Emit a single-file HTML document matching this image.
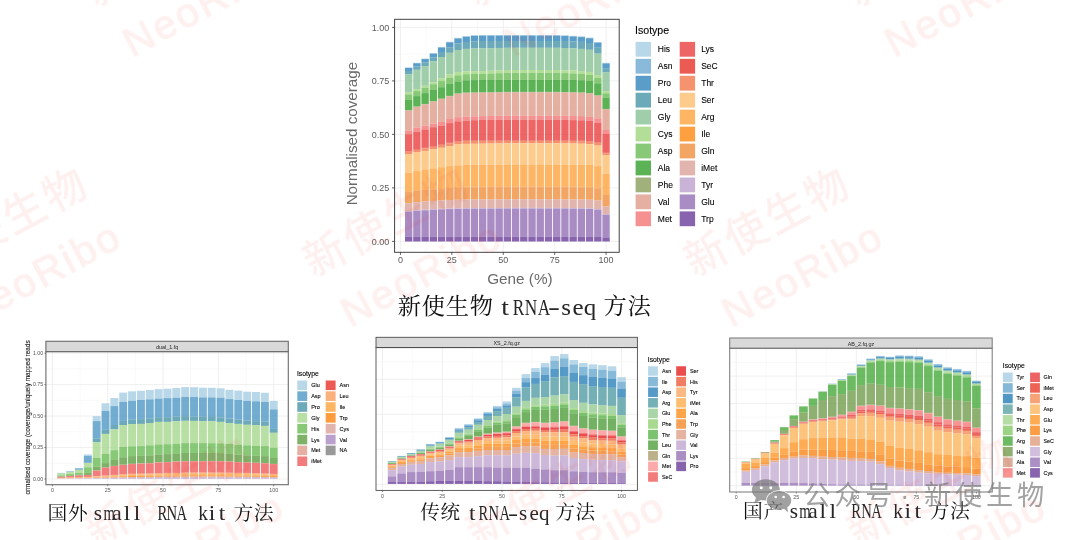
<!DOCTYPE html>
<html lang="zh-CN">
<head>
<meta charset="utf-8">
<title>tRNA-seq 方法比较</title>
<style>
html,body{margin:0;padding:0;background:#fff;}
#page{position:relative;width:1080px;height:540px;overflow:hidden;background:#fff;}
#charts{position:absolute;left:0;top:0;filter:blur(0.45px);}
#charts text{font-family:'Liberation Sans',sans-serif;}
.wm{position:absolute;width:300px;height:140px;transform:rotate(-28deg);color:rgb(235,45,40);opacity:0.066;text-align:center;white-space:nowrap;pointer-events:none;filter:blur(0.4px);}
.wm .w1{position:absolute;left:0;width:300px;top:13.6px;font-family:'Liberation Sans','Noto Sans CJK SC',sans-serif;font-size:42px;line-height:46px;letter-spacing:3.5px;text-indent:3.5px;font-weight:500;}
.wm .w2{position:absolute;left:8px;width:300px;top:76px;font-family:'Liberation Sans','Noto Sans CJK SC',sans-serif;font-size:40.5px;line-height:46px;letter-spacing:2.7px;font-weight:400;-webkit-text-stroke:1.1px rgb(235,45,40);}
.cj,.la{position:absolute;white-space:nowrap;color:#111;line-height:1.25;filter:blur(0.35px);}
.cj{font-family:'Liberation Serif','Noto Serif CJK SC',serif;font-weight:400;}
.la{font-family:'Liberation Serif',serif;color:#262626;}
.la i{display:inline-block;font-style:normal;text-align:center;}
#gz{position:absolute;left:748px;top:474px;width:320px;height:48px;opacity:0.7;filter:blur(0.45px);}
#gz .t{position:absolute;top:4.2px;font-family:'Liberation Sans','Noto Sans CJK SC',sans-serif;font-weight:400;font-size:27.2px;line-height:36px;letter-spacing:3.8px;color:#7c7c7c;white-space:nowrap;}
#gz svg{position:absolute;left:0;top:0;}
</style>
</head>
<body>
<div id="page">
<svg id="charts" width="1080" height="540" viewBox="0 0 1080 540">
<rect x="394.6" y="19.3" width="224.6" height="233" fill="#ffffff"/>
<line x1="426.15" y1="19.3" x2="426.15" y2="252.3" stroke="#f1f1f1" stroke-width="0.4"/>
<line x1="477.55" y1="19.3" x2="477.55" y2="252.3" stroke="#f1f1f1" stroke-width="0.4"/>
<line x1="528.95" y1="19.3" x2="528.95" y2="252.3" stroke="#f1f1f1" stroke-width="0.4"/>
<line x1="580.35" y1="19.3" x2="580.35" y2="252.3" stroke="#f1f1f1" stroke-width="0.4"/>
<line x1="394.6" y1="214.65" x2="619.2" y2="214.65" stroke="#f1f1f1" stroke-width="0.4"/>
<line x1="394.6" y1="161.15" x2="619.2" y2="161.15" stroke="#f1f1f1" stroke-width="0.4"/>
<line x1="394.6" y1="107.65" x2="619.2" y2="107.65" stroke="#f1f1f1" stroke-width="0.4"/>
<line x1="394.6" y1="54.15" x2="619.2" y2="54.15" stroke="#f1f1f1" stroke-width="0.4"/>
<line x1="400.45" y1="19.3" x2="400.45" y2="252.3" stroke="#e9e9e9" stroke-width="0.7"/>
<line x1="451.85" y1="19.3" x2="451.85" y2="252.3" stroke="#e9e9e9" stroke-width="0.7"/>
<line x1="503.25" y1="19.3" x2="503.25" y2="252.3" stroke="#e9e9e9" stroke-width="0.7"/>
<line x1="554.65" y1="19.3" x2="554.65" y2="252.3" stroke="#e9e9e9" stroke-width="0.7"/>
<line x1="606.05" y1="19.3" x2="606.05" y2="252.3" stroke="#e9e9e9" stroke-width="0.7"/>
<line x1="394.6" y1="241.4" x2="619.2" y2="241.4" stroke="#e9e9e9" stroke-width="0.7"/>
<line x1="394.6" y1="187.9" x2="619.2" y2="187.9" stroke="#e9e9e9" stroke-width="0.7"/>
<line x1="394.6" y1="134.4" x2="619.2" y2="134.4" stroke="#e9e9e9" stroke-width="0.7"/>
<line x1="394.6" y1="80.9" x2="619.2" y2="80.9" stroke="#e9e9e9" stroke-width="0.7"/>
<line x1="394.6" y1="27.4" x2="619.2" y2="27.4" stroke="#e9e9e9" stroke-width="0.7"/>
<rect x="405" y="67.5" width="7.35" height="0.18" fill="#a6cee3" fill-opacity="0.8"/>
<rect x="405" y="67.67" width="7.35" height="0.28" fill="#6ca9cf" fill-opacity="0.8"/>
<rect x="405" y="67.95" width="7.35" height="3.04" fill="#3284bb" fill-opacity="0.8"/>
<rect x="405" y="71" width="7.35" height="3.4" fill="#4995a8" fill-opacity="0.8"/>
<rect x="405" y="74.4" width="7.35" height="17.8" fill="#88c296" fill-opacity="0.8"/>
<rect x="405" y="92.2" width="7.35" height="2.2" fill="#a0d67d" fill-opacity="0.8"/>
<rect x="405" y="94.4" width="7.35" height="5.6" fill="#69bb54" fill-opacity="0.8"/>
<rect x="405" y="100" width="7.35" height="10.18" fill="#33a02c" fill-opacity="0.8"/>
<rect x="405" y="110.18" width="7.35" height="0.42" fill="#899d5b" fill-opacity="0.8"/>
<rect x="405" y="110.6" width="7.35" height="20" fill="#de9b89" fill-opacity="0.8"/>
<rect x="405" y="130.6" width="7.35" height="3.6" fill="#f47575" fill-opacity="0.8"/>
<rect x="405" y="134.2" width="7.35" height="16.97" fill="#ea3f40" fill-opacity="0.8"/>
<rect x="405" y="151.17" width="7.35" height="0.53" fill="#e73228" fill-opacity="0.8"/>
<rect x="405" y="151.7" width="7.35" height="2.7" fill="#f2784b" fill-opacity="0.8"/>
<rect x="405" y="154.4" width="7.35" height="18.4" fill="#fdbf6f" fill-opacity="0.8"/>
<rect x="405" y="172.8" width="7.35" height="18.33" fill="#fea43f" fill-opacity="0.8"/>
<rect x="405" y="191.13" width="7.35" height="0.57" fill="#ff8810" fill-opacity="0.8"/>
<rect x="405" y="191.7" width="7.35" height="11.6" fill="#f08e3d" fill-opacity="0.8"/>
<rect x="405" y="203.3" width="7.35" height="7.81" fill="#d9a399" fill-opacity="0.8"/>
<rect x="405" y="211.11" width="7.35" height="0.59" fill="#bca1cd" fill-opacity="0.8"/>
<rect x="405" y="211.7" width="7.35" height="25.1" fill="#936fb4" fill-opacity="0.8"/>
<rect x="405" y="236.8" width="7.35" height="4.7" fill="#6a3d9a" fill-opacity="0.8"/>
<rect x="413.22" y="62.8" width="7.35" height="0.19" fill="#a6cee3" fill-opacity="0.8"/>
<rect x="413.22" y="62.98" width="7.35" height="0.3" fill="#6ca9cf" fill-opacity="0.8"/>
<rect x="413.22" y="63.28" width="7.35" height="3.22" fill="#3284bb" fill-opacity="0.8"/>
<rect x="413.22" y="66.5" width="7.35" height="3.3" fill="#4995a8" fill-opacity="0.8"/>
<rect x="413.22" y="69.8" width="7.35" height="19.3" fill="#88c296" fill-opacity="0.8"/>
<rect x="413.22" y="89.1" width="7.35" height="2" fill="#a0d67d" fill-opacity="0.8"/>
<rect x="413.22" y="91.1" width="7.35" height="5" fill="#69bb54" fill-opacity="0.8"/>
<rect x="413.22" y="96.1" width="7.35" height="10.37" fill="#33a02c" fill-opacity="0.8"/>
<rect x="413.22" y="106.47" width="7.35" height="0.43" fill="#899d5b" fill-opacity="0.8"/>
<rect x="413.22" y="106.9" width="7.35" height="20.9" fill="#de9b89" fill-opacity="0.8"/>
<rect x="413.22" y="127.8" width="7.35" height="3.9" fill="#f47575" fill-opacity="0.8"/>
<rect x="413.22" y="131.7" width="7.35" height="17.75" fill="#ea3f40" fill-opacity="0.8"/>
<rect x="413.22" y="149.45" width="7.35" height="0.55" fill="#e73228" fill-opacity="0.8"/>
<rect x="413.22" y="150" width="7.35" height="2.4" fill="#f2784b" fill-opacity="0.8"/>
<rect x="413.22" y="152.4" width="7.35" height="18.7" fill="#fdbf6f" fill-opacity="0.8"/>
<rect x="413.22" y="171.1" width="7.35" height="18.91" fill="#fea43f" fill-opacity="0.8"/>
<rect x="413.22" y="190.01" width="7.35" height="0.58" fill="#ff8810" fill-opacity="0.8"/>
<rect x="413.22" y="190.6" width="7.35" height="11.6" fill="#f08e3d" fill-opacity="0.8"/>
<rect x="413.22" y="202.2" width="7.35" height="8" fill="#d9a399" fill-opacity="0.8"/>
<rect x="413.22" y="210.2" width="7.35" height="0.6" fill="#bca1cd" fill-opacity="0.8"/>
<rect x="413.22" y="210.8" width="7.35" height="26" fill="#936fb4" fill-opacity="0.8"/>
<rect x="413.22" y="236.8" width="7.35" height="4.7" fill="#6a3d9a" fill-opacity="0.8"/>
<rect x="421.45" y="58.6" width="7.35" height="0.19" fill="#a6cee3" fill-opacity="0.8"/>
<rect x="421.45" y="58.8" width="7.35" height="0.31" fill="#6ca9cf" fill-opacity="0.8"/>
<rect x="421.45" y="59.11" width="7.35" height="3.39" fill="#3284bb" fill-opacity="0.8"/>
<rect x="421.45" y="62.5" width="7.35" height="3.6" fill="#4995a8" fill-opacity="0.8"/>
<rect x="421.45" y="66.1" width="7.35" height="19.7" fill="#88c296" fill-opacity="0.8"/>
<rect x="421.45" y="85.8" width="7.35" height="2" fill="#a0d67d" fill-opacity="0.8"/>
<rect x="421.45" y="87.8" width="7.35" height="5.3" fill="#69bb54" fill-opacity="0.8"/>
<rect x="421.45" y="93.1" width="7.35" height="10.85" fill="#33a02c" fill-opacity="0.8"/>
<rect x="421.45" y="103.95" width="7.35" height="0.45" fill="#899d5b" fill-opacity="0.8"/>
<rect x="421.45" y="104.4" width="7.35" height="21.4" fill="#de9b89" fill-opacity="0.8"/>
<rect x="421.45" y="125.8" width="7.35" height="3.6" fill="#f47575" fill-opacity="0.8"/>
<rect x="421.45" y="129.4" width="7.35" height="18.33" fill="#ea3f40" fill-opacity="0.8"/>
<rect x="421.45" y="147.73" width="7.35" height="0.57" fill="#e73228" fill-opacity="0.8"/>
<rect x="421.45" y="148.3" width="7.35" height="2.6" fill="#f2784b" fill-opacity="0.8"/>
<rect x="421.45" y="150.9" width="7.35" height="18.5" fill="#fdbf6f" fill-opacity="0.8"/>
<rect x="421.45" y="169.4" width="7.35" height="19.98" fill="#fea43f" fill-opacity="0.8"/>
<rect x="421.45" y="189.38" width="7.35" height="0.62" fill="#ff8810" fill-opacity="0.8"/>
<rect x="421.45" y="190" width="7.35" height="11.4" fill="#f08e3d" fill-opacity="0.8"/>
<rect x="421.45" y="201.4" width="7.35" height="8.28" fill="#d9a399" fill-opacity="0.8"/>
<rect x="421.45" y="209.68" width="7.35" height="0.62" fill="#bca1cd" fill-opacity="0.8"/>
<rect x="421.45" y="210.3" width="7.35" height="26.5" fill="#936fb4" fill-opacity="0.8"/>
<rect x="421.45" y="236.8" width="7.35" height="4.7" fill="#6a3d9a" fill-opacity="0.8"/>
<rect x="429.67" y="53.1" width="7.35" height="0.22" fill="#a6cee3" fill-opacity="0.8"/>
<rect x="429.67" y="53.32" width="7.35" height="0.35" fill="#6ca9cf" fill-opacity="0.8"/>
<rect x="429.67" y="53.67" width="7.35" height="3.83" fill="#3284bb" fill-opacity="0.8"/>
<rect x="429.67" y="57.5" width="7.35" height="3.8" fill="#4995a8" fill-opacity="0.8"/>
<rect x="429.67" y="61.3" width="7.35" height="20.9" fill="#88c296" fill-opacity="0.8"/>
<rect x="429.67" y="82.2" width="7.35" height="2" fill="#a0d67d" fill-opacity="0.8"/>
<rect x="429.67" y="84.2" width="7.35" height="5.8" fill="#69bb54" fill-opacity="0.8"/>
<rect x="429.67" y="90" width="7.35" height="11.23" fill="#33a02c" fill-opacity="0.8"/>
<rect x="429.67" y="101.23" width="7.35" height="0.47" fill="#899d5b" fill-opacity="0.8"/>
<rect x="429.67" y="101.7" width="7.35" height="21.9" fill="#de9b89" fill-opacity="0.8"/>
<rect x="429.67" y="123.6" width="7.35" height="3.6" fill="#f47575" fill-opacity="0.8"/>
<rect x="429.67" y="127.2" width="7.35" height="19.11" fill="#ea3f40" fill-opacity="0.8"/>
<rect x="429.67" y="146.31" width="7.35" height="0.59" fill="#e73228" fill-opacity="0.8"/>
<rect x="429.67" y="146.9" width="7.35" height="2.5" fill="#f2784b" fill-opacity="0.8"/>
<rect x="429.67" y="149.4" width="7.35" height="18.9" fill="#fdbf6f" fill-opacity="0.8"/>
<rect x="429.67" y="168.3" width="7.35" height="20.47" fill="#fea43f" fill-opacity="0.8"/>
<rect x="429.67" y="188.77" width="7.35" height="0.63" fill="#ff8810" fill-opacity="0.8"/>
<rect x="429.67" y="189.4" width="7.35" height="11.5" fill="#f08e3d" fill-opacity="0.8"/>
<rect x="429.67" y="200.9" width="7.35" height="8.28" fill="#d9a399" fill-opacity="0.8"/>
<rect x="429.67" y="209.18" width="7.35" height="0.62" fill="#bca1cd" fill-opacity="0.8"/>
<rect x="429.67" y="209.8" width="7.35" height="27" fill="#936fb4" fill-opacity="0.8"/>
<rect x="429.67" y="236.8" width="7.35" height="4.7" fill="#6a3d9a" fill-opacity="0.8"/>
<rect x="437.89" y="46.9" width="7.35" height="0.26" fill="#a6cee3" fill-opacity="0.8"/>
<rect x="437.89" y="47.16" width="7.35" height="0.41" fill="#6ca9cf" fill-opacity="0.8"/>
<rect x="437.89" y="47.56" width="7.35" height="4.44" fill="#3284bb" fill-opacity="0.8"/>
<rect x="437.89" y="52" width="7.35" height="5" fill="#4995a8" fill-opacity="0.8"/>
<rect x="437.89" y="57" width="7.35" height="21.3" fill="#88c296" fill-opacity="0.8"/>
<rect x="437.89" y="78.3" width="7.35" height="2.8" fill="#a0d67d" fill-opacity="0.8"/>
<rect x="437.89" y="81.1" width="7.35" height="6.1" fill="#69bb54" fill-opacity="0.8"/>
<rect x="437.89" y="87.2" width="7.35" height="11.42" fill="#33a02c" fill-opacity="0.8"/>
<rect x="437.89" y="98.62" width="7.35" height="0.48" fill="#899d5b" fill-opacity="0.8"/>
<rect x="437.89" y="99.1" width="7.35" height="22.6" fill="#de9b89" fill-opacity="0.8"/>
<rect x="437.89" y="121.7" width="7.35" height="3.9" fill="#f47575" fill-opacity="0.8"/>
<rect x="437.89" y="125.6" width="7.35" height="18.82" fill="#ea3f40" fill-opacity="0.8"/>
<rect x="437.89" y="144.42" width="7.35" height="0.58" fill="#e73228" fill-opacity="0.8"/>
<rect x="437.89" y="145" width="7.35" height="2.8" fill="#f2784b" fill-opacity="0.8"/>
<rect x="437.89" y="147.8" width="7.35" height="19.4" fill="#fdbf6f" fill-opacity="0.8"/>
<rect x="437.89" y="167.2" width="7.35" height="21.05" fill="#fea43f" fill-opacity="0.8"/>
<rect x="437.89" y="188.25" width="7.35" height="0.65" fill="#ff8810" fill-opacity="0.8"/>
<rect x="437.89" y="188.9" width="7.35" height="11.4" fill="#f08e3d" fill-opacity="0.8"/>
<rect x="437.89" y="200.3" width="7.35" height="8.46" fill="#d9a399" fill-opacity="0.8"/>
<rect x="437.89" y="208.76" width="7.35" height="0.64" fill="#bca1cd" fill-opacity="0.8"/>
<rect x="437.89" y="209.4" width="7.35" height="27.4" fill="#936fb4" fill-opacity="0.8"/>
<rect x="437.89" y="236.8" width="7.35" height="4.7" fill="#6a3d9a" fill-opacity="0.8"/>
<rect x="446.12" y="41.7" width="7.35" height="0.28" fill="#a6cee3" fill-opacity="0.8"/>
<rect x="446.12" y="41.98" width="7.35" height="0.45" fill="#6ca9cf" fill-opacity="0.8"/>
<rect x="446.12" y="42.43" width="7.35" height="4.87" fill="#3284bb" fill-opacity="0.8"/>
<rect x="446.12" y="47.3" width="7.35" height="5.5" fill="#4995a8" fill-opacity="0.8"/>
<rect x="446.12" y="52.8" width="7.35" height="21.6" fill="#88c296" fill-opacity="0.8"/>
<rect x="446.12" y="74.4" width="7.35" height="3.4" fill="#a0d67d" fill-opacity="0.8"/>
<rect x="446.12" y="77.8" width="7.35" height="6.1" fill="#69bb54" fill-opacity="0.8"/>
<rect x="446.12" y="83.9" width="7.35" height="12" fill="#33a02c" fill-opacity="0.8"/>
<rect x="446.12" y="95.9" width="7.35" height="0.5" fill="#899d5b" fill-opacity="0.8"/>
<rect x="446.12" y="96.4" width="7.35" height="22.5" fill="#de9b89" fill-opacity="0.8"/>
<rect x="446.12" y="118.9" width="7.35" height="4.2" fill="#f47575" fill-opacity="0.8"/>
<rect x="446.12" y="123.1" width="7.35" height="19.59" fill="#ea3f40" fill-opacity="0.8"/>
<rect x="446.12" y="142.69" width="7.35" height="0.61" fill="#e73228" fill-opacity="0.8"/>
<rect x="446.12" y="143.3" width="7.35" height="2.8" fill="#f2784b" fill-opacity="0.8"/>
<rect x="446.12" y="146.1" width="7.35" height="20" fill="#fdbf6f" fill-opacity="0.8"/>
<rect x="446.12" y="166.1" width="7.35" height="21.24" fill="#fea43f" fill-opacity="0.8"/>
<rect x="446.12" y="187.34" width="7.35" height="0.66" fill="#ff8810" fill-opacity="0.8"/>
<rect x="446.12" y="188" width="7.35" height="12" fill="#f08e3d" fill-opacity="0.8"/>
<rect x="446.12" y="200" width="7.35" height="8.46" fill="#d9a399" fill-opacity="0.8"/>
<rect x="446.12" y="208.46" width="7.35" height="0.64" fill="#bca1cd" fill-opacity="0.8"/>
<rect x="446.12" y="209.1" width="7.35" height="27.7" fill="#936fb4" fill-opacity="0.8"/>
<rect x="446.12" y="236.8" width="7.35" height="4.7" fill="#6a3d9a" fill-opacity="0.8"/>
<rect x="454.34" y="37.8" width="7.35" height="0.29" fill="#a6cee3" fill-opacity="0.8"/>
<rect x="454.34" y="38.08" width="7.35" height="0.46" fill="#6ca9cf" fill-opacity="0.8"/>
<rect x="454.34" y="38.54" width="7.35" height="4.96" fill="#3284bb" fill-opacity="0.8"/>
<rect x="454.34" y="43.5" width="7.35" height="6.5" fill="#4995a8" fill-opacity="0.8"/>
<rect x="454.34" y="50" width="7.35" height="22" fill="#88c296" fill-opacity="0.8"/>
<rect x="454.34" y="72" width="7.35" height="3.3" fill="#a0d67d" fill-opacity="0.8"/>
<rect x="454.34" y="75.3" width="7.35" height="6.7" fill="#69bb54" fill-opacity="0.8"/>
<rect x="454.34" y="82" width="7.35" height="11.42" fill="#33a02c" fill-opacity="0.8"/>
<rect x="454.34" y="93.42" width="7.35" height="0.48" fill="#899d5b" fill-opacity="0.8"/>
<rect x="454.34" y="93.9" width="7.35" height="23.3" fill="#de9b89" fill-opacity="0.8"/>
<rect x="454.34" y="117.2" width="7.35" height="4.1" fill="#f47575" fill-opacity="0.8"/>
<rect x="454.34" y="121.3" width="7.35" height="19.79" fill="#ea3f40" fill-opacity="0.8"/>
<rect x="454.34" y="141.09" width="7.35" height="0.61" fill="#e73228" fill-opacity="0.8"/>
<rect x="454.34" y="141.7" width="7.35" height="2.7" fill="#f2784b" fill-opacity="0.8"/>
<rect x="454.34" y="144.4" width="7.35" height="20.9" fill="#fdbf6f" fill-opacity="0.8"/>
<rect x="454.34" y="165.3" width="7.35" height="21.63" fill="#fea43f" fill-opacity="0.8"/>
<rect x="454.34" y="186.93" width="7.35" height="0.67" fill="#ff8810" fill-opacity="0.8"/>
<rect x="454.34" y="187.6" width="7.35" height="12.1" fill="#f08e3d" fill-opacity="0.8"/>
<rect x="454.34" y="199.7" width="7.35" height="8.56" fill="#d9a399" fill-opacity="0.8"/>
<rect x="454.34" y="208.26" width="7.35" height="0.64" fill="#bca1cd" fill-opacity="0.8"/>
<rect x="454.34" y="208.9" width="7.35" height="27.9" fill="#936fb4" fill-opacity="0.8"/>
<rect x="454.34" y="236.8" width="7.35" height="4.7" fill="#6a3d9a" fill-opacity="0.8"/>
<rect x="462.57" y="36.1" width="7.35" height="0.29" fill="#a6cee3" fill-opacity="0.8"/>
<rect x="462.57" y="36.4" width="7.35" height="0.47" fill="#6ca9cf" fill-opacity="0.8"/>
<rect x="462.57" y="36.87" width="7.35" height="5.13" fill="#3284bb" fill-opacity="0.8"/>
<rect x="462.57" y="42" width="7.35" height="6.9" fill="#4995a8" fill-opacity="0.8"/>
<rect x="462.57" y="48.9" width="7.35" height="22.5" fill="#88c296" fill-opacity="0.8"/>
<rect x="462.57" y="71.4" width="7.35" height="2.8" fill="#a0d67d" fill-opacity="0.8"/>
<rect x="462.57" y="74.2" width="7.35" height="6.1" fill="#69bb54" fill-opacity="0.8"/>
<rect x="462.57" y="80.3" width="7.35" height="12.29" fill="#33a02c" fill-opacity="0.8"/>
<rect x="462.57" y="92.59" width="7.35" height="0.51" fill="#899d5b" fill-opacity="0.8"/>
<rect x="462.57" y="93.1" width="7.35" height="23.6" fill="#de9b89" fill-opacity="0.8"/>
<rect x="462.57" y="116.7" width="7.35" height="3.9" fill="#f47575" fill-opacity="0.8"/>
<rect x="462.57" y="120.6" width="7.35" height="19.69" fill="#ea3f40" fill-opacity="0.8"/>
<rect x="462.57" y="140.29" width="7.35" height="0.61" fill="#e73228" fill-opacity="0.8"/>
<rect x="462.57" y="140.9" width="7.35" height="3" fill="#f2784b" fill-opacity="0.8"/>
<rect x="462.57" y="143.9" width="7.35" height="21.1" fill="#fdbf6f" fill-opacity="0.8"/>
<rect x="462.57" y="165" width="7.35" height="21.73" fill="#fea43f" fill-opacity="0.8"/>
<rect x="462.57" y="186.73" width="7.35" height="0.67" fill="#ff8810" fill-opacity="0.8"/>
<rect x="462.57" y="187.4" width="7.35" height="12.1" fill="#f08e3d" fill-opacity="0.8"/>
<rect x="462.57" y="199.5" width="7.35" height="8.65" fill="#d9a399" fill-opacity="0.8"/>
<rect x="462.57" y="208.15" width="7.35" height="0.65" fill="#bca1cd" fill-opacity="0.8"/>
<rect x="462.57" y="208.8" width="7.35" height="28" fill="#936fb4" fill-opacity="0.8"/>
<rect x="462.57" y="236.8" width="7.35" height="4.7" fill="#6a3d9a" fill-opacity="0.8"/>
<rect x="470.79" y="35.2" width="7.35" height="0.3" fill="#a6cee3" fill-opacity="0.8"/>
<rect x="470.79" y="35.51" width="7.35" height="0.49" fill="#6ca9cf" fill-opacity="0.8"/>
<rect x="470.79" y="35.99" width="7.35" height="5.31" fill="#3284bb" fill-opacity="0.8"/>
<rect x="470.79" y="41.3" width="7.35" height="7.2" fill="#4995a8" fill-opacity="0.8"/>
<rect x="470.79" y="48.5" width="7.35" height="22.7" fill="#88c296" fill-opacity="0.8"/>
<rect x="470.79" y="71.2" width="7.35" height="2.8" fill="#a0d67d" fill-opacity="0.8"/>
<rect x="470.79" y="74" width="7.35" height="6.1" fill="#69bb54" fill-opacity="0.8"/>
<rect x="470.79" y="80.1" width="7.35" height="12.29" fill="#33a02c" fill-opacity="0.8"/>
<rect x="470.79" y="92.39" width="7.35" height="0.51" fill="#899d5b" fill-opacity="0.8"/>
<rect x="470.79" y="92.9" width="7.35" height="23.4" fill="#de9b89" fill-opacity="0.8"/>
<rect x="470.79" y="116.3" width="7.35" height="3.9" fill="#f47575" fill-opacity="0.8"/>
<rect x="470.79" y="120.2" width="7.35" height="20.08" fill="#ea3f40" fill-opacity="0.8"/>
<rect x="470.79" y="140.28" width="7.35" height="0.62" fill="#e73228" fill-opacity="0.8"/>
<rect x="470.79" y="140.9" width="7.35" height="2.9" fill="#f2784b" fill-opacity="0.8"/>
<rect x="470.79" y="143.8" width="7.35" height="21" fill="#fdbf6f" fill-opacity="0.8"/>
<rect x="470.79" y="164.8" width="7.35" height="21.82" fill="#fea43f" fill-opacity="0.8"/>
<rect x="470.79" y="186.62" width="7.35" height="0.67" fill="#ff8810" fill-opacity="0.8"/>
<rect x="470.79" y="187.3" width="7.35" height="12.1" fill="#f08e3d" fill-opacity="0.8"/>
<rect x="470.79" y="199.4" width="7.35" height="8.65" fill="#d9a399" fill-opacity="0.8"/>
<rect x="470.79" y="208.05" width="7.35" height="0.65" fill="#bca1cd" fill-opacity="0.8"/>
<rect x="470.79" y="208.7" width="7.35" height="28.1" fill="#936fb4" fill-opacity="0.8"/>
<rect x="470.79" y="236.8" width="7.35" height="4.7" fill="#6a3d9a" fill-opacity="0.8"/>
<rect x="479.01" y="35" width="7.35" height="0.3" fill="#a6cee3" fill-opacity="0.8"/>
<rect x="479.01" y="35.3" width="7.35" height="0.48" fill="#6ca9cf" fill-opacity="0.8"/>
<rect x="479.01" y="35.78" width="7.35" height="5.22" fill="#3284bb" fill-opacity="0.8"/>
<rect x="479.01" y="41" width="7.35" height="7.3" fill="#4995a8" fill-opacity="0.8"/>
<rect x="479.01" y="48.3" width="7.35" height="22.8" fill="#88c296" fill-opacity="0.8"/>
<rect x="479.01" y="71.1" width="7.35" height="2.8" fill="#a0d67d" fill-opacity="0.8"/>
<rect x="479.01" y="73.9" width="7.35" height="6.1" fill="#69bb54" fill-opacity="0.8"/>
<rect x="479.01" y="80" width="7.35" height="12.29" fill="#33a02c" fill-opacity="0.8"/>
<rect x="479.01" y="92.29" width="7.35" height="0.51" fill="#899d5b" fill-opacity="0.8"/>
<rect x="479.01" y="92.8" width="7.35" height="23.3" fill="#de9b89" fill-opacity="0.8"/>
<rect x="479.01" y="116.1" width="7.35" height="3.9" fill="#f47575" fill-opacity="0.8"/>
<rect x="479.01" y="120" width="7.35" height="20.27" fill="#ea3f40" fill-opacity="0.8"/>
<rect x="479.01" y="140.27" width="7.35" height="0.63" fill="#e73228" fill-opacity="0.8"/>
<rect x="479.01" y="140.9" width="7.35" height="2.8" fill="#f2784b" fill-opacity="0.8"/>
<rect x="479.01" y="143.7" width="7.35" height="21" fill="#fdbf6f" fill-opacity="0.8"/>
<rect x="479.01" y="164.7" width="7.35" height="21.82" fill="#fea43f" fill-opacity="0.8"/>
<rect x="479.01" y="186.52" width="7.35" height="0.67" fill="#ff8810" fill-opacity="0.8"/>
<rect x="479.01" y="187.2" width="7.35" height="12.2" fill="#f08e3d" fill-opacity="0.8"/>
<rect x="479.01" y="199.4" width="7.35" height="8.65" fill="#d9a399" fill-opacity="0.8"/>
<rect x="479.01" y="208.05" width="7.35" height="0.65" fill="#bca1cd" fill-opacity="0.8"/>
<rect x="479.01" y="208.7" width="7.35" height="28.1" fill="#936fb4" fill-opacity="0.8"/>
<rect x="479.01" y="236.8" width="7.35" height="4.7" fill="#6a3d9a" fill-opacity="0.8"/>
<rect x="487.24" y="35" width="7.35" height="0.3" fill="#a6cee3" fill-opacity="0.8"/>
<rect x="487.24" y="35.3" width="7.35" height="0.48" fill="#6ca9cf" fill-opacity="0.8"/>
<rect x="487.24" y="35.78" width="7.35" height="5.22" fill="#3284bb" fill-opacity="0.8"/>
<rect x="487.24" y="41" width="7.35" height="7.13" fill="#4995a8" fill-opacity="0.8"/>
<rect x="487.24" y="48.13" width="7.35" height="22.6" fill="#88c296" fill-opacity="0.8"/>
<rect x="487.24" y="70.73" width="7.35" height="2.8" fill="#a0d67d" fill-opacity="0.8"/>
<rect x="487.24" y="73.53" width="7.35" height="6.4" fill="#69bb54" fill-opacity="0.8"/>
<rect x="487.24" y="79.93" width="7.35" height="12.22" fill="#33a02c" fill-opacity="0.8"/>
<rect x="487.24" y="92.16" width="7.35" height="0.51" fill="#899d5b" fill-opacity="0.8"/>
<rect x="487.24" y="92.67" width="7.35" height="23.27" fill="#de9b89" fill-opacity="0.8"/>
<rect x="487.24" y="115.93" width="7.35" height="4" fill="#f47575" fill-opacity="0.8"/>
<rect x="487.24" y="119.93" width="7.35" height="20.34" fill="#ea3f40" fill-opacity="0.8"/>
<rect x="487.24" y="140.27" width="7.35" height="0.63" fill="#e73228" fill-opacity="0.8"/>
<rect x="487.24" y="140.9" width="7.35" height="2.67" fill="#f2784b" fill-opacity="0.8"/>
<rect x="487.24" y="143.57" width="7.35" height="21.03" fill="#fdbf6f" fill-opacity="0.8"/>
<rect x="487.24" y="164.6" width="7.35" height="21.92" fill="#fea43f" fill-opacity="0.8"/>
<rect x="487.24" y="186.52" width="7.35" height="0.68" fill="#ff8810" fill-opacity="0.8"/>
<rect x="487.24" y="187.2" width="7.35" height="12.13" fill="#f08e3d" fill-opacity="0.8"/>
<rect x="487.24" y="199.33" width="7.35" height="8.68" fill="#d9a399" fill-opacity="0.8"/>
<rect x="487.24" y="208.01" width="7.35" height="0.65" fill="#bca1cd" fill-opacity="0.8"/>
<rect x="487.24" y="208.67" width="7.35" height="28.13" fill="#936fb4" fill-opacity="0.8"/>
<rect x="487.24" y="236.8" width="7.35" height="4.7" fill="#6a3d9a" fill-opacity="0.8"/>
<rect x="495.46" y="35" width="7.35" height="0.3" fill="#a6cee3" fill-opacity="0.8"/>
<rect x="495.46" y="35.3" width="7.35" height="0.48" fill="#6ca9cf" fill-opacity="0.8"/>
<rect x="495.46" y="35.78" width="7.35" height="5.22" fill="#3284bb" fill-opacity="0.8"/>
<rect x="495.46" y="41" width="7.35" height="6.97" fill="#4995a8" fill-opacity="0.8"/>
<rect x="495.46" y="47.97" width="7.35" height="22.4" fill="#88c296" fill-opacity="0.8"/>
<rect x="495.46" y="70.37" width="7.35" height="2.8" fill="#a0d67d" fill-opacity="0.8"/>
<rect x="495.46" y="73.17" width="7.35" height="6.7" fill="#69bb54" fill-opacity="0.8"/>
<rect x="495.46" y="79.87" width="7.35" height="12.16" fill="#33a02c" fill-opacity="0.8"/>
<rect x="495.46" y="92.03" width="7.35" height="0.51" fill="#899d5b" fill-opacity="0.8"/>
<rect x="495.46" y="92.53" width="7.35" height="23.23" fill="#de9b89" fill-opacity="0.8"/>
<rect x="495.46" y="115.77" width="7.35" height="4.1" fill="#f47575" fill-opacity="0.8"/>
<rect x="495.46" y="119.87" width="7.35" height="20.4" fill="#ea3f40" fill-opacity="0.8"/>
<rect x="495.46" y="140.27" width="7.35" height="0.63" fill="#e73228" fill-opacity="0.8"/>
<rect x="495.46" y="140.9" width="7.35" height="2.53" fill="#f2784b" fill-opacity="0.8"/>
<rect x="495.46" y="143.43" width="7.35" height="21.07" fill="#fdbf6f" fill-opacity="0.8"/>
<rect x="495.46" y="164.5" width="7.35" height="22.02" fill="#fea43f" fill-opacity="0.8"/>
<rect x="495.46" y="186.52" width="7.35" height="0.68" fill="#ff8810" fill-opacity="0.8"/>
<rect x="495.46" y="187.2" width="7.35" height="12.07" fill="#f08e3d" fill-opacity="0.8"/>
<rect x="495.46" y="199.27" width="7.35" height="8.71" fill="#d9a399" fill-opacity="0.8"/>
<rect x="495.46" y="207.98" width="7.35" height="0.66" fill="#bca1cd" fill-opacity="0.8"/>
<rect x="495.46" y="208.63" width="7.35" height="28.17" fill="#936fb4" fill-opacity="0.8"/>
<rect x="495.46" y="236.8" width="7.35" height="4.7" fill="#6a3d9a" fill-opacity="0.8"/>
<rect x="503.69" y="35" width="7.35" height="0.3" fill="#a6cee3" fill-opacity="0.8"/>
<rect x="503.69" y="35.3" width="7.35" height="0.48" fill="#6ca9cf" fill-opacity="0.8"/>
<rect x="503.69" y="35.78" width="7.35" height="5.22" fill="#3284bb" fill-opacity="0.8"/>
<rect x="503.69" y="41" width="7.35" height="6.8" fill="#4995a8" fill-opacity="0.8"/>
<rect x="503.69" y="47.8" width="7.35" height="22.2" fill="#88c296" fill-opacity="0.8"/>
<rect x="503.69" y="70" width="7.35" height="2.8" fill="#a0d67d" fill-opacity="0.8"/>
<rect x="503.69" y="72.8" width="7.35" height="7" fill="#69bb54" fill-opacity="0.8"/>
<rect x="503.69" y="79.8" width="7.35" height="12.1" fill="#33a02c" fill-opacity="0.8"/>
<rect x="503.69" y="91.9" width="7.35" height="0.5" fill="#899d5b" fill-opacity="0.8"/>
<rect x="503.69" y="92.4" width="7.35" height="23.2" fill="#de9b89" fill-opacity="0.8"/>
<rect x="503.69" y="115.6" width="7.35" height="4.2" fill="#f47575" fill-opacity="0.8"/>
<rect x="503.69" y="119.8" width="7.35" height="20.47" fill="#ea3f40" fill-opacity="0.8"/>
<rect x="503.69" y="140.27" width="7.35" height="0.63" fill="#e73228" fill-opacity="0.8"/>
<rect x="503.69" y="140.9" width="7.35" height="2.4" fill="#f2784b" fill-opacity="0.8"/>
<rect x="503.69" y="143.3" width="7.35" height="21.1" fill="#fdbf6f" fill-opacity="0.8"/>
<rect x="503.69" y="164.4" width="7.35" height="22.12" fill="#fea43f" fill-opacity="0.8"/>
<rect x="503.69" y="186.52" width="7.35" height="0.68" fill="#ff8810" fill-opacity="0.8"/>
<rect x="503.69" y="187.2" width="7.35" height="12" fill="#f08e3d" fill-opacity="0.8"/>
<rect x="503.69" y="199.2" width="7.35" height="8.74" fill="#d9a399" fill-opacity="0.8"/>
<rect x="503.69" y="207.94" width="7.35" height="0.66" fill="#bca1cd" fill-opacity="0.8"/>
<rect x="503.69" y="208.6" width="7.35" height="28.2" fill="#936fb4" fill-opacity="0.8"/>
<rect x="503.69" y="236.8" width="7.35" height="4.7" fill="#6a3d9a" fill-opacity="0.8"/>
<rect x="511.91" y="35" width="7.35" height="0.3" fill="#a6cee3" fill-opacity="0.8"/>
<rect x="511.91" y="35.3" width="7.35" height="0.48" fill="#6ca9cf" fill-opacity="0.8"/>
<rect x="511.91" y="35.78" width="7.35" height="5.22" fill="#3284bb" fill-opacity="0.8"/>
<rect x="511.91" y="41" width="7.35" height="6.8" fill="#4995a8" fill-opacity="0.8"/>
<rect x="511.91" y="47.8" width="7.35" height="22.2" fill="#88c296" fill-opacity="0.8"/>
<rect x="511.91" y="70" width="7.35" height="2.8" fill="#a0d67d" fill-opacity="0.8"/>
<rect x="511.91" y="72.8" width="7.35" height="7" fill="#69bb54" fill-opacity="0.8"/>
<rect x="511.91" y="79.8" width="7.35" height="12.1" fill="#33a02c" fill-opacity="0.8"/>
<rect x="511.91" y="91.9" width="7.35" height="0.5" fill="#899d5b" fill-opacity="0.8"/>
<rect x="511.91" y="92.4" width="7.35" height="23.2" fill="#de9b89" fill-opacity="0.8"/>
<rect x="511.91" y="115.6" width="7.35" height="4.2" fill="#f47575" fill-opacity="0.8"/>
<rect x="511.91" y="119.8" width="7.35" height="20.47" fill="#ea3f40" fill-opacity="0.8"/>
<rect x="511.91" y="140.27" width="7.35" height="0.63" fill="#e73228" fill-opacity="0.8"/>
<rect x="511.91" y="140.9" width="7.35" height="2.4" fill="#f2784b" fill-opacity="0.8"/>
<rect x="511.91" y="143.3" width="7.35" height="21.1" fill="#fdbf6f" fill-opacity="0.8"/>
<rect x="511.91" y="164.4" width="7.35" height="22.12" fill="#fea43f" fill-opacity="0.8"/>
<rect x="511.91" y="186.52" width="7.35" height="0.68" fill="#ff8810" fill-opacity="0.8"/>
<rect x="511.91" y="187.2" width="7.35" height="12" fill="#f08e3d" fill-opacity="0.8"/>
<rect x="511.91" y="199.2" width="7.35" height="8.74" fill="#d9a399" fill-opacity="0.8"/>
<rect x="511.91" y="207.94" width="7.35" height="0.66" fill="#bca1cd" fill-opacity="0.8"/>
<rect x="511.91" y="208.6" width="7.35" height="28.2" fill="#936fb4" fill-opacity="0.8"/>
<rect x="511.91" y="236.8" width="7.35" height="4.7" fill="#6a3d9a" fill-opacity="0.8"/>
<rect x="520.13" y="35" width="7.35" height="0.3" fill="#a6cee3" fill-opacity="0.8"/>
<rect x="520.13" y="35.3" width="7.35" height="0.48" fill="#6ca9cf" fill-opacity="0.8"/>
<rect x="520.13" y="35.78" width="7.35" height="5.22" fill="#3284bb" fill-opacity="0.8"/>
<rect x="520.13" y="41" width="7.35" height="6.8" fill="#4995a8" fill-opacity="0.8"/>
<rect x="520.13" y="47.8" width="7.35" height="22.2" fill="#88c296" fill-opacity="0.8"/>
<rect x="520.13" y="70" width="7.35" height="2.8" fill="#a0d67d" fill-opacity="0.8"/>
<rect x="520.13" y="72.8" width="7.35" height="7" fill="#69bb54" fill-opacity="0.8"/>
<rect x="520.13" y="79.8" width="7.35" height="12.1" fill="#33a02c" fill-opacity="0.8"/>
<rect x="520.13" y="91.9" width="7.35" height="0.5" fill="#899d5b" fill-opacity="0.8"/>
<rect x="520.13" y="92.4" width="7.35" height="23.2" fill="#de9b89" fill-opacity="0.8"/>
<rect x="520.13" y="115.6" width="7.35" height="4.2" fill="#f47575" fill-opacity="0.8"/>
<rect x="520.13" y="119.8" width="7.35" height="20.47" fill="#ea3f40" fill-opacity="0.8"/>
<rect x="520.13" y="140.27" width="7.35" height="0.63" fill="#e73228" fill-opacity="0.8"/>
<rect x="520.13" y="140.9" width="7.35" height="2.4" fill="#f2784b" fill-opacity="0.8"/>
<rect x="520.13" y="143.3" width="7.35" height="21.1" fill="#fdbf6f" fill-opacity="0.8"/>
<rect x="520.13" y="164.4" width="7.35" height="22.12" fill="#fea43f" fill-opacity="0.8"/>
<rect x="520.13" y="186.52" width="7.35" height="0.68" fill="#ff8810" fill-opacity="0.8"/>
<rect x="520.13" y="187.2" width="7.35" height="12" fill="#f08e3d" fill-opacity="0.8"/>
<rect x="520.13" y="199.2" width="7.35" height="8.74" fill="#d9a399" fill-opacity="0.8"/>
<rect x="520.13" y="207.94" width="7.35" height="0.66" fill="#bca1cd" fill-opacity="0.8"/>
<rect x="520.13" y="208.6" width="7.35" height="28.2" fill="#936fb4" fill-opacity="0.8"/>
<rect x="520.13" y="236.8" width="7.35" height="4.7" fill="#6a3d9a" fill-opacity="0.8"/>
<rect x="528.36" y="35" width="7.35" height="0.3" fill="#a6cee3" fill-opacity="0.8"/>
<rect x="528.36" y="35.3" width="7.35" height="0.48" fill="#6ca9cf" fill-opacity="0.8"/>
<rect x="528.36" y="35.78" width="7.35" height="5.22" fill="#3284bb" fill-opacity="0.8"/>
<rect x="528.36" y="41" width="7.35" height="6.8" fill="#4995a8" fill-opacity="0.8"/>
<rect x="528.36" y="47.8" width="7.35" height="22.2" fill="#88c296" fill-opacity="0.8"/>
<rect x="528.36" y="70" width="7.35" height="2.8" fill="#a0d67d" fill-opacity="0.8"/>
<rect x="528.36" y="72.8" width="7.35" height="7" fill="#69bb54" fill-opacity="0.8"/>
<rect x="528.36" y="79.8" width="7.35" height="12.1" fill="#33a02c" fill-opacity="0.8"/>
<rect x="528.36" y="91.9" width="7.35" height="0.5" fill="#899d5b" fill-opacity="0.8"/>
<rect x="528.36" y="92.4" width="7.35" height="23.2" fill="#de9b89" fill-opacity="0.8"/>
<rect x="528.36" y="115.6" width="7.35" height="4.2" fill="#f47575" fill-opacity="0.8"/>
<rect x="528.36" y="119.8" width="7.35" height="20.47" fill="#ea3f40" fill-opacity="0.8"/>
<rect x="528.36" y="140.27" width="7.35" height="0.63" fill="#e73228" fill-opacity="0.8"/>
<rect x="528.36" y="140.9" width="7.35" height="2.4" fill="#f2784b" fill-opacity="0.8"/>
<rect x="528.36" y="143.3" width="7.35" height="21.1" fill="#fdbf6f" fill-opacity="0.8"/>
<rect x="528.36" y="164.4" width="7.35" height="22.12" fill="#fea43f" fill-opacity="0.8"/>
<rect x="528.36" y="186.52" width="7.35" height="0.68" fill="#ff8810" fill-opacity="0.8"/>
<rect x="528.36" y="187.2" width="7.35" height="12" fill="#f08e3d" fill-opacity="0.8"/>
<rect x="528.36" y="199.2" width="7.35" height="8.74" fill="#d9a399" fill-opacity="0.8"/>
<rect x="528.36" y="207.94" width="7.35" height="0.66" fill="#bca1cd" fill-opacity="0.8"/>
<rect x="528.36" y="208.6" width="7.35" height="28.2" fill="#936fb4" fill-opacity="0.8"/>
<rect x="528.36" y="236.8" width="7.35" height="4.7" fill="#6a3d9a" fill-opacity="0.8"/>
<rect x="536.58" y="35" width="7.35" height="0.3" fill="#a6cee3" fill-opacity="0.8"/>
<rect x="536.58" y="35.3" width="7.35" height="0.48" fill="#6ca9cf" fill-opacity="0.8"/>
<rect x="536.58" y="35.78" width="7.35" height="5.22" fill="#3284bb" fill-opacity="0.8"/>
<rect x="536.58" y="41" width="7.35" height="6.8" fill="#4995a8" fill-opacity="0.8"/>
<rect x="536.58" y="47.8" width="7.35" height="22.2" fill="#88c296" fill-opacity="0.8"/>
<rect x="536.58" y="70" width="7.35" height="2.8" fill="#a0d67d" fill-opacity="0.8"/>
<rect x="536.58" y="72.8" width="7.35" height="7" fill="#69bb54" fill-opacity="0.8"/>
<rect x="536.58" y="79.8" width="7.35" height="12.1" fill="#33a02c" fill-opacity="0.8"/>
<rect x="536.58" y="91.9" width="7.35" height="0.5" fill="#899d5b" fill-opacity="0.8"/>
<rect x="536.58" y="92.4" width="7.35" height="23.2" fill="#de9b89" fill-opacity="0.8"/>
<rect x="536.58" y="115.6" width="7.35" height="4.2" fill="#f47575" fill-opacity="0.8"/>
<rect x="536.58" y="119.8" width="7.35" height="20.47" fill="#ea3f40" fill-opacity="0.8"/>
<rect x="536.58" y="140.27" width="7.35" height="0.63" fill="#e73228" fill-opacity="0.8"/>
<rect x="536.58" y="140.9" width="7.35" height="2.4" fill="#f2784b" fill-opacity="0.8"/>
<rect x="536.58" y="143.3" width="7.35" height="21.1" fill="#fdbf6f" fill-opacity="0.8"/>
<rect x="536.58" y="164.4" width="7.35" height="22.12" fill="#fea43f" fill-opacity="0.8"/>
<rect x="536.58" y="186.52" width="7.35" height="0.68" fill="#ff8810" fill-opacity="0.8"/>
<rect x="536.58" y="187.2" width="7.35" height="12" fill="#f08e3d" fill-opacity="0.8"/>
<rect x="536.58" y="199.2" width="7.35" height="8.74" fill="#d9a399" fill-opacity="0.8"/>
<rect x="536.58" y="207.94" width="7.35" height="0.66" fill="#bca1cd" fill-opacity="0.8"/>
<rect x="536.58" y="208.6" width="7.35" height="28.2" fill="#936fb4" fill-opacity="0.8"/>
<rect x="536.58" y="236.8" width="7.35" height="4.7" fill="#6a3d9a" fill-opacity="0.8"/>
<rect x="544.81" y="35" width="7.35" height="0.3" fill="#a6cee3" fill-opacity="0.8"/>
<rect x="544.81" y="35.3" width="7.35" height="0.48" fill="#6ca9cf" fill-opacity="0.8"/>
<rect x="544.81" y="35.78" width="7.35" height="5.22" fill="#3284bb" fill-opacity="0.8"/>
<rect x="544.81" y="41" width="7.35" height="6.8" fill="#4995a8" fill-opacity="0.8"/>
<rect x="544.81" y="47.8" width="7.35" height="22.2" fill="#88c296" fill-opacity="0.8"/>
<rect x="544.81" y="70" width="7.35" height="2.8" fill="#a0d67d" fill-opacity="0.8"/>
<rect x="544.81" y="72.8" width="7.35" height="7" fill="#69bb54" fill-opacity="0.8"/>
<rect x="544.81" y="79.8" width="7.35" height="12.1" fill="#33a02c" fill-opacity="0.8"/>
<rect x="544.81" y="91.9" width="7.35" height="0.5" fill="#899d5b" fill-opacity="0.8"/>
<rect x="544.81" y="92.4" width="7.35" height="23.2" fill="#de9b89" fill-opacity="0.8"/>
<rect x="544.81" y="115.6" width="7.35" height="4.2" fill="#f47575" fill-opacity="0.8"/>
<rect x="544.81" y="119.8" width="7.35" height="20.47" fill="#ea3f40" fill-opacity="0.8"/>
<rect x="544.81" y="140.27" width="7.35" height="0.63" fill="#e73228" fill-opacity="0.8"/>
<rect x="544.81" y="140.9" width="7.35" height="2.4" fill="#f2784b" fill-opacity="0.8"/>
<rect x="544.81" y="143.3" width="7.35" height="21.1" fill="#fdbf6f" fill-opacity="0.8"/>
<rect x="544.81" y="164.4" width="7.35" height="22.12" fill="#fea43f" fill-opacity="0.8"/>
<rect x="544.81" y="186.52" width="7.35" height="0.68" fill="#ff8810" fill-opacity="0.8"/>
<rect x="544.81" y="187.2" width="7.35" height="12" fill="#f08e3d" fill-opacity="0.8"/>
<rect x="544.81" y="199.2" width="7.35" height="8.74" fill="#d9a399" fill-opacity="0.8"/>
<rect x="544.81" y="207.94" width="7.35" height="0.66" fill="#bca1cd" fill-opacity="0.8"/>
<rect x="544.81" y="208.6" width="7.35" height="28.2" fill="#936fb4" fill-opacity="0.8"/>
<rect x="544.81" y="236.8" width="7.35" height="4.7" fill="#6a3d9a" fill-opacity="0.8"/>
<rect x="553.03" y="35" width="7.35" height="0.3" fill="#a6cee3" fill-opacity="0.8"/>
<rect x="553.03" y="35.3" width="7.35" height="0.48" fill="#6ca9cf" fill-opacity="0.8"/>
<rect x="553.03" y="35.78" width="7.35" height="5.22" fill="#3284bb" fill-opacity="0.8"/>
<rect x="553.03" y="41" width="7.35" height="6.8" fill="#4995a8" fill-opacity="0.8"/>
<rect x="553.03" y="47.8" width="7.35" height="22.2" fill="#88c296" fill-opacity="0.8"/>
<rect x="553.03" y="70" width="7.35" height="2.8" fill="#a0d67d" fill-opacity="0.8"/>
<rect x="553.03" y="72.8" width="7.35" height="7" fill="#69bb54" fill-opacity="0.8"/>
<rect x="553.03" y="79.8" width="7.35" height="12.1" fill="#33a02c" fill-opacity="0.8"/>
<rect x="553.03" y="91.9" width="7.35" height="0.5" fill="#899d5b" fill-opacity="0.8"/>
<rect x="553.03" y="92.4" width="7.35" height="23.2" fill="#de9b89" fill-opacity="0.8"/>
<rect x="553.03" y="115.6" width="7.35" height="4.2" fill="#f47575" fill-opacity="0.8"/>
<rect x="553.03" y="119.8" width="7.35" height="20.47" fill="#ea3f40" fill-opacity="0.8"/>
<rect x="553.03" y="140.27" width="7.35" height="0.63" fill="#e73228" fill-opacity="0.8"/>
<rect x="553.03" y="140.9" width="7.35" height="2.4" fill="#f2784b" fill-opacity="0.8"/>
<rect x="553.03" y="143.3" width="7.35" height="21.1" fill="#fdbf6f" fill-opacity="0.8"/>
<rect x="553.03" y="164.4" width="7.35" height="22.12" fill="#fea43f" fill-opacity="0.8"/>
<rect x="553.03" y="186.52" width="7.35" height="0.68" fill="#ff8810" fill-opacity="0.8"/>
<rect x="553.03" y="187.2" width="7.35" height="12" fill="#f08e3d" fill-opacity="0.8"/>
<rect x="553.03" y="199.2" width="7.35" height="8.74" fill="#d9a399" fill-opacity="0.8"/>
<rect x="553.03" y="207.94" width="7.35" height="0.66" fill="#bca1cd" fill-opacity="0.8"/>
<rect x="553.03" y="208.6" width="7.35" height="28.2" fill="#936fb4" fill-opacity="0.8"/>
<rect x="553.03" y="236.8" width="7.35" height="4.7" fill="#6a3d9a" fill-opacity="0.8"/>
<rect x="561.26" y="35.3" width="7.35" height="0.29" fill="#a6cee3" fill-opacity="0.8"/>
<rect x="561.26" y="35.58" width="7.35" height="0.46" fill="#6ca9cf" fill-opacity="0.8"/>
<rect x="561.26" y="36.04" width="7.35" height="4.96" fill="#3284bb" fill-opacity="0.8"/>
<rect x="561.26" y="41" width="7.35" height="7" fill="#4995a8" fill-opacity="0.8"/>
<rect x="561.26" y="48" width="7.35" height="22.2" fill="#88c296" fill-opacity="0.8"/>
<rect x="561.26" y="70.2" width="7.35" height="2.9" fill="#a0d67d" fill-opacity="0.8"/>
<rect x="561.26" y="73.1" width="7.35" height="6.7" fill="#69bb54" fill-opacity="0.8"/>
<rect x="561.26" y="79.8" width="7.35" height="12.19" fill="#33a02c" fill-opacity="0.8"/>
<rect x="561.26" y="91.99" width="7.35" height="0.51" fill="#899d5b" fill-opacity="0.8"/>
<rect x="561.26" y="92.5" width="7.35" height="23.2" fill="#de9b89" fill-opacity="0.8"/>
<rect x="561.26" y="115.7" width="7.35" height="4.2" fill="#f47575" fill-opacity="0.8"/>
<rect x="561.26" y="119.9" width="7.35" height="20.37" fill="#ea3f40" fill-opacity="0.8"/>
<rect x="561.26" y="140.27" width="7.35" height="0.63" fill="#e73228" fill-opacity="0.8"/>
<rect x="561.26" y="140.9" width="7.35" height="2.5" fill="#f2784b" fill-opacity="0.8"/>
<rect x="561.26" y="143.4" width="7.35" height="21.1" fill="#fdbf6f" fill-opacity="0.8"/>
<rect x="561.26" y="164.5" width="7.35" height="22.02" fill="#fea43f" fill-opacity="0.8"/>
<rect x="561.26" y="186.52" width="7.35" height="0.68" fill="#ff8810" fill-opacity="0.8"/>
<rect x="561.26" y="187.2" width="7.35" height="12.1" fill="#f08e3d" fill-opacity="0.8"/>
<rect x="561.26" y="199.3" width="7.35" height="8.65" fill="#d9a399" fill-opacity="0.8"/>
<rect x="561.26" y="207.95" width="7.35" height="0.65" fill="#bca1cd" fill-opacity="0.8"/>
<rect x="561.26" y="208.6" width="7.35" height="28.2" fill="#936fb4" fill-opacity="0.8"/>
<rect x="561.26" y="236.8" width="7.35" height="4.7" fill="#6a3d9a" fill-opacity="0.8"/>
<rect x="569.48" y="35.8" width="7.35" height="0.28" fill="#a6cee3" fill-opacity="0.8"/>
<rect x="569.48" y="36.08" width="7.35" height="0.45" fill="#6ca9cf" fill-opacity="0.8"/>
<rect x="569.48" y="36.53" width="7.35" height="4.87" fill="#3284bb" fill-opacity="0.8"/>
<rect x="569.48" y="41.4" width="7.35" height="6.9" fill="#4995a8" fill-opacity="0.8"/>
<rect x="569.48" y="48.3" width="7.35" height="22.2" fill="#88c296" fill-opacity="0.8"/>
<rect x="569.48" y="70.5" width="7.35" height="2.9" fill="#a0d67d" fill-opacity="0.8"/>
<rect x="569.48" y="73.4" width="7.35" height="6.5" fill="#69bb54" fill-opacity="0.8"/>
<rect x="569.48" y="79.9" width="7.35" height="12.29" fill="#33a02c" fill-opacity="0.8"/>
<rect x="569.48" y="92.19" width="7.35" height="0.51" fill="#899d5b" fill-opacity="0.8"/>
<rect x="569.48" y="92.7" width="7.35" height="23.2" fill="#de9b89" fill-opacity="0.8"/>
<rect x="569.48" y="115.9" width="7.35" height="4.2" fill="#f47575" fill-opacity="0.8"/>
<rect x="569.48" y="120.1" width="7.35" height="20.27" fill="#ea3f40" fill-opacity="0.8"/>
<rect x="569.48" y="140.37" width="7.35" height="0.63" fill="#e73228" fill-opacity="0.8"/>
<rect x="569.48" y="141" width="7.35" height="2.5" fill="#f2784b" fill-opacity="0.8"/>
<rect x="569.48" y="143.5" width="7.35" height="21.1" fill="#fdbf6f" fill-opacity="0.8"/>
<rect x="569.48" y="164.6" width="7.35" height="22.02" fill="#fea43f" fill-opacity="0.8"/>
<rect x="569.48" y="186.62" width="7.35" height="0.68" fill="#ff8810" fill-opacity="0.8"/>
<rect x="569.48" y="187.3" width="7.35" height="12.1" fill="#f08e3d" fill-opacity="0.8"/>
<rect x="569.48" y="199.4" width="7.35" height="8.65" fill="#d9a399" fill-opacity="0.8"/>
<rect x="569.48" y="208.05" width="7.35" height="0.65" fill="#bca1cd" fill-opacity="0.8"/>
<rect x="569.48" y="208.7" width="7.35" height="28.1" fill="#936fb4" fill-opacity="0.8"/>
<rect x="569.48" y="236.8" width="7.35" height="4.7" fill="#6a3d9a" fill-opacity="0.8"/>
<rect x="577.7" y="36.4" width="7.35" height="0.28" fill="#a6cee3" fill-opacity="0.8"/>
<rect x="577.7" y="36.67" width="7.35" height="0.44" fill="#6ca9cf" fill-opacity="0.8"/>
<rect x="577.7" y="37.11" width="7.35" height="4.79" fill="#3284bb" fill-opacity="0.8"/>
<rect x="577.7" y="41.9" width="7.35" height="7" fill="#4995a8" fill-opacity="0.8"/>
<rect x="577.7" y="48.9" width="7.35" height="22.2" fill="#88c296" fill-opacity="0.8"/>
<rect x="577.7" y="71.1" width="7.35" height="2.8" fill="#a0d67d" fill-opacity="0.8"/>
<rect x="577.7" y="73.9" width="7.35" height="6.3" fill="#69bb54" fill-opacity="0.8"/>
<rect x="577.7" y="80.2" width="7.35" height="12.19" fill="#33a02c" fill-opacity="0.8"/>
<rect x="577.7" y="92.39" width="7.35" height="0.51" fill="#899d5b" fill-opacity="0.8"/>
<rect x="577.7" y="92.9" width="7.35" height="23.2" fill="#de9b89" fill-opacity="0.8"/>
<rect x="577.7" y="116.1" width="7.35" height="4.2" fill="#f47575" fill-opacity="0.8"/>
<rect x="577.7" y="120.3" width="7.35" height="20.18" fill="#ea3f40" fill-opacity="0.8"/>
<rect x="577.7" y="140.48" width="7.35" height="0.62" fill="#e73228" fill-opacity="0.8"/>
<rect x="577.7" y="141.1" width="7.35" height="2.6" fill="#f2784b" fill-opacity="0.8"/>
<rect x="577.7" y="143.7" width="7.35" height="21" fill="#fdbf6f" fill-opacity="0.8"/>
<rect x="577.7" y="164.7" width="7.35" height="22.02" fill="#fea43f" fill-opacity="0.8"/>
<rect x="577.7" y="186.72" width="7.35" height="0.68" fill="#ff8810" fill-opacity="0.8"/>
<rect x="577.7" y="187.4" width="7.35" height="12.1" fill="#f08e3d" fill-opacity="0.8"/>
<rect x="577.7" y="199.5" width="7.35" height="8.65" fill="#d9a399" fill-opacity="0.8"/>
<rect x="577.7" y="208.15" width="7.35" height="0.65" fill="#bca1cd" fill-opacity="0.8"/>
<rect x="577.7" y="208.8" width="7.35" height="28" fill="#936fb4" fill-opacity="0.8"/>
<rect x="577.7" y="236.8" width="7.35" height="4.7" fill="#6a3d9a" fill-opacity="0.8"/>
<rect x="585.93" y="37.6" width="7.35" height="0.27" fill="#a6cee3" fill-opacity="0.8"/>
<rect x="585.93" y="37.87" width="7.35" height="0.43" fill="#6ca9cf" fill-opacity="0.8"/>
<rect x="585.93" y="38.3" width="7.35" height="4.7" fill="#3284bb" fill-opacity="0.8"/>
<rect x="585.93" y="43" width="7.35" height="6.8" fill="#4995a8" fill-opacity="0.8"/>
<rect x="585.93" y="49.8" width="7.35" height="22.2" fill="#88c296" fill-opacity="0.8"/>
<rect x="585.93" y="72" width="7.35" height="3" fill="#a0d67d" fill-opacity="0.8"/>
<rect x="585.93" y="75" width="7.35" height="5.9" fill="#69bb54" fill-opacity="0.8"/>
<rect x="585.93" y="80.9" width="7.35" height="12.19" fill="#33a02c" fill-opacity="0.8"/>
<rect x="585.93" y="93.09" width="7.35" height="0.51" fill="#899d5b" fill-opacity="0.8"/>
<rect x="585.93" y="93.6" width="7.35" height="23.3" fill="#de9b89" fill-opacity="0.8"/>
<rect x="585.93" y="116.9" width="7.35" height="4" fill="#f47575" fill-opacity="0.8"/>
<rect x="585.93" y="120.9" width="7.35" height="20.18" fill="#ea3f40" fill-opacity="0.8"/>
<rect x="585.93" y="141.08" width="7.35" height="0.62" fill="#e73228" fill-opacity="0.8"/>
<rect x="585.93" y="141.7" width="7.35" height="2.5" fill="#f2784b" fill-opacity="0.8"/>
<rect x="585.93" y="144.2" width="7.35" height="20.8" fill="#fdbf6f" fill-opacity="0.8"/>
<rect x="585.93" y="165" width="7.35" height="21.92" fill="#fea43f" fill-opacity="0.8"/>
<rect x="585.93" y="186.92" width="7.35" height="0.68" fill="#ff8810" fill-opacity="0.8"/>
<rect x="585.93" y="187.6" width="7.35" height="12.1" fill="#f08e3d" fill-opacity="0.8"/>
<rect x="585.93" y="199.7" width="7.35" height="8.56" fill="#d9a399" fill-opacity="0.8"/>
<rect x="585.93" y="208.26" width="7.35" height="0.64" fill="#bca1cd" fill-opacity="0.8"/>
<rect x="585.93" y="208.9" width="7.35" height="27.9" fill="#936fb4" fill-opacity="0.8"/>
<rect x="585.93" y="236.8" width="7.35" height="4.7" fill="#6a3d9a" fill-opacity="0.8"/>
<rect x="594.15" y="42" width="7.35" height="0.29" fill="#a6cee3" fill-opacity="0.8"/>
<rect x="594.15" y="42.28" width="7.35" height="0.46" fill="#6ca9cf" fill-opacity="0.8"/>
<rect x="594.15" y="42.74" width="7.35" height="4.96" fill="#3284bb" fill-opacity="0.8"/>
<rect x="594.15" y="47.7" width="7.35" height="5.9" fill="#4995a8" fill-opacity="0.8"/>
<rect x="594.15" y="53.6" width="7.35" height="21.4" fill="#88c296" fill-opacity="0.8"/>
<rect x="594.15" y="75" width="7.35" height="2.8" fill="#a0d67d" fill-opacity="0.8"/>
<rect x="594.15" y="77.8" width="7.35" height="5.5" fill="#69bb54" fill-opacity="0.8"/>
<rect x="594.15" y="83.3" width="7.35" height="12" fill="#33a02c" fill-opacity="0.8"/>
<rect x="594.15" y="95.3" width="7.35" height="0.5" fill="#899d5b" fill-opacity="0.8"/>
<rect x="594.15" y="95.8" width="7.35" height="22.5" fill="#de9b89" fill-opacity="0.8"/>
<rect x="594.15" y="118.3" width="7.35" height="4.5" fill="#f47575" fill-opacity="0.8"/>
<rect x="594.15" y="122.8" width="7.35" height="19.4" fill="#ea3f40" fill-opacity="0.8"/>
<rect x="594.15" y="142.2" width="7.35" height="0.6" fill="#e73228" fill-opacity="0.8"/>
<rect x="594.15" y="142.8" width="7.35" height="2.8" fill="#f2784b" fill-opacity="0.8"/>
<rect x="594.15" y="145.6" width="7.35" height="20.5" fill="#fdbf6f" fill-opacity="0.8"/>
<rect x="594.15" y="166.1" width="7.35" height="21.53" fill="#fea43f" fill-opacity="0.8"/>
<rect x="594.15" y="187.63" width="7.35" height="0.67" fill="#ff8810" fill-opacity="0.8"/>
<rect x="594.15" y="188.3" width="7.35" height="12.3" fill="#f08e3d" fill-opacity="0.8"/>
<rect x="594.15" y="200.6" width="7.35" height="8.46" fill="#d9a399" fill-opacity="0.8"/>
<rect x="594.15" y="209.06" width="7.35" height="0.64" fill="#bca1cd" fill-opacity="0.8"/>
<rect x="594.15" y="209.7" width="7.35" height="27.2" fill="#936fb4" fill-opacity="0.8"/>
<rect x="594.15" y="236.9" width="7.35" height="4.6" fill="#6a3d9a" fill-opacity="0.8"/>
<rect x="602.38" y="62.8" width="7.35" height="0.27" fill="#a6cee3" fill-opacity="0.8"/>
<rect x="602.38" y="63.07" width="7.35" height="0.43" fill="#6ca9cf" fill-opacity="0.8"/>
<rect x="602.38" y="63.5" width="7.35" height="4.7" fill="#3284bb" fill-opacity="0.8"/>
<rect x="602.38" y="68.2" width="7.35" height="4" fill="#4995a8" fill-opacity="0.8"/>
<rect x="602.38" y="72.2" width="7.35" height="18.9" fill="#88c296" fill-opacity="0.8"/>
<rect x="602.38" y="91.1" width="7.35" height="2.2" fill="#a0d67d" fill-opacity="0.8"/>
<rect x="602.38" y="93.3" width="7.35" height="4.5" fill="#69bb54" fill-opacity="0.8"/>
<rect x="602.38" y="97.8" width="7.35" height="11.14" fill="#33a02c" fill-opacity="0.8"/>
<rect x="602.38" y="108.94" width="7.35" height="0.46" fill="#899d5b" fill-opacity="0.8"/>
<rect x="602.38" y="109.4" width="7.35" height="20.6" fill="#de9b89" fill-opacity="0.8"/>
<rect x="602.38" y="130" width="7.35" height="3.9" fill="#f47575" fill-opacity="0.8"/>
<rect x="602.38" y="133.9" width="7.35" height="18.82" fill="#ea3f40" fill-opacity="0.8"/>
<rect x="602.38" y="152.72" width="7.35" height="0.58" fill="#e73228" fill-opacity="0.8"/>
<rect x="602.38" y="153.3" width="7.35" height="1.7" fill="#f2784b" fill-opacity="0.8"/>
<rect x="602.38" y="155" width="7.35" height="18.9" fill="#fdbf6f" fill-opacity="0.8"/>
<rect x="602.38" y="173.9" width="7.35" height="20.47" fill="#fea43f" fill-opacity="0.8"/>
<rect x="602.38" y="194.37" width="7.35" height="0.63" fill="#ff8810" fill-opacity="0.8"/>
<rect x="602.38" y="195" width="7.35" height="11.3" fill="#f08e3d" fill-opacity="0.8"/>
<rect x="602.38" y="206.3" width="7.35" height="7.91" fill="#d9a399" fill-opacity="0.8"/>
<rect x="602.38" y="214.21" width="7.35" height="0.6" fill="#bca1cd" fill-opacity="0.8"/>
<rect x="602.38" y="214.8" width="7.35" height="22.6" fill="#936fb4" fill-opacity="0.8"/>
<rect x="602.38" y="237.4" width="7.35" height="4.1" fill="#6a3d9a" fill-opacity="0.8"/>
<rect x="394.6" y="19.3" width="224.6" height="233" fill="none" stroke="#3a3a3a" stroke-width="0.95"/>
<line x1="392" y1="241.4" x2="394.6" y2="241.4" stroke="#3a3a3a" stroke-width="0.8"/>
<text x="389.3" y="244.55" font-size="9" fill="#5a5a5a" text-anchor="end">0.00</text>
<line x1="392" y1="187.9" x2="394.6" y2="187.9" stroke="#3a3a3a" stroke-width="0.8"/>
<text x="389.3" y="191.05" font-size="9" fill="#5a5a5a" text-anchor="end">0.25</text>
<line x1="392" y1="134.4" x2="394.6" y2="134.4" stroke="#3a3a3a" stroke-width="0.8"/>
<text x="389.3" y="137.55" font-size="9" fill="#5a5a5a" text-anchor="end">0.50</text>
<line x1="392" y1="80.9" x2="394.6" y2="80.9" stroke="#3a3a3a" stroke-width="0.8"/>
<text x="389.3" y="84.05" font-size="9" fill="#5a5a5a" text-anchor="end">0.75</text>
<line x1="392" y1="27.4" x2="394.6" y2="27.4" stroke="#3a3a3a" stroke-width="0.8"/>
<text x="389.3" y="30.55" font-size="9" fill="#5a5a5a" text-anchor="end">1.00</text>
<line x1="400.45" y1="252.3" x2="400.45" y2="254.9" stroke="#3a3a3a" stroke-width="0.8"/>
<text x="400.45" y="262.95" font-size="9" fill="#5a5a5a" text-anchor="middle">0</text>
<line x1="451.85" y1="252.3" x2="451.85" y2="254.9" stroke="#3a3a3a" stroke-width="0.8"/>
<text x="451.85" y="262.95" font-size="9" fill="#5a5a5a" text-anchor="middle">25</text>
<line x1="503.25" y1="252.3" x2="503.25" y2="254.9" stroke="#3a3a3a" stroke-width="0.8"/>
<text x="503.25" y="262.95" font-size="9" fill="#5a5a5a" text-anchor="middle">50</text>
<line x1="554.65" y1="252.3" x2="554.65" y2="254.9" stroke="#3a3a3a" stroke-width="0.8"/>
<text x="554.65" y="262.95" font-size="9" fill="#5a5a5a" text-anchor="middle">75</text>
<line x1="606.05" y1="252.3" x2="606.05" y2="254.9" stroke="#3a3a3a" stroke-width="0.8"/>
<text x="606.05" y="262.95" font-size="9" fill="#5a5a5a" text-anchor="middle">100</text>
<text x="519.9" y="284.3" font-size="15.3" fill="#6a6a6a" text-anchor="middle">Gene (%)</text>
<text transform="translate(356.9 133.6) rotate(-90)" font-size="15.2" fill="#6a6a6a" text-anchor="middle">Normalised coverage</text>
<text x="635" y="34.2" font-size="10.6" fill="#000" text-anchor="start" stroke="#000" stroke-width="0.12">Isotype</text>
<rect x="635.6" y="41.9" width="15.4" height="14.8" fill="#a6cee3" fill-opacity="0.8"/>
<text x="657.8" y="52.36" font-size="8.5" fill="#000" text-anchor="start" stroke="#000" stroke-width="0.1">His</text>
<rect x="635.6" y="58.85" width="15.4" height="14.8" fill="#6ca9cf" fill-opacity="0.8"/>
<text x="657.8" y="69.31" font-size="8.5" fill="#000" text-anchor="start" stroke="#000" stroke-width="0.1">Asn</text>
<rect x="635.6" y="75.8" width="15.4" height="14.8" fill="#3284bb" fill-opacity="0.8"/>
<text x="657.8" y="86.26" font-size="8.5" fill="#000" text-anchor="start" stroke="#000" stroke-width="0.1">Pro</text>
<rect x="635.6" y="92.75" width="15.4" height="14.8" fill="#4995a8" fill-opacity="0.8"/>
<text x="657.8" y="103.21" font-size="8.5" fill="#000" text-anchor="start" stroke="#000" stroke-width="0.1">Leu</text>
<rect x="635.6" y="109.7" width="15.4" height="14.8" fill="#88c296" fill-opacity="0.8"/>
<text x="657.8" y="120.16" font-size="8.5" fill="#000" text-anchor="start" stroke="#000" stroke-width="0.1">Gly</text>
<rect x="635.6" y="126.65" width="15.4" height="14.8" fill="#a0d67d" fill-opacity="0.8"/>
<text x="657.8" y="137.11" font-size="8.5" fill="#000" text-anchor="start" stroke="#000" stroke-width="0.1">Cys</text>
<rect x="635.6" y="143.6" width="15.4" height="14.8" fill="#69bb54" fill-opacity="0.8"/>
<text x="657.8" y="154.06" font-size="8.5" fill="#000" text-anchor="start" stroke="#000" stroke-width="0.1">Asp</text>
<rect x="635.6" y="160.55" width="15.4" height="14.8" fill="#33a02c" fill-opacity="0.8"/>
<text x="657.8" y="171.01" font-size="8.5" fill="#000" text-anchor="start" stroke="#000" stroke-width="0.1">Ala</text>
<rect x="635.6" y="177.5" width="15.4" height="14.8" fill="#899d5b" fill-opacity="0.8"/>
<text x="657.8" y="187.96" font-size="8.5" fill="#000" text-anchor="start" stroke="#000" stroke-width="0.1">Phe</text>
<rect x="635.6" y="194.45" width="15.4" height="14.8" fill="#de9b89" fill-opacity="0.8"/>
<text x="657.8" y="204.91" font-size="8.5" fill="#000" text-anchor="start" stroke="#000" stroke-width="0.1">Val</text>
<rect x="635.6" y="211.4" width="15.4" height="14.8" fill="#f47575" fill-opacity="0.8"/>
<text x="657.8" y="221.86" font-size="8.5" fill="#000" text-anchor="start" stroke="#000" stroke-width="0.1">Met</text>
<rect x="679.7" y="41.9" width="15.4" height="14.8" fill="#ea3f40" fill-opacity="0.8"/>
<text x="701.2" y="52.36" font-size="8.5" fill="#000" text-anchor="start" stroke="#000" stroke-width="0.1">Lys</text>
<rect x="679.7" y="58.85" width="15.4" height="14.8" fill="#e73228" fill-opacity="0.8"/>
<text x="701.2" y="69.31" font-size="8.5" fill="#000" text-anchor="start" stroke="#000" stroke-width="0.1">SeC</text>
<rect x="679.7" y="75.8" width="15.4" height="14.8" fill="#f2784b" fill-opacity="0.8"/>
<text x="701.2" y="86.26" font-size="8.5" fill="#000" text-anchor="start" stroke="#000" stroke-width="0.1">Thr</text>
<rect x="679.7" y="92.75" width="15.4" height="14.8" fill="#fdbf6f" fill-opacity="0.8"/>
<text x="701.2" y="103.21" font-size="8.5" fill="#000" text-anchor="start" stroke="#000" stroke-width="0.1">Ser</text>
<rect x="679.7" y="109.7" width="15.4" height="14.8" fill="#fea43f" fill-opacity="0.8"/>
<text x="701.2" y="120.16" font-size="8.5" fill="#000" text-anchor="start" stroke="#000" stroke-width="0.1">Arg</text>
<rect x="679.7" y="126.65" width="15.4" height="14.8" fill="#ff8810" fill-opacity="0.8"/>
<text x="701.2" y="137.11" font-size="8.5" fill="#000" text-anchor="start" stroke="#000" stroke-width="0.1">Ile</text>
<rect x="679.7" y="143.6" width="15.4" height="14.8" fill="#f08e3d" fill-opacity="0.8"/>
<text x="701.2" y="154.06" font-size="8.5" fill="#000" text-anchor="start" stroke="#000" stroke-width="0.1">Gln</text>
<rect x="679.7" y="160.55" width="15.4" height="14.8" fill="#d9a399" fill-opacity="0.8"/>
<text x="701.2" y="171.01" font-size="8.5" fill="#000" text-anchor="start" stroke="#000" stroke-width="0.1">iMet</text>
<rect x="679.7" y="177.5" width="15.4" height="14.8" fill="#bca1cd" fill-opacity="0.8"/>
<text x="701.2" y="187.96" font-size="8.5" fill="#000" text-anchor="start" stroke="#000" stroke-width="0.1">Tyr</text>
<rect x="679.7" y="194.45" width="15.4" height="14.8" fill="#936fb4" fill-opacity="0.8"/>
<text x="701.2" y="204.91" font-size="8.5" fill="#000" text-anchor="start" stroke="#000" stroke-width="0.1">Glu</text>
<rect x="679.7" y="211.4" width="15.4" height="14.8" fill="#6a3d9a" fill-opacity="0.8"/>
<text x="701.2" y="221.86" font-size="8.5" fill="#000" text-anchor="start" stroke="#000" stroke-width="0.1">Trp</text>
<rect x="45.9" y="351.6" width="242.4" height="133.1" fill="#ffffff"/>
<line x1="80.06" y1="351.6" x2="80.06" y2="484.7" stroke="#f1f1f1" stroke-width="0.4"/>
<line x1="135.39" y1="351.6" x2="135.39" y2="484.7" stroke="#f1f1f1" stroke-width="0.4"/>
<line x1="190.71" y1="351.6" x2="190.71" y2="484.7" stroke="#f1f1f1" stroke-width="0.4"/>
<line x1="246.04" y1="351.6" x2="246.04" y2="484.7" stroke="#f1f1f1" stroke-width="0.4"/>
<line x1="45.9" y1="463.26" x2="288.3" y2="463.26" stroke="#f1f1f1" stroke-width="0.4"/>
<line x1="45.9" y1="431.79" x2="288.3" y2="431.79" stroke="#f1f1f1" stroke-width="0.4"/>
<line x1="45.9" y1="400.31" x2="288.3" y2="400.31" stroke="#f1f1f1" stroke-width="0.4"/>
<line x1="45.9" y1="368.84" x2="288.3" y2="368.84" stroke="#f1f1f1" stroke-width="0.4"/>
<line x1="52.4" y1="351.6" x2="52.4" y2="484.7" stroke="#e9e9e9" stroke-width="0.7"/>
<line x1="107.72" y1="351.6" x2="107.72" y2="484.7" stroke="#e9e9e9" stroke-width="0.7"/>
<line x1="163.05" y1="351.6" x2="163.05" y2="484.7" stroke="#e9e9e9" stroke-width="0.7"/>
<line x1="218.38" y1="351.6" x2="218.38" y2="484.7" stroke="#e9e9e9" stroke-width="0.7"/>
<line x1="273.7" y1="351.6" x2="273.7" y2="484.7" stroke="#e9e9e9" stroke-width="0.7"/>
<line x1="45.9" y1="479" x2="288.3" y2="479" stroke="#e9e9e9" stroke-width="0.7"/>
<line x1="45.9" y1="447.52" x2="288.3" y2="447.52" stroke="#e9e9e9" stroke-width="0.7"/>
<line x1="45.9" y1="416.05" x2="288.3" y2="416.05" stroke="#e9e9e9" stroke-width="0.7"/>
<line x1="45.9" y1="384.58" x2="288.3" y2="384.58" stroke="#e9e9e9" stroke-width="0.7"/>
<line x1="45.9" y1="353.1" x2="288.3" y2="353.1" stroke="#e9e9e9" stroke-width="0.7"/>
<rect x="57.28" y="472.8" width="7.95" height="0.3" fill="#a6cee3" fill-opacity="0.8"/>
<rect x="57.28" y="473.1" width="7.95" height="0.3" fill="#4f97c5" fill-opacity="0.8"/>
<rect x="57.28" y="473.4" width="7.95" height="0.1" fill="#4995a8" fill-opacity="0.8"/>
<rect x="57.28" y="473.5" width="7.95" height="1.9" fill="#a8d88d" fill-opacity="0.8"/>
<rect x="57.28" y="475.4" width="7.95" height="0.8" fill="#69bb54" fill-opacity="0.8"/>
<rect x="57.28" y="476.2" width="7.95" height="0.58" fill="#5e9f43" fill-opacity="0.8"/>
<rect x="57.28" y="476.78" width="7.95" height="0.02" fill="#de9b89" fill-opacity="0.8"/>
<rect x="57.28" y="476.8" width="7.95" height="0.97" fill="#ef5a5a" fill-opacity="0.8"/>
<rect x="57.28" y="477.77" width="7.95" height="0.03" fill="#e73228" fill-opacity="0.8"/>
<rect x="57.28" y="477.8" width="7.95" height="0.16" fill="#f79c5d" fill-opacity="0.8"/>
<rect x="57.28" y="477.96" width="7.95" height="0.19" fill="#fea43f" fill-opacity="0.8"/>
<rect x="57.28" y="478.15" width="7.95" height="0.18" fill="#fb830f" fill-opacity="0.8"/>
<rect x="57.28" y="478.33" width="7.95" height="0.14" fill="#d9a399" fill-opacity="0.8"/>
<rect x="57.28" y="478.46" width="7.95" height="0.14" fill="#a888c1" fill-opacity="0.8"/>
<rect x="66.13" y="471.2" width="7.95" height="0.3" fill="#a6cee3" fill-opacity="0.8"/>
<rect x="66.13" y="471.5" width="7.95" height="0.5" fill="#4f97c5" fill-opacity="0.8"/>
<rect x="66.13" y="472" width="7.95" height="0.1" fill="#4995a8" fill-opacity="0.8"/>
<rect x="66.13" y="472.1" width="7.95" height="2" fill="#a8d88d" fill-opacity="0.8"/>
<rect x="66.13" y="474.1" width="7.95" height="1.2" fill="#69bb54" fill-opacity="0.8"/>
<rect x="66.13" y="475.3" width="7.95" height="0.68" fill="#5e9f43" fill-opacity="0.8"/>
<rect x="66.13" y="475.98" width="7.95" height="0.02" fill="#de9b89" fill-opacity="0.8"/>
<rect x="66.13" y="476" width="7.95" height="1.46" fill="#ef5a5a" fill-opacity="0.8"/>
<rect x="66.13" y="477.45" width="7.95" height="0.04" fill="#e73228" fill-opacity="0.8"/>
<rect x="66.13" y="477.5" width="7.95" height="0.22" fill="#f79c5d" fill-opacity="0.8"/>
<rect x="66.13" y="477.72" width="7.95" height="0.26" fill="#fea43f" fill-opacity="0.8"/>
<rect x="66.13" y="477.98" width="7.95" height="0.24" fill="#fb830f" fill-opacity="0.8"/>
<rect x="66.13" y="478.23" width="7.95" height="0.19" fill="#d9a399" fill-opacity="0.8"/>
<rect x="66.13" y="478.41" width="7.95" height="0.19" fill="#a888c1" fill-opacity="0.8"/>
<rect x="74.98" y="468" width="7.95" height="0.4" fill="#a6cee3" fill-opacity="0.8"/>
<rect x="74.98" y="468.4" width="7.95" height="1.3" fill="#4f97c5" fill-opacity="0.8"/>
<rect x="74.98" y="469.7" width="7.95" height="0.2" fill="#4995a8" fill-opacity="0.8"/>
<rect x="74.98" y="469.9" width="7.95" height="2.9" fill="#a8d88d" fill-opacity="0.8"/>
<rect x="74.98" y="472.8" width="7.95" height="1.8" fill="#69bb54" fill-opacity="0.8"/>
<rect x="74.98" y="474.6" width="7.95" height="0.78" fill="#5e9f43" fill-opacity="0.8"/>
<rect x="74.98" y="475.38" width="7.95" height="0.02" fill="#de9b89" fill-opacity="0.8"/>
<rect x="74.98" y="475.4" width="7.95" height="1.75" fill="#ef5a5a" fill-opacity="0.8"/>
<rect x="74.98" y="477.15" width="7.95" height="0.05" fill="#e73228" fill-opacity="0.8"/>
<rect x="74.98" y="477.2" width="7.95" height="0.28" fill="#f79c5d" fill-opacity="0.8"/>
<rect x="74.98" y="477.48" width="7.95" height="0.34" fill="#fea43f" fill-opacity="0.8"/>
<rect x="74.98" y="477.82" width="7.95" height="0.31" fill="#fb830f" fill-opacity="0.8"/>
<rect x="74.98" y="478.12" width="7.95" height="0.24" fill="#d9a399" fill-opacity="0.8"/>
<rect x="74.98" y="478.36" width="7.95" height="0.24" fill="#a888c1" fill-opacity="0.8"/>
<rect x="83.83" y="454.4" width="7.95" height="1.5" fill="#a6cee3" fill-opacity="0.8"/>
<rect x="83.83" y="455.9" width="7.95" height="6.5" fill="#4f97c5" fill-opacity="0.8"/>
<rect x="83.83" y="462.4" width="7.95" height="0.7" fill="#4995a8" fill-opacity="0.8"/>
<rect x="83.83" y="463.1" width="7.95" height="4.2" fill="#a8d88d" fill-opacity="0.8"/>
<rect x="83.83" y="467.3" width="7.95" height="5.5" fill="#69bb54" fill-opacity="0.8"/>
<rect x="83.83" y="472.8" width="7.95" height="2.13" fill="#5e9f43" fill-opacity="0.8"/>
<rect x="83.83" y="474.93" width="7.95" height="0.07" fill="#de9b89" fill-opacity="0.8"/>
<rect x="83.83" y="475" width="7.95" height="1.84" fill="#ef5a5a" fill-opacity="0.8"/>
<rect x="83.83" y="476.84" width="7.95" height="0.06" fill="#e73228" fill-opacity="0.8"/>
<rect x="83.83" y="476.9" width="7.95" height="0.34" fill="#f79c5d" fill-opacity="0.8"/>
<rect x="83.83" y="477.24" width="7.95" height="0.41" fill="#fea43f" fill-opacity="0.8"/>
<rect x="83.83" y="477.65" width="7.95" height="0.37" fill="#fb830f" fill-opacity="0.8"/>
<rect x="83.83" y="478.02" width="7.95" height="0.29" fill="#d9a399" fill-opacity="0.8"/>
<rect x="83.83" y="478.31" width="7.95" height="0.29" fill="#a888c1" fill-opacity="0.8"/>
<rect x="92.69" y="416.1" width="7.95" height="5" fill="#a6cee3" fill-opacity="0.8"/>
<rect x="92.69" y="421.1" width="7.95" height="17.2" fill="#4f97c5" fill-opacity="0.8"/>
<rect x="92.69" y="438.3" width="7.95" height="3.9" fill="#4995a8" fill-opacity="0.8"/>
<rect x="92.69" y="442.2" width="7.95" height="15.8" fill="#a8d88d" fill-opacity="0.8"/>
<rect x="92.69" y="458" width="7.95" height="8.7" fill="#69bb54" fill-opacity="0.8"/>
<rect x="92.69" y="466.7" width="7.95" height="3.78" fill="#5e9f43" fill-opacity="0.8"/>
<rect x="92.69" y="470.48" width="7.95" height="0.12" fill="#de9b89" fill-opacity="0.8"/>
<rect x="92.69" y="470.6" width="7.95" height="5.33" fill="#ef5a5a" fill-opacity="0.8"/>
<rect x="92.69" y="475.94" width="7.95" height="0.16" fill="#e73228" fill-opacity="0.8"/>
<rect x="92.69" y="476.1" width="7.95" height="0.5" fill="#f79c5d" fill-opacity="0.8"/>
<rect x="92.69" y="476.6" width="7.95" height="0.6" fill="#fea43f" fill-opacity="0.8"/>
<rect x="92.69" y="477.2" width="7.95" height="0.55" fill="#fb830f" fill-opacity="0.8"/>
<rect x="92.69" y="477.75" width="7.95" height="0.43" fill="#d9a399" fill-opacity="0.8"/>
<rect x="92.69" y="478.18" width="7.95" height="0.43" fill="#a888c1" fill-opacity="0.8"/>
<rect x="101.54" y="403.3" width="7.95" height="7.6" fill="#a6cee3" fill-opacity="0.8"/>
<rect x="101.54" y="410.9" width="7.95" height="18.9" fill="#4f97c5" fill-opacity="0.8"/>
<rect x="101.54" y="429.8" width="7.95" height="4.1" fill="#4995a8" fill-opacity="0.8"/>
<rect x="101.54" y="433.9" width="7.95" height="20" fill="#a8d88d" fill-opacity="0.8"/>
<rect x="101.54" y="453.9" width="7.95" height="9.2" fill="#69bb54" fill-opacity="0.8"/>
<rect x="101.54" y="463.1" width="7.95" height="4.37" fill="#5e9f43" fill-opacity="0.8"/>
<rect x="101.54" y="467.47" width="7.95" height="0.14" fill="#de9b89" fill-opacity="0.8"/>
<rect x="101.54" y="467.6" width="7.95" height="7.76" fill="#ef5a5a" fill-opacity="0.8"/>
<rect x="101.54" y="475.36" width="7.95" height="0.24" fill="#e73228" fill-opacity="0.8"/>
<rect x="101.54" y="475.6" width="7.95" height="0.6" fill="#f79c5d" fill-opacity="0.8"/>
<rect x="101.54" y="476.2" width="7.95" height="0.72" fill="#fea43f" fill-opacity="0.8"/>
<rect x="101.54" y="476.92" width="7.95" height="0.66" fill="#fb830f" fill-opacity="0.8"/>
<rect x="101.54" y="477.58" width="7.95" height="0.51" fill="#d9a399" fill-opacity="0.8"/>
<rect x="101.54" y="478.09" width="7.95" height="0.51" fill="#a888c1" fill-opacity="0.8"/>
<rect x="110.39" y="398" width="7.95" height="8.1" fill="#a6cee3" fill-opacity="0.8"/>
<rect x="110.39" y="406.1" width="7.95" height="18.9" fill="#4f97c5" fill-opacity="0.8"/>
<rect x="110.39" y="425" width="7.95" height="4.4" fill="#4995a8" fill-opacity="0.8"/>
<rect x="110.39" y="429.4" width="7.95" height="20.8" fill="#a8d88d" fill-opacity="0.8"/>
<rect x="110.39" y="450.2" width="7.95" height="9.8" fill="#69bb54" fill-opacity="0.8"/>
<rect x="110.39" y="460" width="7.95" height="5.92" fill="#5e9f43" fill-opacity="0.8"/>
<rect x="110.39" y="465.92" width="7.95" height="0.18" fill="#de9b89" fill-opacity="0.8"/>
<rect x="110.39" y="466.1" width="7.95" height="8.63" fill="#ef5a5a" fill-opacity="0.8"/>
<rect x="110.39" y="474.73" width="7.95" height="0.27" fill="#e73228" fill-opacity="0.8"/>
<rect x="110.39" y="475" width="7.95" height="0.72" fill="#f79c5d" fill-opacity="0.8"/>
<rect x="110.39" y="475.72" width="7.95" height="0.86" fill="#fea43f" fill-opacity="0.8"/>
<rect x="110.39" y="476.58" width="7.95" height="0.79" fill="#fb830f" fill-opacity="0.8"/>
<rect x="110.39" y="477.38" width="7.95" height="0.61" fill="#d9a399" fill-opacity="0.8"/>
<rect x="110.39" y="477.99" width="7.95" height="0.61" fill="#a888c1" fill-opacity="0.8"/>
<rect x="119.24" y="392.6" width="7.95" height="9.3" fill="#a6cee3" fill-opacity="0.8"/>
<rect x="119.24" y="401.9" width="7.95" height="19" fill="#4f97c5" fill-opacity="0.8"/>
<rect x="119.24" y="420.9" width="7.95" height="4.1" fill="#4995a8" fill-opacity="0.8"/>
<rect x="119.24" y="425" width="7.95" height="22" fill="#a8d88d" fill-opacity="0.8"/>
<rect x="119.24" y="447" width="7.95" height="10.2" fill="#69bb54" fill-opacity="0.8"/>
<rect x="119.24" y="457.2" width="7.95" height="7.57" fill="#5e9f43" fill-opacity="0.8"/>
<rect x="119.24" y="464.77" width="7.95" height="0.23" fill="#de9b89" fill-opacity="0.8"/>
<rect x="119.24" y="465" width="7.95" height="9.12" fill="#ef5a5a" fill-opacity="0.8"/>
<rect x="119.24" y="474.12" width="7.95" height="0.28" fill="#e73228" fill-opacity="0.8"/>
<rect x="119.24" y="474.4" width="7.95" height="0.84" fill="#f79c5d" fill-opacity="0.8"/>
<rect x="119.24" y="475.24" width="7.95" height="1.01" fill="#fea43f" fill-opacity="0.8"/>
<rect x="119.24" y="476.25" width="7.95" height="0.92" fill="#fb830f" fill-opacity="0.8"/>
<rect x="119.24" y="477.17" width="7.95" height="0.71" fill="#d9a399" fill-opacity="0.8"/>
<rect x="119.24" y="477.89" width="7.95" height="0.71" fill="#a888c1" fill-opacity="0.8"/>
<rect x="128.09" y="391.3" width="7.95" height="9.6" fill="#a6cee3" fill-opacity="0.8"/>
<rect x="128.09" y="400.9" width="7.95" height="18.8" fill="#4f97c5" fill-opacity="0.8"/>
<rect x="128.09" y="419.7" width="7.95" height="4.4" fill="#4995a8" fill-opacity="0.8"/>
<rect x="128.09" y="424.1" width="7.95" height="22.2" fill="#a8d88d" fill-opacity="0.8"/>
<rect x="128.09" y="446.3" width="7.95" height="9.8" fill="#69bb54" fill-opacity="0.8"/>
<rect x="128.09" y="456.1" width="7.95" height="7.76" fill="#5e9f43" fill-opacity="0.8"/>
<rect x="128.09" y="463.86" width="7.95" height="0.24" fill="#de9b89" fill-opacity="0.8"/>
<rect x="128.09" y="464.1" width="7.95" height="9.51" fill="#ef5a5a" fill-opacity="0.8"/>
<rect x="128.09" y="473.61" width="7.95" height="0.29" fill="#e73228" fill-opacity="0.8"/>
<rect x="128.09" y="473.9" width="7.95" height="0.94" fill="#f79c5d" fill-opacity="0.8"/>
<rect x="128.09" y="474.84" width="7.95" height="1.13" fill="#fea43f" fill-opacity="0.8"/>
<rect x="128.09" y="475.97" width="7.95" height="1.03" fill="#fb830f" fill-opacity="0.8"/>
<rect x="128.09" y="477" width="7.95" height="0.8" fill="#d9a399" fill-opacity="0.8"/>
<rect x="128.09" y="477.8" width="7.95" height="0.8" fill="#a888c1" fill-opacity="0.8"/>
<rect x="136.95" y="390.8" width="7.95" height="9.2" fill="#a6cee3" fill-opacity="0.8"/>
<rect x="136.95" y="400" width="7.95" height="19.1" fill="#4f97c5" fill-opacity="0.8"/>
<rect x="136.95" y="419.1" width="7.95" height="4.8" fill="#4995a8" fill-opacity="0.8"/>
<rect x="136.95" y="423.9" width="7.95" height="22.2" fill="#a8d88d" fill-opacity="0.8"/>
<rect x="136.95" y="446.1" width="7.95" height="9.7" fill="#69bb54" fill-opacity="0.8"/>
<rect x="136.95" y="455.8" width="7.95" height="7.66" fill="#5e9f43" fill-opacity="0.8"/>
<rect x="136.95" y="463.46" width="7.95" height="0.24" fill="#de9b89" fill-opacity="0.8"/>
<rect x="136.95" y="463.7" width="7.95" height="9.7" fill="#ef5a5a" fill-opacity="0.8"/>
<rect x="136.95" y="473.4" width="7.95" height="0.3" fill="#e73228" fill-opacity="0.8"/>
<rect x="136.95" y="473.7" width="7.95" height="0.98" fill="#f79c5d" fill-opacity="0.8"/>
<rect x="136.95" y="474.68" width="7.95" height="1.18" fill="#fea43f" fill-opacity="0.8"/>
<rect x="136.95" y="475.86" width="7.95" height="1.08" fill="#fb830f" fill-opacity="0.8"/>
<rect x="136.95" y="476.93" width="7.95" height="0.83" fill="#d9a399" fill-opacity="0.8"/>
<rect x="136.95" y="477.77" width="7.95" height="0.83" fill="#a888c1" fill-opacity="0.8"/>
<rect x="145.8" y="390" width="7.95" height="9.4" fill="#a6cee3" fill-opacity="0.8"/>
<rect x="145.8" y="399.4" width="7.95" height="18.9" fill="#4f97c5" fill-opacity="0.8"/>
<rect x="145.8" y="418.3" width="7.95" height="4.7" fill="#4995a8" fill-opacity="0.8"/>
<rect x="145.8" y="423" width="7.95" height="22.3" fill="#a8d88d" fill-opacity="0.8"/>
<rect x="145.8" y="445.3" width="7.95" height="10" fill="#69bb54" fill-opacity="0.8"/>
<rect x="145.8" y="455.3" width="7.95" height="7.76" fill="#5e9f43" fill-opacity="0.8"/>
<rect x="145.8" y="463.06" width="7.95" height="0.24" fill="#de9b89" fill-opacity="0.8"/>
<rect x="145.8" y="463.3" width="7.95" height="9.99" fill="#ef5a5a" fill-opacity="0.8"/>
<rect x="145.8" y="473.29" width="7.95" height="0.31" fill="#e73228" fill-opacity="0.8"/>
<rect x="145.8" y="473.6" width="7.95" height="1" fill="#f79c5d" fill-opacity="0.8"/>
<rect x="145.8" y="474.6" width="7.95" height="1.2" fill="#fea43f" fill-opacity="0.8"/>
<rect x="145.8" y="475.8" width="7.95" height="1.1" fill="#fb830f" fill-opacity="0.8"/>
<rect x="145.8" y="476.9" width="7.95" height="0.85" fill="#d9a399" fill-opacity="0.8"/>
<rect x="145.8" y="477.75" width="7.95" height="0.85" fill="#a888c1" fill-opacity="0.8"/>
<rect x="154.65" y="389.1" width="7.95" height="9.5" fill="#a6cee3" fill-opacity="0.8"/>
<rect x="154.65" y="398.6" width="7.95" height="18.6" fill="#4f97c5" fill-opacity="0.8"/>
<rect x="154.65" y="417.2" width="7.95" height="4.7" fill="#4995a8" fill-opacity="0.8"/>
<rect x="154.65" y="421.9" width="7.95" height="22.5" fill="#a8d88d" fill-opacity="0.8"/>
<rect x="154.65" y="444.4" width="7.95" height="10" fill="#69bb54" fill-opacity="0.8"/>
<rect x="154.65" y="454.4" width="7.95" height="7.95" fill="#5e9f43" fill-opacity="0.8"/>
<rect x="154.65" y="462.35" width="7.95" height="0.25" fill="#de9b89" fill-opacity="0.8"/>
<rect x="154.65" y="462.6" width="7.95" height="10.38" fill="#ef5a5a" fill-opacity="0.8"/>
<rect x="154.65" y="472.98" width="7.95" height="0.32" fill="#e73228" fill-opacity="0.8"/>
<rect x="154.65" y="473.3" width="7.95" height="1.06" fill="#f79c5d" fill-opacity="0.8"/>
<rect x="154.65" y="474.36" width="7.95" height="1.27" fill="#fea43f" fill-opacity="0.8"/>
<rect x="154.65" y="475.63" width="7.95" height="1.17" fill="#fb830f" fill-opacity="0.8"/>
<rect x="154.65" y="476.8" width="7.95" height="0.9" fill="#d9a399" fill-opacity="0.8"/>
<rect x="154.65" y="477.7" width="7.95" height="0.9" fill="#a888c1" fill-opacity="0.8"/>
<rect x="163.5" y="388.7" width="7.95" height="9.4" fill="#a6cee3" fill-opacity="0.8"/>
<rect x="163.5" y="398.1" width="7.95" height="19.1" fill="#4f97c5" fill-opacity="0.8"/>
<rect x="163.5" y="417.2" width="7.95" height="4.7" fill="#4995a8" fill-opacity="0.8"/>
<rect x="163.5" y="421.9" width="7.95" height="22.3" fill="#a8d88d" fill-opacity="0.8"/>
<rect x="163.5" y="444.2" width="7.95" height="9.9" fill="#69bb54" fill-opacity="0.8"/>
<rect x="163.5" y="454.1" width="7.95" height="7.86" fill="#5e9f43" fill-opacity="0.8"/>
<rect x="163.5" y="461.96" width="7.95" height="0.24" fill="#de9b89" fill-opacity="0.8"/>
<rect x="163.5" y="462.2" width="7.95" height="10.57" fill="#ef5a5a" fill-opacity="0.8"/>
<rect x="163.5" y="472.77" width="7.95" height="0.33" fill="#e73228" fill-opacity="0.8"/>
<rect x="163.5" y="473.1" width="7.95" height="1.1" fill="#f79c5d" fill-opacity="0.8"/>
<rect x="163.5" y="474.2" width="7.95" height="1.32" fill="#fea43f" fill-opacity="0.8"/>
<rect x="163.5" y="475.52" width="7.95" height="1.21" fill="#fb830f" fill-opacity="0.8"/>
<rect x="163.5" y="476.73" width="7.95" height="0.94" fill="#d9a399" fill-opacity="0.8"/>
<rect x="163.5" y="477.67" width="7.95" height="0.94" fill="#a888c1" fill-opacity="0.8"/>
<rect x="172.35" y="388" width="7.95" height="9.8" fill="#a6cee3" fill-opacity="0.8"/>
<rect x="172.35" y="397.8" width="7.95" height="18.9" fill="#4f97c5" fill-opacity="0.8"/>
<rect x="172.35" y="416.7" width="7.95" height="4.6" fill="#4995a8" fill-opacity="0.8"/>
<rect x="172.35" y="421.3" width="7.95" height="22.4" fill="#a8d88d" fill-opacity="0.8"/>
<rect x="172.35" y="443.7" width="7.95" height="9.6" fill="#69bb54" fill-opacity="0.8"/>
<rect x="172.35" y="453.3" width="7.95" height="8.15" fill="#5e9f43" fill-opacity="0.8"/>
<rect x="172.35" y="461.45" width="7.95" height="0.25" fill="#de9b89" fill-opacity="0.8"/>
<rect x="172.35" y="461.7" width="7.95" height="10.96" fill="#ef5a5a" fill-opacity="0.8"/>
<rect x="172.35" y="472.66" width="7.95" height="0.34" fill="#e73228" fill-opacity="0.8"/>
<rect x="172.35" y="473" width="7.95" height="1.12" fill="#f79c5d" fill-opacity="0.8"/>
<rect x="172.35" y="474.12" width="7.95" height="1.34" fill="#fea43f" fill-opacity="0.8"/>
<rect x="172.35" y="475.46" width="7.95" height="1.23" fill="#fb830f" fill-opacity="0.8"/>
<rect x="172.35" y="476.7" width="7.95" height="0.95" fill="#d9a399" fill-opacity="0.8"/>
<rect x="172.35" y="477.65" width="7.95" height="0.95" fill="#a888c1" fill-opacity="0.8"/>
<rect x="181.21" y="387.1" width="7.95" height="9.9" fill="#a6cee3" fill-opacity="0.8"/>
<rect x="181.21" y="397" width="7.95" height="19.1" fill="#4f97c5" fill-opacity="0.8"/>
<rect x="181.21" y="416.1" width="7.95" height="4.7" fill="#4995a8" fill-opacity="0.8"/>
<rect x="181.21" y="420.8" width="7.95" height="22.3" fill="#a8d88d" fill-opacity="0.8"/>
<rect x="181.21" y="443.1" width="7.95" height="9.9" fill="#69bb54" fill-opacity="0.8"/>
<rect x="181.21" y="453" width="7.95" height="8.05" fill="#5e9f43" fill-opacity="0.8"/>
<rect x="181.21" y="461.05" width="7.95" height="0.25" fill="#de9b89" fill-opacity="0.8"/>
<rect x="181.21" y="461.3" width="7.95" height="11.06" fill="#ef5a5a" fill-opacity="0.8"/>
<rect x="181.21" y="472.36" width="7.95" height="0.34" fill="#e73228" fill-opacity="0.8"/>
<rect x="181.21" y="472.7" width="7.95" height="1.18" fill="#f79c5d" fill-opacity="0.8"/>
<rect x="181.21" y="473.88" width="7.95" height="1.42" fill="#fea43f" fill-opacity="0.8"/>
<rect x="181.21" y="475.3" width="7.95" height="1.3" fill="#fb830f" fill-opacity="0.8"/>
<rect x="181.21" y="476.59" width="7.95" height="1" fill="#d9a399" fill-opacity="0.8"/>
<rect x="181.21" y="477.6" width="7.95" height="1" fill="#a888c1" fill-opacity="0.8"/>
<rect x="190.06" y="387.2" width="7.95" height="9.8" fill="#a6cee3" fill-opacity="0.8"/>
<rect x="190.06" y="397" width="7.95" height="19.4" fill="#4f97c5" fill-opacity="0.8"/>
<rect x="190.06" y="416.4" width="7.95" height="4.5" fill="#4995a8" fill-opacity="0.8"/>
<rect x="190.06" y="420.9" width="7.95" height="22.2" fill="#a8d88d" fill-opacity="0.8"/>
<rect x="190.06" y="443.1" width="7.95" height="9.9" fill="#69bb54" fill-opacity="0.8"/>
<rect x="190.06" y="453" width="7.95" height="8.05" fill="#5e9f43" fill-opacity="0.8"/>
<rect x="190.06" y="461.05" width="7.95" height="0.25" fill="#de9b89" fill-opacity="0.8"/>
<rect x="190.06" y="461.3" width="7.95" height="10.96" fill="#ef5a5a" fill-opacity="0.8"/>
<rect x="190.06" y="472.26" width="7.95" height="0.34" fill="#e73228" fill-opacity="0.8"/>
<rect x="190.06" y="472.6" width="7.95" height="1.2" fill="#f79c5d" fill-opacity="0.8"/>
<rect x="190.06" y="473.8" width="7.95" height="1.44" fill="#fea43f" fill-opacity="0.8"/>
<rect x="190.06" y="475.24" width="7.95" height="1.32" fill="#fb830f" fill-opacity="0.8"/>
<rect x="190.06" y="476.56" width="7.95" height="1.02" fill="#d9a399" fill-opacity="0.8"/>
<rect x="190.06" y="477.58" width="7.95" height="1.02" fill="#a888c1" fill-opacity="0.8"/>
<rect x="198.91" y="387.7" width="7.95" height="9.7" fill="#a6cee3" fill-opacity="0.8"/>
<rect x="198.91" y="397.4" width="7.95" height="19.4" fill="#4f97c5" fill-opacity="0.8"/>
<rect x="198.91" y="416.8" width="7.95" height="4.4" fill="#4995a8" fill-opacity="0.8"/>
<rect x="198.91" y="421.2" width="7.95" height="21.9" fill="#a8d88d" fill-opacity="0.8"/>
<rect x="198.91" y="443.1" width="7.95" height="9.9" fill="#69bb54" fill-opacity="0.8"/>
<rect x="198.91" y="453" width="7.95" height="8.05" fill="#5e9f43" fill-opacity="0.8"/>
<rect x="198.91" y="461.05" width="7.95" height="0.25" fill="#de9b89" fill-opacity="0.8"/>
<rect x="198.91" y="461.3" width="7.95" height="10.96" fill="#ef5a5a" fill-opacity="0.8"/>
<rect x="198.91" y="472.26" width="7.95" height="0.34" fill="#e73228" fill-opacity="0.8"/>
<rect x="198.91" y="472.6" width="7.95" height="1.2" fill="#f79c5d" fill-opacity="0.8"/>
<rect x="198.91" y="473.8" width="7.95" height="1.44" fill="#fea43f" fill-opacity="0.8"/>
<rect x="198.91" y="475.24" width="7.95" height="1.32" fill="#fb830f" fill-opacity="0.8"/>
<rect x="198.91" y="476.56" width="7.95" height="1.02" fill="#d9a399" fill-opacity="0.8"/>
<rect x="198.91" y="477.58" width="7.95" height="1.02" fill="#a888c1" fill-opacity="0.8"/>
<rect x="207.76" y="387.8" width="7.95" height="9.6" fill="#a6cee3" fill-opacity="0.8"/>
<rect x="207.76" y="397.4" width="7.95" height="19.6" fill="#4f97c5" fill-opacity="0.8"/>
<rect x="207.76" y="417" width="7.95" height="4.3" fill="#4995a8" fill-opacity="0.8"/>
<rect x="207.76" y="421.3" width="7.95" height="21.9" fill="#a8d88d" fill-opacity="0.8"/>
<rect x="207.76" y="443.2" width="7.95" height="9.8" fill="#69bb54" fill-opacity="0.8"/>
<rect x="207.76" y="453" width="7.95" height="8.05" fill="#5e9f43" fill-opacity="0.8"/>
<rect x="207.76" y="461.05" width="7.95" height="0.25" fill="#de9b89" fill-opacity="0.8"/>
<rect x="207.76" y="461.3" width="7.95" height="10.96" fill="#ef5a5a" fill-opacity="0.8"/>
<rect x="207.76" y="472.26" width="7.95" height="0.34" fill="#e73228" fill-opacity="0.8"/>
<rect x="207.76" y="472.6" width="7.95" height="1.2" fill="#f79c5d" fill-opacity="0.8"/>
<rect x="207.76" y="473.8" width="7.95" height="1.44" fill="#fea43f" fill-opacity="0.8"/>
<rect x="207.76" y="475.24" width="7.95" height="1.32" fill="#fb830f" fill-opacity="0.8"/>
<rect x="207.76" y="476.56" width="7.95" height="1.02" fill="#d9a399" fill-opacity="0.8"/>
<rect x="207.76" y="477.58" width="7.95" height="1.02" fill="#a888c1" fill-opacity="0.8"/>
<rect x="216.61" y="388.3" width="7.95" height="9.5" fill="#a6cee3" fill-opacity="0.8"/>
<rect x="216.61" y="397.8" width="7.95" height="19.6" fill="#4f97c5" fill-opacity="0.8"/>
<rect x="216.61" y="417.4" width="7.95" height="4.5" fill="#4995a8" fill-opacity="0.8"/>
<rect x="216.61" y="421.9" width="7.95" height="21.4" fill="#a8d88d" fill-opacity="0.8"/>
<rect x="216.61" y="443.3" width="7.95" height="9.8" fill="#69bb54" fill-opacity="0.8"/>
<rect x="216.61" y="453.1" width="7.95" height="7.95" fill="#5e9f43" fill-opacity="0.8"/>
<rect x="216.61" y="461.05" width="7.95" height="0.25" fill="#de9b89" fill-opacity="0.8"/>
<rect x="216.61" y="461.3" width="7.95" height="10.96" fill="#ef5a5a" fill-opacity="0.8"/>
<rect x="216.61" y="472.26" width="7.95" height="0.34" fill="#e73228" fill-opacity="0.8"/>
<rect x="216.61" y="472.6" width="7.95" height="1.2" fill="#f79c5d" fill-opacity="0.8"/>
<rect x="216.61" y="473.8" width="7.95" height="1.44" fill="#fea43f" fill-opacity="0.8"/>
<rect x="216.61" y="475.24" width="7.95" height="1.32" fill="#fb830f" fill-opacity="0.8"/>
<rect x="216.61" y="476.56" width="7.95" height="1.02" fill="#d9a399" fill-opacity="0.8"/>
<rect x="216.61" y="477.58" width="7.95" height="1.02" fill="#a888c1" fill-opacity="0.8"/>
<rect x="225.47" y="389.8" width="7.95" height="9.3" fill="#a6cee3" fill-opacity="0.8"/>
<rect x="225.47" y="399.1" width="7.95" height="19.5" fill="#4f97c5" fill-opacity="0.8"/>
<rect x="225.47" y="418.6" width="7.95" height="4.5" fill="#4995a8" fill-opacity="0.8"/>
<rect x="225.47" y="423.1" width="7.95" height="20.8" fill="#a8d88d" fill-opacity="0.8"/>
<rect x="225.47" y="443.9" width="7.95" height="10" fill="#69bb54" fill-opacity="0.8"/>
<rect x="225.47" y="453.9" width="7.95" height="7.57" fill="#5e9f43" fill-opacity="0.8"/>
<rect x="225.47" y="461.47" width="7.95" height="0.23" fill="#de9b89" fill-opacity="0.8"/>
<rect x="225.47" y="461.7" width="7.95" height="10.77" fill="#ef5a5a" fill-opacity="0.8"/>
<rect x="225.47" y="472.47" width="7.95" height="0.33" fill="#e73228" fill-opacity="0.8"/>
<rect x="225.47" y="472.8" width="7.95" height="1.16" fill="#f79c5d" fill-opacity="0.8"/>
<rect x="225.47" y="473.96" width="7.95" height="1.39" fill="#fea43f" fill-opacity="0.8"/>
<rect x="225.47" y="475.35" width="7.95" height="1.28" fill="#fb830f" fill-opacity="0.8"/>
<rect x="225.47" y="476.63" width="7.95" height="0.99" fill="#d9a399" fill-opacity="0.8"/>
<rect x="225.47" y="477.61" width="7.95" height="0.99" fill="#a888c1" fill-opacity="0.8"/>
<rect x="234.32" y="390.6" width="7.95" height="9.4" fill="#a6cee3" fill-opacity="0.8"/>
<rect x="234.32" y="400" width="7.95" height="19.4" fill="#4f97c5" fill-opacity="0.8"/>
<rect x="234.32" y="419.4" width="7.95" height="4.5" fill="#4995a8" fill-opacity="0.8"/>
<rect x="234.32" y="423.9" width="7.95" height="20.8" fill="#a8d88d" fill-opacity="0.8"/>
<rect x="234.32" y="444.7" width="7.95" height="10" fill="#69bb54" fill-opacity="0.8"/>
<rect x="234.32" y="454.7" width="7.95" height="7.27" fill="#5e9f43" fill-opacity="0.8"/>
<rect x="234.32" y="461.97" width="7.95" height="0.22" fill="#de9b89" fill-opacity="0.8"/>
<rect x="234.32" y="462.2" width="7.95" height="10.48" fill="#ef5a5a" fill-opacity="0.8"/>
<rect x="234.32" y="472.68" width="7.95" height="0.32" fill="#e73228" fill-opacity="0.8"/>
<rect x="234.32" y="473" width="7.95" height="1.12" fill="#f79c5d" fill-opacity="0.8"/>
<rect x="234.32" y="474.12" width="7.95" height="1.34" fill="#fea43f" fill-opacity="0.8"/>
<rect x="234.32" y="475.46" width="7.95" height="1.23" fill="#fb830f" fill-opacity="0.8"/>
<rect x="234.32" y="476.7" width="7.95" height="0.95" fill="#d9a399" fill-opacity="0.8"/>
<rect x="234.32" y="477.65" width="7.95" height="0.95" fill="#a888c1" fill-opacity="0.8"/>
<rect x="243.17" y="391.7" width="7.95" height="9.2" fill="#a6cee3" fill-opacity="0.8"/>
<rect x="243.17" y="400.9" width="7.95" height="19.7" fill="#4f97c5" fill-opacity="0.8"/>
<rect x="243.17" y="420.6" width="7.95" height="4.2" fill="#4995a8" fill-opacity="0.8"/>
<rect x="243.17" y="424.8" width="7.95" height="20.5" fill="#a8d88d" fill-opacity="0.8"/>
<rect x="243.17" y="445.3" width="7.95" height="10" fill="#69bb54" fill-opacity="0.8"/>
<rect x="243.17" y="455.3" width="7.95" height="7.08" fill="#5e9f43" fill-opacity="0.8"/>
<rect x="243.17" y="462.38" width="7.95" height="0.22" fill="#de9b89" fill-opacity="0.8"/>
<rect x="243.17" y="462.6" width="7.95" height="10.19" fill="#ef5a5a" fill-opacity="0.8"/>
<rect x="243.17" y="472.79" width="7.95" height="0.32" fill="#e73228" fill-opacity="0.8"/>
<rect x="243.17" y="473.1" width="7.95" height="1.1" fill="#f79c5d" fill-opacity="0.8"/>
<rect x="243.17" y="474.2" width="7.95" height="1.32" fill="#fea43f" fill-opacity="0.8"/>
<rect x="243.17" y="475.52" width="7.95" height="1.21" fill="#fb830f" fill-opacity="0.8"/>
<rect x="243.17" y="476.73" width="7.95" height="0.94" fill="#d9a399" fill-opacity="0.8"/>
<rect x="243.17" y="477.67" width="7.95" height="0.94" fill="#a888c1" fill-opacity="0.8"/>
<rect x="252.02" y="392" width="7.95" height="9.3" fill="#a6cee3" fill-opacity="0.8"/>
<rect x="252.02" y="401.3" width="7.95" height="19.8" fill="#4f97c5" fill-opacity="0.8"/>
<rect x="252.02" y="421.1" width="7.95" height="4.1" fill="#4995a8" fill-opacity="0.8"/>
<rect x="252.02" y="425.2" width="7.95" height="20.6" fill="#a8d88d" fill-opacity="0.8"/>
<rect x="252.02" y="445.8" width="7.95" height="10" fill="#69bb54" fill-opacity="0.8"/>
<rect x="252.02" y="455.8" width="7.95" height="6.98" fill="#5e9f43" fill-opacity="0.8"/>
<rect x="252.02" y="462.78" width="7.95" height="0.22" fill="#de9b89" fill-opacity="0.8"/>
<rect x="252.02" y="463" width="7.95" height="9.99" fill="#ef5a5a" fill-opacity="0.8"/>
<rect x="252.02" y="472.99" width="7.95" height="0.31" fill="#e73228" fill-opacity="0.8"/>
<rect x="252.02" y="473.3" width="7.95" height="1.06" fill="#f79c5d" fill-opacity="0.8"/>
<rect x="252.02" y="474.36" width="7.95" height="1.27" fill="#fea43f" fill-opacity="0.8"/>
<rect x="252.02" y="475.63" width="7.95" height="1.17" fill="#fb830f" fill-opacity="0.8"/>
<rect x="252.02" y="476.8" width="7.95" height="0.9" fill="#d9a399" fill-opacity="0.8"/>
<rect x="252.02" y="477.7" width="7.95" height="0.9" fill="#a888c1" fill-opacity="0.8"/>
<rect x="260.87" y="392.8" width="7.95" height="9.2" fill="#a6cee3" fill-opacity="0.8"/>
<rect x="260.87" y="402" width="7.95" height="19.7" fill="#4f97c5" fill-opacity="0.8"/>
<rect x="260.87" y="421.7" width="7.95" height="4.2" fill="#4995a8" fill-opacity="0.8"/>
<rect x="260.87" y="425.9" width="7.95" height="20.2" fill="#a8d88d" fill-opacity="0.8"/>
<rect x="260.87" y="446.1" width="7.95" height="10" fill="#69bb54" fill-opacity="0.8"/>
<rect x="260.87" y="456.1" width="7.95" height="6.98" fill="#5e9f43" fill-opacity="0.8"/>
<rect x="260.87" y="463.08" width="7.95" height="0.22" fill="#de9b89" fill-opacity="0.8"/>
<rect x="260.87" y="463.3" width="7.95" height="9.99" fill="#ef5a5a" fill-opacity="0.8"/>
<rect x="260.87" y="473.29" width="7.95" height="0.31" fill="#e73228" fill-opacity="0.8"/>
<rect x="260.87" y="473.6" width="7.95" height="1" fill="#f79c5d" fill-opacity="0.8"/>
<rect x="260.87" y="474.6" width="7.95" height="1.2" fill="#fea43f" fill-opacity="0.8"/>
<rect x="260.87" y="475.8" width="7.95" height="1.1" fill="#fb830f" fill-opacity="0.8"/>
<rect x="260.87" y="476.9" width="7.95" height="0.85" fill="#d9a399" fill-opacity="0.8"/>
<rect x="260.87" y="477.75" width="7.95" height="0.85" fill="#a888c1" fill-opacity="0.8"/>
<rect x="269.72" y="400.9" width="7.95" height="8.5" fill="#a6cee3" fill-opacity="0.8"/>
<rect x="269.72" y="409.4" width="7.95" height="19.5" fill="#4f97c5" fill-opacity="0.8"/>
<rect x="269.72" y="428.9" width="7.95" height="3.9" fill="#4995a8" fill-opacity="0.8"/>
<rect x="269.72" y="432.8" width="7.95" height="15" fill="#a8d88d" fill-opacity="0.8"/>
<rect x="269.72" y="447.8" width="7.95" height="10.2" fill="#69bb54" fill-opacity="0.8"/>
<rect x="269.72" y="458" width="7.95" height="5.92" fill="#5e9f43" fill-opacity="0.8"/>
<rect x="269.72" y="463.92" width="7.95" height="0.18" fill="#de9b89" fill-opacity="0.8"/>
<rect x="269.72" y="464.1" width="7.95" height="9.7" fill="#ef5a5a" fill-opacity="0.8"/>
<rect x="269.72" y="473.8" width="7.95" height="0.3" fill="#e73228" fill-opacity="0.8"/>
<rect x="269.72" y="474.1" width="7.95" height="0.9" fill="#f79c5d" fill-opacity="0.8"/>
<rect x="269.72" y="475" width="7.95" height="1.08" fill="#fea43f" fill-opacity="0.8"/>
<rect x="269.72" y="476.08" width="7.95" height="0.99" fill="#fb830f" fill-opacity="0.8"/>
<rect x="269.72" y="477.07" width="7.95" height="0.77" fill="#d9a399" fill-opacity="0.8"/>
<rect x="269.72" y="477.83" width="7.95" height="0.77" fill="#a888c1" fill-opacity="0.8"/>
<rect x="45.9" y="341.3" width="242.4" height="10.3" fill="#d9d9d9" stroke="#707070" stroke-width="1.15"/>
<text x="167.1" y="348.84" font-size="5.4" fill="#262626" text-anchor="middle">dual_1.fq</text>
<rect x="45.9" y="351.6" width="242.4" height="133.1" fill="none" stroke="#707070" stroke-width="1.15"/>
<line x1="44.3" y1="479" x2="45.9" y2="479" stroke="#444" stroke-width="0.6"/>
<text x="43.2" y="480.9" font-size="5.3" fill="#555" text-anchor="end">0.00</text>
<line x1="44.3" y1="447.52" x2="45.9" y2="447.52" stroke="#444" stroke-width="0.6"/>
<text x="43.2" y="449.42" font-size="5.3" fill="#555" text-anchor="end">0.25</text>
<line x1="44.3" y1="416.05" x2="45.9" y2="416.05" stroke="#444" stroke-width="0.6"/>
<text x="43.2" y="417.95" font-size="5.3" fill="#555" text-anchor="end">0.50</text>
<line x1="44.3" y1="384.58" x2="45.9" y2="384.58" stroke="#444" stroke-width="0.6"/>
<text x="43.2" y="386.48" font-size="5.3" fill="#555" text-anchor="end">0.75</text>
<line x1="44.3" y1="353.1" x2="45.9" y2="353.1" stroke="#444" stroke-width="0.6"/>
<text x="43.2" y="355" font-size="5.3" fill="#555" text-anchor="end">1.00</text>
<line x1="52.4" y1="484.7" x2="52.4" y2="486.3" stroke="#444" stroke-width="0.6"/>
<text x="52.4" y="491.8" font-size="5.3" fill="#555" text-anchor="middle">0</text>
<line x1="107.72" y1="484.7" x2="107.72" y2="486.3" stroke="#444" stroke-width="0.6"/>
<text x="107.72" y="491.8" font-size="5.3" fill="#555" text-anchor="middle">25</text>
<line x1="163.05" y1="484.7" x2="163.05" y2="486.3" stroke="#444" stroke-width="0.6"/>
<text x="163.05" y="491.8" font-size="5.3" fill="#555" text-anchor="middle">50</text>
<line x1="218.38" y1="484.7" x2="218.38" y2="486.3" stroke="#444" stroke-width="0.6"/>
<text x="218.38" y="491.8" font-size="5.3" fill="#555" text-anchor="middle">75</text>
<line x1="273.7" y1="484.7" x2="273.7" y2="486.3" stroke="#444" stroke-width="0.6"/>
<text x="273.7" y="491.8" font-size="5.3" fill="#555" text-anchor="middle">100</text>
<text transform="translate(29.9 417.5) rotate(-90)" font-size="6.4" fill="#222" stroke="#222" stroke-width="0.12" text-anchor="middle">ormalised coverage (coverage/uniquely mapped reads</text>
<text x="296.9" y="375.8" font-size="6.8" fill="#000" text-anchor="start" stroke="#000" stroke-width="0.12">Isotype</text>
<rect x="297.3" y="380.5" width="9.9" height="9.6" fill="#a6cee3" fill-opacity="0.8"/>
<text x="311.2" y="387.28" font-size="5.5" fill="#000" text-anchor="start" stroke="#000" stroke-width="0.1">Glu</text>
<rect x="297.3" y="391.35" width="9.9" height="9.6" fill="#4f97c5" fill-opacity="0.8"/>
<text x="311.2" y="398.13" font-size="5.5" fill="#000" text-anchor="start" stroke="#000" stroke-width="0.1">Asp</text>
<rect x="297.3" y="402.2" width="9.9" height="9.6" fill="#4995a8" fill-opacity="0.8"/>
<text x="311.2" y="408.98" font-size="5.5" fill="#000" text-anchor="start" stroke="#000" stroke-width="0.1">Pro</text>
<rect x="297.3" y="413.05" width="9.9" height="9.6" fill="#a8d88d" fill-opacity="0.8"/>
<text x="311.2" y="419.83" font-size="5.5" fill="#000" text-anchor="start" stroke="#000" stroke-width="0.1">Gly</text>
<rect x="297.3" y="423.9" width="9.9" height="9.6" fill="#69bb54" fill-opacity="0.8"/>
<text x="311.2" y="430.68" font-size="5.5" fill="#000" text-anchor="start" stroke="#000" stroke-width="0.1">His</text>
<rect x="297.3" y="434.75" width="9.9" height="9.6" fill="#5e9f43" fill-opacity="0.8"/>
<text x="311.2" y="441.53" font-size="5.5" fill="#000" text-anchor="start" stroke="#000" stroke-width="0.1">Lys</text>
<rect x="297.3" y="445.6" width="9.9" height="9.6" fill="#de9b89" fill-opacity="0.8"/>
<text x="311.2" y="452.38" font-size="5.5" fill="#000" text-anchor="start" stroke="#000" stroke-width="0.1">Met</text>
<rect x="297.3" y="456.45" width="9.9" height="9.6" fill="#ef5a5a" fill-opacity="0.8"/>
<text x="311.2" y="463.23" font-size="5.5" fill="#000" text-anchor="start" stroke="#000" stroke-width="0.1">iMet</text>
<rect x="325.7" y="380.5" width="9.9" height="9.6" fill="#e73228" fill-opacity="0.8"/>
<text x="339.5" y="387.28" font-size="5.5" fill="#000" text-anchor="start" stroke="#000" stroke-width="0.1">Asn</text>
<rect x="325.7" y="391.35" width="9.9" height="9.6" fill="#f79c5d" fill-opacity="0.8"/>
<text x="339.5" y="398.13" font-size="5.5" fill="#000" text-anchor="start" stroke="#000" stroke-width="0.1">Leu</text>
<rect x="325.7" y="402.2" width="9.9" height="9.6" fill="#fea43f" fill-opacity="0.8"/>
<text x="339.5" y="408.98" font-size="5.5" fill="#000" text-anchor="start" stroke="#000" stroke-width="0.1">Ile</text>
<rect x="325.7" y="413.05" width="9.9" height="9.6" fill="#fb830f" fill-opacity="0.8"/>
<text x="339.5" y="419.83" font-size="5.5" fill="#000" text-anchor="start" stroke="#000" stroke-width="0.1">Trp</text>
<rect x="325.7" y="423.9" width="9.9" height="9.6" fill="#d9a399" fill-opacity="0.8"/>
<text x="339.5" y="430.68" font-size="5.5" fill="#000" text-anchor="start" stroke="#000" stroke-width="0.1">Cys</text>
<rect x="325.7" y="434.75" width="9.9" height="9.6" fill="#a888c1" fill-opacity="0.8"/>
<text x="339.5" y="441.53" font-size="5.5" fill="#000" text-anchor="start" stroke="#000" stroke-width="0.1">Val</text>
<rect x="325.7" y="445.6" width="9.9" height="9.6" fill="#7f7f7f" fill-opacity="0.8"/>
<text x="339.5" y="452.38" font-size="5.5" fill="#000" text-anchor="start" stroke="#000" stroke-width="0.1">NA</text>
<rect x="376" y="347.6" width="261.4" height="142.8" fill="#ffffff"/>
<line x1="412.38" y1="347.6" x2="412.38" y2="490.4" stroke="#f1f1f1" stroke-width="0.4"/>
<line x1="472.14" y1="347.6" x2="472.14" y2="490.4" stroke="#f1f1f1" stroke-width="0.4"/>
<line x1="531.91" y1="347.6" x2="531.91" y2="490.4" stroke="#f1f1f1" stroke-width="0.4"/>
<line x1="591.67" y1="347.6" x2="591.67" y2="490.4" stroke="#f1f1f1" stroke-width="0.4"/>
<line x1="376" y1="466.8" x2="637.4" y2="466.8" stroke="#f1f1f1" stroke-width="0.4"/>
<line x1="376" y1="431.8" x2="637.4" y2="431.8" stroke="#f1f1f1" stroke-width="0.4"/>
<line x1="376" y1="396.8" x2="637.4" y2="396.8" stroke="#f1f1f1" stroke-width="0.4"/>
<line x1="376" y1="361.8" x2="637.4" y2="361.8" stroke="#f1f1f1" stroke-width="0.4"/>
<line x1="382.5" y1="347.6" x2="382.5" y2="490.4" stroke="#e9e9e9" stroke-width="0.7"/>
<line x1="442.26" y1="347.6" x2="442.26" y2="490.4" stroke="#e9e9e9" stroke-width="0.7"/>
<line x1="502.02" y1="347.6" x2="502.02" y2="490.4" stroke="#e9e9e9" stroke-width="0.7"/>
<line x1="561.79" y1="347.6" x2="561.79" y2="490.4" stroke="#e9e9e9" stroke-width="0.7"/>
<line x1="621.55" y1="347.6" x2="621.55" y2="490.4" stroke="#e9e9e9" stroke-width="0.7"/>
<line x1="376" y1="484.3" x2="637.4" y2="484.3" stroke="#e9e9e9" stroke-width="0.7"/>
<line x1="376" y1="449.3" x2="637.4" y2="449.3" stroke="#e9e9e9" stroke-width="0.7"/>
<line x1="376" y1="414.3" x2="637.4" y2="414.3" stroke="#e9e9e9" stroke-width="0.7"/>
<line x1="376" y1="379.3" x2="637.4" y2="379.3" stroke="#e9e9e9" stroke-width="0.7"/>
<rect x="387.79" y="461.1" width="8.55" height="0.4" fill="#2c81b9" fill-opacity="0.8"/>
<rect x="387.79" y="461.5" width="8.55" height="0.4" fill="#529ca5" fill-opacity="0.8"/>
<rect x="387.79" y="461.9" width="8.55" height="0.82" fill="#95ca92" fill-opacity="0.8"/>
<rect x="387.79" y="462.72" width="8.55" height="0.18" fill="#92cf72" fill-opacity="0.8"/>
<rect x="387.79" y="462.9" width="8.55" height="0.22" fill="#59b348" fill-opacity="0.8"/>
<rect x="387.79" y="463.12" width="8.55" height="0.85" fill="#519f3c" fill-opacity="0.8"/>
<rect x="387.79" y="463.97" width="8.55" height="0.03" fill="#ab9c6d" fill-opacity="0.8"/>
<rect x="387.79" y="464" width="8.55" height="0.16" fill="#fa9493" fill-opacity="0.8"/>
<rect x="387.79" y="464.16" width="8.55" height="0.04" fill="#ef5a5a" fill-opacity="0.8"/>
<rect x="387.79" y="464.2" width="8.55" height="0.4" fill="#e42022" fill-opacity="0.8"/>
<rect x="387.79" y="464.6" width="8.55" height="0.4" fill="#ed5c3d" fill-opacity="0.8"/>
<rect x="387.79" y="465" width="8.55" height="0.7" fill="#f9a663" fill-opacity="0.8"/>
<rect x="387.79" y="465.7" width="8.55" height="0.7" fill="#feac4e" fill-opacity="0.8"/>
<rect x="387.79" y="466.4" width="8.55" height="0.75" fill="#fe8f1c" fill-opacity="0.8"/>
<rect x="387.79" y="467.15" width="8.55" height="0.75" fill="#f4892b" fill-opacity="0.8"/>
<rect x="387.79" y="467.9" width="8.55" height="2.3" fill="#dda08b" fill-opacity="0.8"/>
<rect x="387.79" y="470.2" width="8.55" height="6.2" fill="#c0a6d0" fill-opacity="0.8"/>
<rect x="387.79" y="476.4" width="8.55" height="5.5" fill="#9572b5" fill-opacity="0.8"/>
<rect x="387.79" y="481.9" width="8.55" height="2" fill="#6a3d9a" fill-opacity="0.8"/>
<rect x="397.35" y="455.9" width="8.55" height="0.1" fill="#69a7ce" fill-opacity="0.8"/>
<rect x="397.35" y="456" width="8.55" height="0.6" fill="#2c81b9" fill-opacity="0.8"/>
<rect x="397.35" y="456.6" width="8.55" height="0.3" fill="#529ca5" fill-opacity="0.8"/>
<rect x="397.35" y="456.9" width="8.55" height="0.82" fill="#95ca92" fill-opacity="0.8"/>
<rect x="397.35" y="457.72" width="8.55" height="0.18" fill="#92cf72" fill-opacity="0.8"/>
<rect x="397.35" y="457.9" width="8.55" height="0.18" fill="#59b348" fill-opacity="0.8"/>
<rect x="397.35" y="458.08" width="8.55" height="0.69" fill="#519f3c" fill-opacity="0.8"/>
<rect x="397.35" y="458.77" width="8.55" height="0.03" fill="#ab9c6d" fill-opacity="0.8"/>
<rect x="397.35" y="458.8" width="8.55" height="0.24" fill="#fa9493" fill-opacity="0.8"/>
<rect x="397.35" y="459.04" width="8.55" height="0.06" fill="#ef5a5a" fill-opacity="0.8"/>
<rect x="397.35" y="459.1" width="8.55" height="0.5" fill="#e42022" fill-opacity="0.8"/>
<rect x="397.35" y="459.6" width="8.55" height="0.5" fill="#ed5c3d" fill-opacity="0.8"/>
<rect x="397.35" y="460.1" width="8.55" height="0.95" fill="#f9a663" fill-opacity="0.8"/>
<rect x="397.35" y="461.05" width="8.55" height="0.95" fill="#feac4e" fill-opacity="0.8"/>
<rect x="397.35" y="462" width="8.55" height="1" fill="#fe8f1c" fill-opacity="0.8"/>
<rect x="397.35" y="463" width="8.55" height="1" fill="#f4892b" fill-opacity="0.8"/>
<rect x="397.35" y="464" width="8.55" height="2.6" fill="#dda08b" fill-opacity="0.8"/>
<rect x="397.35" y="466.6" width="8.55" height="6.8" fill="#c0a6d0" fill-opacity="0.8"/>
<rect x="397.35" y="473.4" width="8.55" height="8.5" fill="#9572b5" fill-opacity="0.8"/>
<rect x="397.35" y="481.9" width="8.55" height="2" fill="#6a3d9a" fill-opacity="0.8"/>
<rect x="406.91" y="453.1" width="8.55" height="0.1" fill="#69a7ce" fill-opacity="0.8"/>
<rect x="406.91" y="453.2" width="8.55" height="0.7" fill="#2c81b9" fill-opacity="0.8"/>
<rect x="406.91" y="453.9" width="8.55" height="0.3" fill="#529ca5" fill-opacity="0.8"/>
<rect x="406.91" y="454.2" width="8.55" height="0.74" fill="#95ca92" fill-opacity="0.8"/>
<rect x="406.91" y="454.94" width="8.55" height="0.16" fill="#92cf72" fill-opacity="0.8"/>
<rect x="406.91" y="455.1" width="8.55" height="0.16" fill="#59b348" fill-opacity="0.8"/>
<rect x="406.91" y="455.26" width="8.55" height="0.62" fill="#519f3c" fill-opacity="0.8"/>
<rect x="406.91" y="455.88" width="8.55" height="0.02" fill="#ab9c6d" fill-opacity="0.8"/>
<rect x="406.91" y="455.9" width="8.55" height="0.32" fill="#fa9493" fill-opacity="0.8"/>
<rect x="406.91" y="456.22" width="8.55" height="0.08" fill="#ef5a5a" fill-opacity="0.8"/>
<rect x="406.91" y="456.3" width="8.55" height="0.8" fill="#e42022" fill-opacity="0.8"/>
<rect x="406.91" y="457.1" width="8.55" height="0.8" fill="#ed5c3d" fill-opacity="0.8"/>
<rect x="406.91" y="457.9" width="8.55" height="0.95" fill="#f9a663" fill-opacity="0.8"/>
<rect x="406.91" y="458.85" width="8.55" height="0.95" fill="#feac4e" fill-opacity="0.8"/>
<rect x="406.91" y="459.8" width="8.55" height="1" fill="#fe8f1c" fill-opacity="0.8"/>
<rect x="406.91" y="460.8" width="8.55" height="1" fill="#f4892b" fill-opacity="0.8"/>
<rect x="406.91" y="461.8" width="8.55" height="2.9" fill="#dda08b" fill-opacity="0.8"/>
<rect x="406.91" y="464.7" width="8.55" height="7.4" fill="#c0a6d0" fill-opacity="0.8"/>
<rect x="406.91" y="472.1" width="8.55" height="9.5" fill="#9572b5" fill-opacity="0.8"/>
<rect x="406.91" y="481.6" width="8.55" height="2.3" fill="#6a3d9a" fill-opacity="0.8"/>
<rect x="416.47" y="449.4" width="8.55" height="0.1" fill="#a6cee3" fill-opacity="0.8"/>
<rect x="416.47" y="449.5" width="8.55" height="0.3" fill="#69a7ce" fill-opacity="0.8"/>
<rect x="416.47" y="449.8" width="8.55" height="0.8" fill="#2c81b9" fill-opacity="0.8"/>
<rect x="416.47" y="450.6" width="8.55" height="0.4" fill="#529ca5" fill-opacity="0.8"/>
<rect x="416.47" y="451" width="8.55" height="1.31" fill="#95ca92" fill-opacity="0.8"/>
<rect x="416.47" y="452.31" width="8.55" height="0.29" fill="#92cf72" fill-opacity="0.8"/>
<rect x="416.47" y="452.6" width="8.55" height="0.28" fill="#59b348" fill-opacity="0.8"/>
<rect x="416.47" y="452.88" width="8.55" height="1.08" fill="#519f3c" fill-opacity="0.8"/>
<rect x="416.47" y="453.96" width="8.55" height="0.04" fill="#ab9c6d" fill-opacity="0.8"/>
<rect x="416.47" y="454" width="8.55" height="0.32" fill="#fa9493" fill-opacity="0.8"/>
<rect x="416.47" y="454.32" width="8.55" height="0.08" fill="#ef5a5a" fill-opacity="0.8"/>
<rect x="416.47" y="454.4" width="8.55" height="0.75" fill="#e42022" fill-opacity="0.8"/>
<rect x="416.47" y="455.15" width="8.55" height="0.75" fill="#ed5c3d" fill-opacity="0.8"/>
<rect x="416.47" y="455.9" width="8.55" height="1.25" fill="#f9a663" fill-opacity="0.8"/>
<rect x="416.47" y="457.15" width="8.55" height="1.25" fill="#feac4e" fill-opacity="0.8"/>
<rect x="416.47" y="458.4" width="8.55" height="1.25" fill="#fe8f1c" fill-opacity="0.8"/>
<rect x="416.47" y="459.65" width="8.55" height="1.25" fill="#f4892b" fill-opacity="0.8"/>
<rect x="416.47" y="460.9" width="8.55" height="3.1" fill="#dda08b" fill-opacity="0.8"/>
<rect x="416.47" y="464" width="8.55" height="7.9" fill="#c0a6d0" fill-opacity="0.8"/>
<rect x="416.47" y="471.9" width="8.55" height="9.6" fill="#9572b5" fill-opacity="0.8"/>
<rect x="416.47" y="481.5" width="8.55" height="2.4" fill="#6a3d9a" fill-opacity="0.8"/>
<rect x="426.04" y="444" width="8.55" height="0.2" fill="#a6cee3" fill-opacity="0.8"/>
<rect x="426.04" y="444.2" width="8.55" height="0.4" fill="#69a7ce" fill-opacity="0.8"/>
<rect x="426.04" y="444.6" width="8.55" height="1" fill="#2c81b9" fill-opacity="0.8"/>
<rect x="426.04" y="445.6" width="8.55" height="0.6" fill="#529ca5" fill-opacity="0.8"/>
<rect x="426.04" y="446.2" width="8.55" height="2.46" fill="#95ca92" fill-opacity="0.8"/>
<rect x="426.04" y="448.66" width="8.55" height="0.54" fill="#92cf72" fill-opacity="0.8"/>
<rect x="426.04" y="449.2" width="8.55" height="0.44" fill="#59b348" fill-opacity="0.8"/>
<rect x="426.04" y="449.64" width="8.55" height="1.69" fill="#519f3c" fill-opacity="0.8"/>
<rect x="426.04" y="451.33" width="8.55" height="0.07" fill="#ab9c6d" fill-opacity="0.8"/>
<rect x="426.04" y="451.4" width="8.55" height="0.32" fill="#fa9493" fill-opacity="0.8"/>
<rect x="426.04" y="451.72" width="8.55" height="0.08" fill="#ef5a5a" fill-opacity="0.8"/>
<rect x="426.04" y="451.8" width="8.55" height="0.75" fill="#e42022" fill-opacity="0.8"/>
<rect x="426.04" y="452.55" width="8.55" height="0.75" fill="#ed5c3d" fill-opacity="0.8"/>
<rect x="426.04" y="453.3" width="8.55" height="1.25" fill="#f9a663" fill-opacity="0.8"/>
<rect x="426.04" y="454.55" width="8.55" height="1.25" fill="#feac4e" fill-opacity="0.8"/>
<rect x="426.04" y="455.8" width="8.55" height="1.25" fill="#fe8f1c" fill-opacity="0.8"/>
<rect x="426.04" y="457.05" width="8.55" height="1.25" fill="#f4892b" fill-opacity="0.8"/>
<rect x="426.04" y="458.3" width="8.55" height="3.8" fill="#dda08b" fill-opacity="0.8"/>
<rect x="426.04" y="462.1" width="8.55" height="9.1" fill="#c0a6d0" fill-opacity="0.8"/>
<rect x="426.04" y="471.2" width="8.55" height="10" fill="#9572b5" fill-opacity="0.8"/>
<rect x="426.04" y="481.2" width="8.55" height="2.7" fill="#6a3d9a" fill-opacity="0.8"/>
<rect x="435.6" y="441.7" width="8.55" height="0.2" fill="#a6cee3" fill-opacity="0.8"/>
<rect x="435.6" y="441.9" width="8.55" height="0.4" fill="#69a7ce" fill-opacity="0.8"/>
<rect x="435.6" y="442.3" width="8.55" height="0.9" fill="#2c81b9" fill-opacity="0.8"/>
<rect x="435.6" y="443.2" width="8.55" height="0.6" fill="#529ca5" fill-opacity="0.8"/>
<rect x="435.6" y="443.8" width="8.55" height="2.79" fill="#95ca92" fill-opacity="0.8"/>
<rect x="435.6" y="446.59" width="8.55" height="0.61" fill="#92cf72" fill-opacity="0.8"/>
<rect x="435.6" y="447.2" width="8.55" height="0.44" fill="#59b348" fill-opacity="0.8"/>
<rect x="435.6" y="447.64" width="8.55" height="1.69" fill="#519f3c" fill-opacity="0.8"/>
<rect x="435.6" y="449.33" width="8.55" height="0.07" fill="#ab9c6d" fill-opacity="0.8"/>
<rect x="435.6" y="449.4" width="8.55" height="0.4" fill="#fa9493" fill-opacity="0.8"/>
<rect x="435.6" y="449.8" width="8.55" height="0.1" fill="#ef5a5a" fill-opacity="0.8"/>
<rect x="435.6" y="449.9" width="8.55" height="0.95" fill="#e42022" fill-opacity="0.8"/>
<rect x="435.6" y="450.85" width="8.55" height="0.95" fill="#ed5c3d" fill-opacity="0.8"/>
<rect x="435.6" y="451.8" width="8.55" height="1.35" fill="#f9a663" fill-opacity="0.8"/>
<rect x="435.6" y="453.15" width="8.55" height="1.35" fill="#feac4e" fill-opacity="0.8"/>
<rect x="435.6" y="454.5" width="8.55" height="1.35" fill="#fe8f1c" fill-opacity="0.8"/>
<rect x="435.6" y="455.85" width="8.55" height="1.35" fill="#f4892b" fill-opacity="0.8"/>
<rect x="435.6" y="457.2" width="8.55" height="4.3" fill="#dda08b" fill-opacity="0.8"/>
<rect x="435.6" y="461.5" width="8.55" height="9.3" fill="#c0a6d0" fill-opacity="0.8"/>
<rect x="435.6" y="470.8" width="8.55" height="10.1" fill="#9572b5" fill-opacity="0.8"/>
<rect x="435.6" y="480.9" width="8.55" height="3" fill="#6a3d9a" fill-opacity="0.8"/>
<rect x="445.16" y="437" width="8.55" height="0.3" fill="#a6cee3" fill-opacity="0.8"/>
<rect x="445.16" y="437.3" width="8.55" height="0.7" fill="#69a7ce" fill-opacity="0.8"/>
<rect x="445.16" y="438" width="8.55" height="1.2" fill="#2c81b9" fill-opacity="0.8"/>
<rect x="445.16" y="439.2" width="8.55" height="0.8" fill="#529ca5" fill-opacity="0.8"/>
<rect x="445.16" y="440" width="8.55" height="3.2" fill="#95ca92" fill-opacity="0.8"/>
<rect x="445.16" y="443.2" width="8.55" height="0.7" fill="#92cf72" fill-opacity="0.8"/>
<rect x="445.16" y="443.9" width="8.55" height="0.48" fill="#59b348" fill-opacity="0.8"/>
<rect x="445.16" y="444.38" width="8.55" height="1.85" fill="#519f3c" fill-opacity="0.8"/>
<rect x="445.16" y="446.23" width="8.55" height="0.07" fill="#ab9c6d" fill-opacity="0.8"/>
<rect x="445.16" y="446.3" width="8.55" height="0.4" fill="#fa9493" fill-opacity="0.8"/>
<rect x="445.16" y="446.7" width="8.55" height="0.1" fill="#ef5a5a" fill-opacity="0.8"/>
<rect x="445.16" y="446.8" width="8.55" height="0.9" fill="#e42022" fill-opacity="0.8"/>
<rect x="445.16" y="447.7" width="8.55" height="0.9" fill="#ed5c3d" fill-opacity="0.8"/>
<rect x="445.16" y="448.6" width="8.55" height="1.55" fill="#f9a663" fill-opacity="0.8"/>
<rect x="445.16" y="450.15" width="8.55" height="1.55" fill="#feac4e" fill-opacity="0.8"/>
<rect x="445.16" y="451.7" width="8.55" height="1.8" fill="#fe8f1c" fill-opacity="0.8"/>
<rect x="445.16" y="453.5" width="8.55" height="1.8" fill="#f4892b" fill-opacity="0.8"/>
<rect x="445.16" y="455.3" width="8.55" height="4.8" fill="#dda08b" fill-opacity="0.8"/>
<rect x="445.16" y="460.1" width="8.55" height="9.7" fill="#c0a6d0" fill-opacity="0.8"/>
<rect x="445.16" y="469.8" width="8.55" height="11.1" fill="#9572b5" fill-opacity="0.8"/>
<rect x="445.16" y="480.9" width="8.55" height="3" fill="#6a3d9a" fill-opacity="0.8"/>
<rect x="454.72" y="428.1" width="8.55" height="0.5" fill="#a6cee3" fill-opacity="0.8"/>
<rect x="454.72" y="428.6" width="8.55" height="0.9" fill="#69a7ce" fill-opacity="0.8"/>
<rect x="454.72" y="429.5" width="8.55" height="1.3" fill="#2c81b9" fill-opacity="0.8"/>
<rect x="454.72" y="430.8" width="8.55" height="2" fill="#529ca5" fill-opacity="0.8"/>
<rect x="454.72" y="432.8" width="8.55" height="4.1" fill="#95ca92" fill-opacity="0.8"/>
<rect x="454.72" y="436.9" width="8.55" height="0.9" fill="#92cf72" fill-opacity="0.8"/>
<rect x="454.72" y="437.8" width="8.55" height="0.6" fill="#59b348" fill-opacity="0.8"/>
<rect x="454.72" y="438.4" width="8.55" height="2.31" fill="#519f3c" fill-opacity="0.8"/>
<rect x="454.72" y="440.71" width="8.55" height="0.09" fill="#ab9c6d" fill-opacity="0.8"/>
<rect x="454.72" y="440.8" width="8.55" height="0.4" fill="#fa9493" fill-opacity="0.8"/>
<rect x="454.72" y="441.2" width="8.55" height="0.1" fill="#ef5a5a" fill-opacity="0.8"/>
<rect x="454.72" y="441.3" width="8.55" height="1" fill="#e42022" fill-opacity="0.8"/>
<rect x="454.72" y="442.3" width="8.55" height="1" fill="#ed5c3d" fill-opacity="0.8"/>
<rect x="454.72" y="443.3" width="8.55" height="2.4" fill="#f9a663" fill-opacity="0.8"/>
<rect x="454.72" y="445.7" width="8.55" height="2.4" fill="#feac4e" fill-opacity="0.8"/>
<rect x="454.72" y="448.1" width="8.55" height="2.05" fill="#fe8f1c" fill-opacity="0.8"/>
<rect x="454.72" y="450.15" width="8.55" height="2.05" fill="#f4892b" fill-opacity="0.8"/>
<rect x="454.72" y="452.2" width="8.55" height="5" fill="#dda08b" fill-opacity="0.8"/>
<rect x="454.72" y="457.2" width="8.55" height="10" fill="#c0a6d0" fill-opacity="0.8"/>
<rect x="454.72" y="467.2" width="8.55" height="13.7" fill="#9572b5" fill-opacity="0.8"/>
<rect x="454.72" y="480.9" width="8.55" height="3" fill="#6a3d9a" fill-opacity="0.8"/>
<rect x="464.28" y="424.1" width="8.55" height="0.6" fill="#a6cee3" fill-opacity="0.8"/>
<rect x="464.28" y="424.7" width="8.55" height="1.1" fill="#69a7ce" fill-opacity="0.8"/>
<rect x="464.28" y="425.8" width="8.55" height="1.4" fill="#2c81b9" fill-opacity="0.8"/>
<rect x="464.28" y="427.2" width="8.55" height="2.5" fill="#529ca5" fill-opacity="0.8"/>
<rect x="464.28" y="429.7" width="8.55" height="3.85" fill="#95ca92" fill-opacity="0.8"/>
<rect x="464.28" y="433.55" width="8.55" height="0.85" fill="#92cf72" fill-opacity="0.8"/>
<rect x="464.28" y="434.4" width="8.55" height="1" fill="#59b348" fill-opacity="0.8"/>
<rect x="464.28" y="435.4" width="8.55" height="3.85" fill="#519f3c" fill-opacity="0.8"/>
<rect x="464.28" y="439.25" width="8.55" height="0.15" fill="#ab9c6d" fill-opacity="0.8"/>
<rect x="464.28" y="439.4" width="8.55" height="0.48" fill="#fa9493" fill-opacity="0.8"/>
<rect x="464.28" y="439.88" width="8.55" height="0.12" fill="#ef5a5a" fill-opacity="0.8"/>
<rect x="464.28" y="440" width="8.55" height="1.3" fill="#e42022" fill-opacity="0.8"/>
<rect x="464.28" y="441.3" width="8.55" height="1.3" fill="#ed5c3d" fill-opacity="0.8"/>
<rect x="464.28" y="442.6" width="8.55" height="2.6" fill="#f9a663" fill-opacity="0.8"/>
<rect x="464.28" y="445.2" width="8.55" height="2.6" fill="#feac4e" fill-opacity="0.8"/>
<rect x="464.28" y="447.8" width="8.55" height="2.2" fill="#fe8f1c" fill-opacity="0.8"/>
<rect x="464.28" y="450" width="8.55" height="2.2" fill="#f4892b" fill-opacity="0.8"/>
<rect x="464.28" y="452.2" width="8.55" height="5" fill="#dda08b" fill-opacity="0.8"/>
<rect x="464.28" y="457.2" width="8.55" height="10" fill="#c0a6d0" fill-opacity="0.8"/>
<rect x="464.28" y="467.2" width="8.55" height="13.7" fill="#9572b5" fill-opacity="0.8"/>
<rect x="464.28" y="480.9" width="8.55" height="3" fill="#6a3d9a" fill-opacity="0.8"/>
<rect x="473.85" y="418.3" width="8.55" height="0.7" fill="#a6cee3" fill-opacity="0.8"/>
<rect x="473.85" y="419" width="8.55" height="1.3" fill="#69a7ce" fill-opacity="0.8"/>
<rect x="473.85" y="420.3" width="8.55" height="1.7" fill="#2c81b9" fill-opacity="0.8"/>
<rect x="473.85" y="422" width="8.55" height="2.8" fill="#529ca5" fill-opacity="0.8"/>
<rect x="473.85" y="424.8" width="8.55" height="4.26" fill="#95ca92" fill-opacity="0.8"/>
<rect x="473.85" y="429.06" width="8.55" height="0.94" fill="#92cf72" fill-opacity="0.8"/>
<rect x="473.85" y="430" width="8.55" height="1.34" fill="#59b348" fill-opacity="0.8"/>
<rect x="473.85" y="431.34" width="8.55" height="5.16" fill="#519f3c" fill-opacity="0.8"/>
<rect x="473.85" y="436.5" width="8.55" height="0.2" fill="#ab9c6d" fill-opacity="0.8"/>
<rect x="473.85" y="436.7" width="8.55" height="0.56" fill="#fa9493" fill-opacity="0.8"/>
<rect x="473.85" y="437.26" width="8.55" height="0.14" fill="#ef5a5a" fill-opacity="0.8"/>
<rect x="473.85" y="437.4" width="8.55" height="1.3" fill="#e42022" fill-opacity="0.8"/>
<rect x="473.85" y="438.7" width="8.55" height="1.3" fill="#ed5c3d" fill-opacity="0.8"/>
<rect x="473.85" y="440" width="8.55" height="2.95" fill="#f9a663" fill-opacity="0.8"/>
<rect x="473.85" y="442.95" width="8.55" height="2.95" fill="#feac4e" fill-opacity="0.8"/>
<rect x="473.85" y="445.9" width="8.55" height="2.5" fill="#fe8f1c" fill-opacity="0.8"/>
<rect x="473.85" y="448.4" width="8.55" height="2.5" fill="#f4892b" fill-opacity="0.8"/>
<rect x="473.85" y="450.9" width="8.55" height="5.3" fill="#dda08b" fill-opacity="0.8"/>
<rect x="473.85" y="456.2" width="8.55" height="11" fill="#c0a6d0" fill-opacity="0.8"/>
<rect x="473.85" y="467.2" width="8.55" height="13.7" fill="#9572b5" fill-opacity="0.8"/>
<rect x="473.85" y="480.9" width="8.55" height="3" fill="#6a3d9a" fill-opacity="0.8"/>
<rect x="483.41" y="411.9" width="8.55" height="0.8" fill="#a6cee3" fill-opacity="0.8"/>
<rect x="483.41" y="412.7" width="8.55" height="1.3" fill="#69a7ce" fill-opacity="0.8"/>
<rect x="483.41" y="414" width="8.55" height="1.9" fill="#2c81b9" fill-opacity="0.8"/>
<rect x="483.41" y="415.9" width="8.55" height="4.1" fill="#529ca5" fill-opacity="0.8"/>
<rect x="483.41" y="420" width="8.55" height="5" fill="#95ca92" fill-opacity="0.8"/>
<rect x="483.41" y="425" width="8.55" height="1.1" fill="#92cf72" fill-opacity="0.8"/>
<rect x="483.41" y="426.1" width="8.55" height="1.56" fill="#59b348" fill-opacity="0.8"/>
<rect x="483.41" y="427.66" width="8.55" height="6.01" fill="#519f3c" fill-opacity="0.8"/>
<rect x="483.41" y="433.67" width="8.55" height="0.23" fill="#ab9c6d" fill-opacity="0.8"/>
<rect x="483.41" y="433.9" width="8.55" height="0.8" fill="#fa9493" fill-opacity="0.8"/>
<rect x="483.41" y="434.7" width="8.55" height="0.2" fill="#ef5a5a" fill-opacity="0.8"/>
<rect x="483.41" y="434.9" width="8.55" height="1.6" fill="#e42022" fill-opacity="0.8"/>
<rect x="483.41" y="436.5" width="8.55" height="1.6" fill="#ed5c3d" fill-opacity="0.8"/>
<rect x="483.41" y="438.1" width="8.55" height="2.9" fill="#f9a663" fill-opacity="0.8"/>
<rect x="483.41" y="441" width="8.55" height="2.9" fill="#feac4e" fill-opacity="0.8"/>
<rect x="483.41" y="443.9" width="8.55" height="3.05" fill="#fe8f1c" fill-opacity="0.8"/>
<rect x="483.41" y="446.95" width="8.55" height="3.05" fill="#f4892b" fill-opacity="0.8"/>
<rect x="483.41" y="450" width="8.55" height="5.3" fill="#dda08b" fill-opacity="0.8"/>
<rect x="483.41" y="455.3" width="8.55" height="11.9" fill="#c0a6d0" fill-opacity="0.8"/>
<rect x="483.41" y="467.2" width="8.55" height="14" fill="#9572b5" fill-opacity="0.8"/>
<rect x="483.41" y="481.2" width="8.55" height="2.7" fill="#6a3d9a" fill-opacity="0.8"/>
<rect x="492.97" y="405.9" width="8.55" height="1.3" fill="#a6cee3" fill-opacity="0.8"/>
<rect x="492.97" y="407.2" width="8.55" height="1.8" fill="#69a7ce" fill-opacity="0.8"/>
<rect x="492.97" y="409" width="8.55" height="2.1" fill="#2c81b9" fill-opacity="0.8"/>
<rect x="492.97" y="411.1" width="8.55" height="5" fill="#529ca5" fill-opacity="0.8"/>
<rect x="492.97" y="416.1" width="8.55" height="5.49" fill="#95ca92" fill-opacity="0.8"/>
<rect x="492.97" y="421.59" width="8.55" height="1.21" fill="#92cf72" fill-opacity="0.8"/>
<rect x="492.97" y="422.8" width="8.55" height="2" fill="#59b348" fill-opacity="0.8"/>
<rect x="492.97" y="424.8" width="8.55" height="7.7" fill="#519f3c" fill-opacity="0.8"/>
<rect x="492.97" y="432.5" width="8.55" height="0.3" fill="#ab9c6d" fill-opacity="0.8"/>
<rect x="492.97" y="432.8" width="8.55" height="0.96" fill="#fa9493" fill-opacity="0.8"/>
<rect x="492.97" y="433.76" width="8.55" height="0.24" fill="#ef5a5a" fill-opacity="0.8"/>
<rect x="492.97" y="434" width="8.55" height="1.9" fill="#e42022" fill-opacity="0.8"/>
<rect x="492.97" y="435.9" width="8.55" height="1.9" fill="#ed5c3d" fill-opacity="0.8"/>
<rect x="492.97" y="437.8" width="8.55" height="2.95" fill="#f9a663" fill-opacity="0.8"/>
<rect x="492.97" y="440.75" width="8.55" height="2.95" fill="#feac4e" fill-opacity="0.8"/>
<rect x="492.97" y="443.7" width="8.55" height="3.15" fill="#fe8f1c" fill-opacity="0.8"/>
<rect x="492.97" y="446.85" width="8.55" height="3.15" fill="#f4892b" fill-opacity="0.8"/>
<rect x="492.97" y="450" width="8.55" height="5.3" fill="#dda08b" fill-opacity="0.8"/>
<rect x="492.97" y="455.3" width="8.55" height="12.3" fill="#c0a6d0" fill-opacity="0.8"/>
<rect x="492.97" y="467.6" width="8.55" height="13.6" fill="#9572b5" fill-opacity="0.8"/>
<rect x="492.97" y="481.2" width="8.55" height="2.7" fill="#6a3d9a" fill-opacity="0.8"/>
<rect x="502.53" y="401.4" width="8.55" height="2.1" fill="#a6cee3" fill-opacity="0.8"/>
<rect x="502.53" y="403.5" width="8.55" height="2" fill="#69a7ce" fill-opacity="0.8"/>
<rect x="502.53" y="405.5" width="8.55" height="2.3" fill="#2c81b9" fill-opacity="0.8"/>
<rect x="502.53" y="407.8" width="8.55" height="6.3" fill="#529ca5" fill-opacity="0.8"/>
<rect x="502.53" y="414.1" width="8.55" height="5.9" fill="#95ca92" fill-opacity="0.8"/>
<rect x="502.53" y="420" width="8.55" height="1.3" fill="#92cf72" fill-opacity="0.8"/>
<rect x="502.53" y="421.3" width="8.55" height="2.12" fill="#59b348" fill-opacity="0.8"/>
<rect x="502.53" y="423.42" width="8.55" height="8.16" fill="#519f3c" fill-opacity="0.8"/>
<rect x="502.53" y="431.58" width="8.55" height="0.32" fill="#ab9c6d" fill-opacity="0.8"/>
<rect x="502.53" y="431.9" width="8.55" height="1.12" fill="#fa9493" fill-opacity="0.8"/>
<rect x="502.53" y="433.02" width="8.55" height="0.28" fill="#ef5a5a" fill-opacity="0.8"/>
<rect x="502.53" y="433.3" width="8.55" height="1.95" fill="#e42022" fill-opacity="0.8"/>
<rect x="502.53" y="435.25" width="8.55" height="1.95" fill="#ed5c3d" fill-opacity="0.8"/>
<rect x="502.53" y="437.2" width="8.55" height="3.25" fill="#f9a663" fill-opacity="0.8"/>
<rect x="502.53" y="440.45" width="8.55" height="3.25" fill="#feac4e" fill-opacity="0.8"/>
<rect x="502.53" y="443.7" width="8.55" height="3.15" fill="#fe8f1c" fill-opacity="0.8"/>
<rect x="502.53" y="446.85" width="8.55" height="3.15" fill="#f4892b" fill-opacity="0.8"/>
<rect x="502.53" y="450" width="8.55" height="5.3" fill="#dda08b" fill-opacity="0.8"/>
<rect x="502.53" y="455.3" width="8.55" height="12.4" fill="#c0a6d0" fill-opacity="0.8"/>
<rect x="502.53" y="467.7" width="8.55" height="13.8" fill="#9572b5" fill-opacity="0.8"/>
<rect x="502.53" y="481.5" width="8.55" height="2.4" fill="#6a3d9a" fill-opacity="0.8"/>
<rect x="512.09" y="387.8" width="8.55" height="2.8" fill="#a6cee3" fill-opacity="0.8"/>
<rect x="512.09" y="390.6" width="8.55" height="3.1" fill="#69a7ce" fill-opacity="0.8"/>
<rect x="512.09" y="393.7" width="8.55" height="3.7" fill="#2c81b9" fill-opacity="0.8"/>
<rect x="512.09" y="397.4" width="8.55" height="9.3" fill="#529ca5" fill-opacity="0.8"/>
<rect x="512.09" y="406.7" width="8.55" height="6.64" fill="#95ca92" fill-opacity="0.8"/>
<rect x="512.09" y="413.34" width="8.55" height="1.46" fill="#92cf72" fill-opacity="0.8"/>
<rect x="512.09" y="414.8" width="8.55" height="2.38" fill="#59b348" fill-opacity="0.8"/>
<rect x="512.09" y="417.18" width="8.55" height="9.16" fill="#519f3c" fill-opacity="0.8"/>
<rect x="512.09" y="426.34" width="8.55" height="0.36" fill="#ab9c6d" fill-opacity="0.8"/>
<rect x="512.09" y="426.7" width="8.55" height="2" fill="#fa9493" fill-opacity="0.8"/>
<rect x="512.09" y="428.7" width="8.55" height="0.5" fill="#ef5a5a" fill-opacity="0.8"/>
<rect x="512.09" y="429.2" width="8.55" height="1.9" fill="#e42022" fill-opacity="0.8"/>
<rect x="512.09" y="431.1" width="8.55" height="1.9" fill="#ed5c3d" fill-opacity="0.8"/>
<rect x="512.09" y="433" width="8.55" height="3.5" fill="#f9a663" fill-opacity="0.8"/>
<rect x="512.09" y="436.5" width="8.55" height="3.5" fill="#feac4e" fill-opacity="0.8"/>
<rect x="512.09" y="440" width="8.55" height="3.5" fill="#fe8f1c" fill-opacity="0.8"/>
<rect x="512.09" y="443.5" width="8.55" height="3.5" fill="#f4892b" fill-opacity="0.8"/>
<rect x="512.09" y="447" width="8.55" height="6.7" fill="#dda08b" fill-opacity="0.8"/>
<rect x="512.09" y="453.7" width="8.55" height="14.1" fill="#c0a6d0" fill-opacity="0.8"/>
<rect x="512.09" y="467.8" width="8.55" height="14.2" fill="#9572b5" fill-opacity="0.8"/>
<rect x="512.09" y="482" width="8.55" height="1.9" fill="#6a3d9a" fill-opacity="0.8"/>
<rect x="521.65" y="374.1" width="8.55" height="4" fill="#a6cee3" fill-opacity="0.8"/>
<rect x="521.65" y="378.1" width="8.55" height="4.1" fill="#69a7ce" fill-opacity="0.8"/>
<rect x="521.65" y="382.2" width="8.55" height="5.2" fill="#2c81b9" fill-opacity="0.8"/>
<rect x="521.65" y="387.4" width="8.55" height="13.5" fill="#529ca5" fill-opacity="0.8"/>
<rect x="521.65" y="400.9" width="8.55" height="6.89" fill="#95ca92" fill-opacity="0.8"/>
<rect x="521.65" y="407.79" width="8.55" height="1.51" fill="#92cf72" fill-opacity="0.8"/>
<rect x="521.65" y="409.3" width="8.55" height="2.78" fill="#59b348" fill-opacity="0.8"/>
<rect x="521.65" y="412.08" width="8.55" height="10.7" fill="#519f3c" fill-opacity="0.8"/>
<rect x="521.65" y="422.78" width="8.55" height="0.42" fill="#ab9c6d" fill-opacity="0.8"/>
<rect x="521.65" y="423.2" width="8.55" height="3.04" fill="#fa9493" fill-opacity="0.8"/>
<rect x="521.65" y="426.24" width="8.55" height="0.76" fill="#ef5a5a" fill-opacity="0.8"/>
<rect x="521.65" y="427" width="8.55" height="2.05" fill="#e42022" fill-opacity="0.8"/>
<rect x="521.65" y="429.05" width="8.55" height="2.05" fill="#ed5c3d" fill-opacity="0.8"/>
<rect x="521.65" y="431.1" width="8.55" height="3.6" fill="#f9a663" fill-opacity="0.8"/>
<rect x="521.65" y="434.7" width="8.55" height="3.6" fill="#feac4e" fill-opacity="0.8"/>
<rect x="521.65" y="438.3" width="8.55" height="3.9" fill="#fe8f1c" fill-opacity="0.8"/>
<rect x="521.65" y="442.2" width="8.55" height="3.9" fill="#f4892b" fill-opacity="0.8"/>
<rect x="521.65" y="446.1" width="8.55" height="6.7" fill="#dda08b" fill-opacity="0.8"/>
<rect x="521.65" y="452.8" width="8.55" height="15" fill="#c0a6d0" fill-opacity="0.8"/>
<rect x="521.65" y="467.8" width="8.55" height="14.2" fill="#9572b5" fill-opacity="0.8"/>
<rect x="521.65" y="482" width="8.55" height="1.9" fill="#6a3d9a" fill-opacity="0.8"/>
<rect x="531.22" y="368.1" width="8.55" height="3.9" fill="#a6cee3" fill-opacity="0.8"/>
<rect x="531.22" y="372" width="8.55" height="6.1" fill="#69a7ce" fill-opacity="0.8"/>
<rect x="531.22" y="378.1" width="8.55" height="5.8" fill="#2c81b9" fill-opacity="0.8"/>
<rect x="531.22" y="383.9" width="8.55" height="13.9" fill="#529ca5" fill-opacity="0.8"/>
<rect x="531.22" y="397.8" width="8.55" height="7.46" fill="#95ca92" fill-opacity="0.8"/>
<rect x="531.22" y="405.26" width="8.55" height="1.64" fill="#92cf72" fill-opacity="0.8"/>
<rect x="531.22" y="406.9" width="8.55" height="3.1" fill="#59b348" fill-opacity="0.8"/>
<rect x="531.22" y="410" width="8.55" height="11.94" fill="#519f3c" fill-opacity="0.8"/>
<rect x="531.22" y="421.94" width="8.55" height="0.46" fill="#ab9c6d" fill-opacity="0.8"/>
<rect x="531.22" y="422.4" width="8.55" height="3.44" fill="#fa9493" fill-opacity="0.8"/>
<rect x="531.22" y="425.84" width="8.55" height="0.86" fill="#ef5a5a" fill-opacity="0.8"/>
<rect x="531.22" y="426.7" width="8.55" height="2.05" fill="#e42022" fill-opacity="0.8"/>
<rect x="531.22" y="428.75" width="8.55" height="2.05" fill="#ed5c3d" fill-opacity="0.8"/>
<rect x="531.22" y="430.8" width="8.55" height="4" fill="#f9a663" fill-opacity="0.8"/>
<rect x="531.22" y="434.8" width="8.55" height="4" fill="#feac4e" fill-opacity="0.8"/>
<rect x="531.22" y="438.8" width="8.55" height="3.8" fill="#fe8f1c" fill-opacity="0.8"/>
<rect x="531.22" y="442.6" width="8.55" height="3.8" fill="#f4892b" fill-opacity="0.8"/>
<rect x="531.22" y="446.4" width="8.55" height="6.8" fill="#dda08b" fill-opacity="0.8"/>
<rect x="531.22" y="453.2" width="8.55" height="15.5" fill="#c0a6d0" fill-opacity="0.8"/>
<rect x="531.22" y="468.7" width="8.55" height="13.5" fill="#9572b5" fill-opacity="0.8"/>
<rect x="531.22" y="482.2" width="8.55" height="1.7" fill="#6a3d9a" fill-opacity="0.8"/>
<rect x="540.78" y="363.1" width="8.55" height="4.1" fill="#a6cee3" fill-opacity="0.8"/>
<rect x="540.78" y="367.2" width="8.55" height="7.6" fill="#69a7ce" fill-opacity="0.8"/>
<rect x="540.78" y="374.8" width="8.55" height="6.3" fill="#2c81b9" fill-opacity="0.8"/>
<rect x="540.78" y="381.1" width="8.55" height="15.9" fill="#529ca5" fill-opacity="0.8"/>
<rect x="540.78" y="397" width="8.55" height="7.71" fill="#95ca92" fill-opacity="0.8"/>
<rect x="540.78" y="404.71" width="8.55" height="1.69" fill="#92cf72" fill-opacity="0.8"/>
<rect x="540.78" y="406.4" width="8.55" height="3.36" fill="#59b348" fill-opacity="0.8"/>
<rect x="540.78" y="409.76" width="8.55" height="12.94" fill="#519f3c" fill-opacity="0.8"/>
<rect x="540.78" y="422.7" width="8.55" height="0.5" fill="#ab9c6d" fill-opacity="0.8"/>
<rect x="540.78" y="423.2" width="8.55" height="3.68" fill="#fa9493" fill-opacity="0.8"/>
<rect x="540.78" y="426.88" width="8.55" height="0.92" fill="#ef5a5a" fill-opacity="0.8"/>
<rect x="540.78" y="427.8" width="8.55" height="2.2" fill="#e42022" fill-opacity="0.8"/>
<rect x="540.78" y="430" width="8.55" height="2.2" fill="#ed5c3d" fill-opacity="0.8"/>
<rect x="540.78" y="432.2" width="8.55" height="4.3" fill="#f9a663" fill-opacity="0.8"/>
<rect x="540.78" y="436.5" width="8.55" height="4.3" fill="#feac4e" fill-opacity="0.8"/>
<rect x="540.78" y="440.8" width="8.55" height="4.05" fill="#fe8f1c" fill-opacity="0.8"/>
<rect x="540.78" y="444.85" width="8.55" height="4.05" fill="#f4892b" fill-opacity="0.8"/>
<rect x="540.78" y="448.9" width="8.55" height="6.1" fill="#dda08b" fill-opacity="0.8"/>
<rect x="540.78" y="455" width="8.55" height="14.4" fill="#c0a6d0" fill-opacity="0.8"/>
<rect x="540.78" y="469.4" width="8.55" height="12.8" fill="#9572b5" fill-opacity="0.8"/>
<rect x="540.78" y="482.2" width="8.55" height="1.7" fill="#6a3d9a" fill-opacity="0.8"/>
<rect x="550.34" y="356.1" width="8.55" height="4.5" fill="#a6cee3" fill-opacity="0.8"/>
<rect x="550.34" y="360.6" width="8.55" height="8" fill="#69a7ce" fill-opacity="0.8"/>
<rect x="550.34" y="368.6" width="8.55" height="8.8" fill="#2c81b9" fill-opacity="0.8"/>
<rect x="550.34" y="377.4" width="8.55" height="18.2" fill="#529ca5" fill-opacity="0.8"/>
<rect x="550.34" y="395.6" width="8.55" height="8.2" fill="#95ca92" fill-opacity="0.8"/>
<rect x="550.34" y="403.8" width="8.55" height="1.8" fill="#92cf72" fill-opacity="0.8"/>
<rect x="550.34" y="405.6" width="8.55" height="3.42" fill="#59b348" fill-opacity="0.8"/>
<rect x="550.34" y="409.02" width="8.55" height="13.17" fill="#519f3c" fill-opacity="0.8"/>
<rect x="550.34" y="422.19" width="8.55" height="0.51" fill="#ab9c6d" fill-opacity="0.8"/>
<rect x="550.34" y="422.7" width="8.55" height="3.76" fill="#fa9493" fill-opacity="0.8"/>
<rect x="550.34" y="426.46" width="8.55" height="0.94" fill="#ef5a5a" fill-opacity="0.8"/>
<rect x="550.34" y="427.4" width="8.55" height="2.4" fill="#e42022" fill-opacity="0.8"/>
<rect x="550.34" y="429.8" width="8.55" height="2.4" fill="#ed5c3d" fill-opacity="0.8"/>
<rect x="550.34" y="432.2" width="8.55" height="4.3" fill="#f9a663" fill-opacity="0.8"/>
<rect x="550.34" y="436.5" width="8.55" height="4.3" fill="#feac4e" fill-opacity="0.8"/>
<rect x="550.34" y="440.8" width="8.55" height="4.1" fill="#fe8f1c" fill-opacity="0.8"/>
<rect x="550.34" y="444.9" width="8.55" height="4.1" fill="#f4892b" fill-opacity="0.8"/>
<rect x="550.34" y="449" width="8.55" height="6.6" fill="#dda08b" fill-opacity="0.8"/>
<rect x="550.34" y="455.6" width="8.55" height="14.6" fill="#c0a6d0" fill-opacity="0.8"/>
<rect x="550.34" y="470.2" width="8.55" height="12.2" fill="#9572b5" fill-opacity="0.8"/>
<rect x="550.34" y="482.4" width="8.55" height="1.5" fill="#6a3d9a" fill-opacity="0.8"/>
<rect x="559.9" y="354.1" width="8.55" height="4.2" fill="#a6cee3" fill-opacity="0.8"/>
<rect x="559.9" y="358.3" width="8.55" height="8.4" fill="#69a7ce" fill-opacity="0.8"/>
<rect x="559.9" y="366.7" width="8.55" height="9.4" fill="#2c81b9" fill-opacity="0.8"/>
<rect x="559.9" y="376.1" width="8.55" height="18.3" fill="#529ca5" fill-opacity="0.8"/>
<rect x="559.9" y="394.4" width="8.55" height="8.2" fill="#95ca92" fill-opacity="0.8"/>
<rect x="559.9" y="402.6" width="8.55" height="1.8" fill="#92cf72" fill-opacity="0.8"/>
<rect x="559.9" y="404.4" width="8.55" height="3.46" fill="#59b348" fill-opacity="0.8"/>
<rect x="559.9" y="407.86" width="8.55" height="13.32" fill="#519f3c" fill-opacity="0.8"/>
<rect x="559.9" y="421.18" width="8.55" height="0.52" fill="#ab9c6d" fill-opacity="0.8"/>
<rect x="559.9" y="421.7" width="8.55" height="4.24" fill="#fa9493" fill-opacity="0.8"/>
<rect x="559.9" y="425.94" width="8.55" height="1.06" fill="#ef5a5a" fill-opacity="0.8"/>
<rect x="559.9" y="427" width="8.55" height="2.6" fill="#e42022" fill-opacity="0.8"/>
<rect x="559.9" y="429.6" width="8.55" height="2.6" fill="#ed5c3d" fill-opacity="0.8"/>
<rect x="559.9" y="432.2" width="8.55" height="4.3" fill="#f9a663" fill-opacity="0.8"/>
<rect x="559.9" y="436.5" width="8.55" height="4.3" fill="#feac4e" fill-opacity="0.8"/>
<rect x="559.9" y="440.8" width="8.55" height="4" fill="#fe8f1c" fill-opacity="0.8"/>
<rect x="559.9" y="444.8" width="8.55" height="4" fill="#f4892b" fill-opacity="0.8"/>
<rect x="559.9" y="448.8" width="8.55" height="6.5" fill="#dda08b" fill-opacity="0.8"/>
<rect x="559.9" y="455.3" width="8.55" height="14.9" fill="#c0a6d0" fill-opacity="0.8"/>
<rect x="559.9" y="470.2" width="8.55" height="12.2" fill="#9572b5" fill-opacity="0.8"/>
<rect x="559.9" y="482.4" width="8.55" height="1.5" fill="#6a3d9a" fill-opacity="0.8"/>
<rect x="569.47" y="360" width="8.55" height="4.4" fill="#a6cee3" fill-opacity="0.8"/>
<rect x="569.47" y="364.4" width="8.55" height="8.2" fill="#69a7ce" fill-opacity="0.8"/>
<rect x="569.47" y="372.6" width="8.55" height="9.3" fill="#2c81b9" fill-opacity="0.8"/>
<rect x="569.47" y="381.9" width="8.55" height="18.1" fill="#529ca5" fill-opacity="0.8"/>
<rect x="569.47" y="400" width="8.55" height="8.2" fill="#95ca92" fill-opacity="0.8"/>
<rect x="569.47" y="408.2" width="8.55" height="1.8" fill="#92cf72" fill-opacity="0.8"/>
<rect x="569.47" y="410" width="8.55" height="3.26" fill="#59b348" fill-opacity="0.8"/>
<rect x="569.47" y="413.26" width="8.55" height="12.55" fill="#519f3c" fill-opacity="0.8"/>
<rect x="569.47" y="425.81" width="8.55" height="0.49" fill="#ab9c6d" fill-opacity="0.8"/>
<rect x="569.47" y="426.3" width="8.55" height="4.56" fill="#fa9493" fill-opacity="0.8"/>
<rect x="569.47" y="430.86" width="8.55" height="1.14" fill="#ef5a5a" fill-opacity="0.8"/>
<rect x="569.47" y="432" width="8.55" height="2.35" fill="#e42022" fill-opacity="0.8"/>
<rect x="569.47" y="434.35" width="8.55" height="2.35" fill="#ed5c3d" fill-opacity="0.8"/>
<rect x="569.47" y="436.7" width="8.55" height="4.15" fill="#f9a663" fill-opacity="0.8"/>
<rect x="569.47" y="440.85" width="8.55" height="4.15" fill="#feac4e" fill-opacity="0.8"/>
<rect x="569.47" y="445" width="8.55" height="3.55" fill="#fe8f1c" fill-opacity="0.8"/>
<rect x="569.47" y="448.55" width="8.55" height="3.55" fill="#f4892b" fill-opacity="0.8"/>
<rect x="569.47" y="452.1" width="8.55" height="5.9" fill="#dda08b" fill-opacity="0.8"/>
<rect x="569.47" y="458" width="8.55" height="13.3" fill="#c0a6d0" fill-opacity="0.8"/>
<rect x="569.47" y="471.3" width="8.55" height="11.5" fill="#9572b5" fill-opacity="0.8"/>
<rect x="569.47" y="482.8" width="8.55" height="1.1" fill="#6a3d9a" fill-opacity="0.8"/>
<rect x="579.03" y="363" width="8.55" height="4" fill="#a6cee3" fill-opacity="0.8"/>
<rect x="579.03" y="367" width="8.55" height="8.2" fill="#69a7ce" fill-opacity="0.8"/>
<rect x="579.03" y="375.2" width="8.55" height="8.9" fill="#2c81b9" fill-opacity="0.8"/>
<rect x="579.03" y="384.1" width="8.55" height="18.7" fill="#529ca5" fill-opacity="0.8"/>
<rect x="579.03" y="402.8" width="8.55" height="8.2" fill="#95ca92" fill-opacity="0.8"/>
<rect x="579.03" y="411" width="8.55" height="1.8" fill="#92cf72" fill-opacity="0.8"/>
<rect x="579.03" y="412.8" width="8.55" height="3.16" fill="#59b348" fill-opacity="0.8"/>
<rect x="579.03" y="415.96" width="8.55" height="12.17" fill="#519f3c" fill-opacity="0.8"/>
<rect x="579.03" y="428.13" width="8.55" height="0.47" fill="#ab9c6d" fill-opacity="0.8"/>
<rect x="579.03" y="428.6" width="8.55" height="4.24" fill="#fa9493" fill-opacity="0.8"/>
<rect x="579.03" y="432.84" width="8.55" height="1.06" fill="#ef5a5a" fill-opacity="0.8"/>
<rect x="579.03" y="433.9" width="8.55" height="2.2" fill="#e42022" fill-opacity="0.8"/>
<rect x="579.03" y="436.1" width="8.55" height="2.2" fill="#ed5c3d" fill-opacity="0.8"/>
<rect x="579.03" y="438.3" width="8.55" height="4" fill="#f9a663" fill-opacity="0.8"/>
<rect x="579.03" y="442.3" width="8.55" height="4" fill="#feac4e" fill-opacity="0.8"/>
<rect x="579.03" y="446.3" width="8.55" height="3.35" fill="#fe8f1c" fill-opacity="0.8"/>
<rect x="579.03" y="449.65" width="8.55" height="3.35" fill="#f4892b" fill-opacity="0.8"/>
<rect x="579.03" y="453" width="8.55" height="6.1" fill="#dda08b" fill-opacity="0.8"/>
<rect x="579.03" y="459.1" width="8.55" height="12.9" fill="#c0a6d0" fill-opacity="0.8"/>
<rect x="579.03" y="472" width="8.55" height="10.8" fill="#9572b5" fill-opacity="0.8"/>
<rect x="579.03" y="482.8" width="8.55" height="1.1" fill="#6a3d9a" fill-opacity="0.8"/>
<rect x="588.59" y="364.4" width="8.55" height="4.5" fill="#a6cee3" fill-opacity="0.8"/>
<rect x="588.59" y="368.9" width="8.55" height="8.1" fill="#69a7ce" fill-opacity="0.8"/>
<rect x="588.59" y="377" width="8.55" height="9.1" fill="#2c81b9" fill-opacity="0.8"/>
<rect x="588.59" y="386.1" width="8.55" height="18.3" fill="#529ca5" fill-opacity="0.8"/>
<rect x="588.59" y="404.4" width="8.55" height="8.2" fill="#95ca92" fill-opacity="0.8"/>
<rect x="588.59" y="412.6" width="8.55" height="1.8" fill="#92cf72" fill-opacity="0.8"/>
<rect x="588.59" y="414.4" width="8.55" height="3.12" fill="#59b348" fill-opacity="0.8"/>
<rect x="588.59" y="417.52" width="8.55" height="12.01" fill="#519f3c" fill-opacity="0.8"/>
<rect x="588.59" y="429.53" width="8.55" height="0.47" fill="#ab9c6d" fill-opacity="0.8"/>
<rect x="588.59" y="430" width="8.55" height="4.16" fill="#fa9493" fill-opacity="0.8"/>
<rect x="588.59" y="434.16" width="8.55" height="1.04" fill="#ef5a5a" fill-opacity="0.8"/>
<rect x="588.59" y="435.2" width="8.55" height="2.4" fill="#e42022" fill-opacity="0.8"/>
<rect x="588.59" y="437.6" width="8.55" height="2.4" fill="#ed5c3d" fill-opacity="0.8"/>
<rect x="588.59" y="440" width="8.55" height="3.6" fill="#f9a663" fill-opacity="0.8"/>
<rect x="588.59" y="443.6" width="8.55" height="3.6" fill="#feac4e" fill-opacity="0.8"/>
<rect x="588.59" y="447.2" width="8.55" height="3.35" fill="#fe8f1c" fill-opacity="0.8"/>
<rect x="588.59" y="450.55" width="8.55" height="3.35" fill="#f4892b" fill-opacity="0.8"/>
<rect x="588.59" y="453.9" width="8.55" height="5.9" fill="#dda08b" fill-opacity="0.8"/>
<rect x="588.59" y="459.8" width="8.55" height="12.4" fill="#c0a6d0" fill-opacity="0.8"/>
<rect x="588.59" y="472.2" width="8.55" height="10.8" fill="#9572b5" fill-opacity="0.8"/>
<rect x="588.59" y="483" width="8.55" height="0.9" fill="#6a3d9a" fill-opacity="0.8"/>
<rect x="598.15" y="365.2" width="8.55" height="4.5" fill="#a6cee3" fill-opacity="0.8"/>
<rect x="598.15" y="369.7" width="8.55" height="8.1" fill="#69a7ce" fill-opacity="0.8"/>
<rect x="598.15" y="377.8" width="8.55" height="9.2" fill="#2c81b9" fill-opacity="0.8"/>
<rect x="598.15" y="387" width="8.55" height="18.4" fill="#529ca5" fill-opacity="0.8"/>
<rect x="598.15" y="405.4" width="8.55" height="8.04" fill="#95ca92" fill-opacity="0.8"/>
<rect x="598.15" y="413.44" width="8.55" height="1.76" fill="#92cf72" fill-opacity="0.8"/>
<rect x="598.15" y="415.2" width="8.55" height="3.08" fill="#59b348" fill-opacity="0.8"/>
<rect x="598.15" y="418.28" width="8.55" height="11.86" fill="#519f3c" fill-opacity="0.8"/>
<rect x="598.15" y="430.14" width="8.55" height="0.46" fill="#ab9c6d" fill-opacity="0.8"/>
<rect x="598.15" y="430.6" width="8.55" height="4.24" fill="#fa9493" fill-opacity="0.8"/>
<rect x="598.15" y="434.84" width="8.55" height="1.06" fill="#ef5a5a" fill-opacity="0.8"/>
<rect x="598.15" y="435.9" width="8.55" height="2.35" fill="#e42022" fill-opacity="0.8"/>
<rect x="598.15" y="438.25" width="8.55" height="2.35" fill="#ed5c3d" fill-opacity="0.8"/>
<rect x="598.15" y="440.6" width="8.55" height="3.4" fill="#f9a663" fill-opacity="0.8"/>
<rect x="598.15" y="444" width="8.55" height="3.4" fill="#feac4e" fill-opacity="0.8"/>
<rect x="598.15" y="447.4" width="8.55" height="3.4" fill="#fe8f1c" fill-opacity="0.8"/>
<rect x="598.15" y="450.8" width="8.55" height="3.4" fill="#f4892b" fill-opacity="0.8"/>
<rect x="598.15" y="454.2" width="8.55" height="5.8" fill="#dda08b" fill-opacity="0.8"/>
<rect x="598.15" y="460" width="8.55" height="12.2" fill="#c0a6d0" fill-opacity="0.8"/>
<rect x="598.15" y="472.2" width="8.55" height="10.8" fill="#9572b5" fill-opacity="0.8"/>
<rect x="598.15" y="483" width="8.55" height="0.9" fill="#6a3d9a" fill-opacity="0.8"/>
<rect x="607.71" y="366.3" width="8.55" height="4.5" fill="#a6cee3" fill-opacity="0.8"/>
<rect x="607.71" y="370.8" width="8.55" height="8.1" fill="#69a7ce" fill-opacity="0.8"/>
<rect x="607.71" y="378.9" width="8.55" height="8.9" fill="#2c81b9" fill-opacity="0.8"/>
<rect x="607.71" y="387.8" width="8.55" height="18.1" fill="#529ca5" fill-opacity="0.8"/>
<rect x="607.71" y="405.9" width="8.55" height="8.2" fill="#95ca92" fill-opacity="0.8"/>
<rect x="607.71" y="414.1" width="8.55" height="1.8" fill="#92cf72" fill-opacity="0.8"/>
<rect x="607.71" y="415.9" width="8.55" height="3.04" fill="#59b348" fill-opacity="0.8"/>
<rect x="607.71" y="418.94" width="8.55" height="11.7" fill="#519f3c" fill-opacity="0.8"/>
<rect x="607.71" y="430.64" width="8.55" height="0.46" fill="#ab9c6d" fill-opacity="0.8"/>
<rect x="607.71" y="431.1" width="8.55" height="4" fill="#fa9493" fill-opacity="0.8"/>
<rect x="607.71" y="435.1" width="8.55" height="1" fill="#ef5a5a" fill-opacity="0.8"/>
<rect x="607.71" y="436.1" width="8.55" height="2.35" fill="#e42022" fill-opacity="0.8"/>
<rect x="607.71" y="438.45" width="8.55" height="2.35" fill="#ed5c3d" fill-opacity="0.8"/>
<rect x="607.71" y="440.8" width="8.55" height="3.65" fill="#f9a663" fill-opacity="0.8"/>
<rect x="607.71" y="444.45" width="8.55" height="3.65" fill="#feac4e" fill-opacity="0.8"/>
<rect x="607.71" y="448.1" width="8.55" height="3.15" fill="#fe8f1c" fill-opacity="0.8"/>
<rect x="607.71" y="451.25" width="8.55" height="3.15" fill="#f4892b" fill-opacity="0.8"/>
<rect x="607.71" y="454.4" width="8.55" height="5.8" fill="#dda08b" fill-opacity="0.8"/>
<rect x="607.71" y="460.2" width="8.55" height="12" fill="#c0a6d0" fill-opacity="0.8"/>
<rect x="607.71" y="472.2" width="8.55" height="10.8" fill="#9572b5" fill-opacity="0.8"/>
<rect x="607.71" y="483" width="8.55" height="0.9" fill="#6a3d9a" fill-opacity="0.8"/>
<rect x="617.27" y="377.2" width="8.55" height="4.5" fill="#a6cee3" fill-opacity="0.8"/>
<rect x="617.27" y="381.7" width="8.55" height="7.2" fill="#69a7ce" fill-opacity="0.8"/>
<rect x="617.27" y="388.9" width="8.55" height="8.9" fill="#2c81b9" fill-opacity="0.8"/>
<rect x="617.27" y="397.8" width="8.55" height="17.4" fill="#529ca5" fill-opacity="0.8"/>
<rect x="617.27" y="415.2" width="8.55" height="8.04" fill="#95ca92" fill-opacity="0.8"/>
<rect x="617.27" y="423.24" width="8.55" height="1.76" fill="#92cf72" fill-opacity="0.8"/>
<rect x="617.27" y="425" width="8.55" height="2.34" fill="#59b348" fill-opacity="0.8"/>
<rect x="617.27" y="427.34" width="8.55" height="9.01" fill="#519f3c" fill-opacity="0.8"/>
<rect x="617.27" y="436.35" width="8.55" height="0.35" fill="#ab9c6d" fill-opacity="0.8"/>
<rect x="617.27" y="436.7" width="8.55" height="3.12" fill="#fa9493" fill-opacity="0.8"/>
<rect x="617.27" y="439.82" width="8.55" height="0.78" fill="#ef5a5a" fill-opacity="0.8"/>
<rect x="617.27" y="440.6" width="8.55" height="2" fill="#e42022" fill-opacity="0.8"/>
<rect x="617.27" y="442.6" width="8.55" height="2" fill="#ed5c3d" fill-opacity="0.8"/>
<rect x="617.27" y="444.6" width="8.55" height="3.6" fill="#f9a663" fill-opacity="0.8"/>
<rect x="617.27" y="448.2" width="8.55" height="3.6" fill="#feac4e" fill-opacity="0.8"/>
<rect x="617.27" y="451.8" width="8.55" height="2.7" fill="#fe8f1c" fill-opacity="0.8"/>
<rect x="617.27" y="454.5" width="8.55" height="2.7" fill="#f4892b" fill-opacity="0.8"/>
<rect x="617.27" y="457.2" width="8.55" height="4.1" fill="#dda08b" fill-opacity="0.8"/>
<rect x="617.27" y="461.3" width="8.55" height="11.5" fill="#c0a6d0" fill-opacity="0.8"/>
<rect x="617.27" y="472.8" width="8.55" height="10.3" fill="#9572b5" fill-opacity="0.8"/>
<rect x="617.27" y="483.1" width="8.55" height="0.8" fill="#6a3d9a" fill-opacity="0.8"/>
<rect x="376" y="337.3" width="261.4" height="10.3" fill="#d9d9d9" stroke="#4d4d4d" stroke-width="0.9"/>
<text x="506.7" y="344.84" font-size="5.4" fill="#262626" text-anchor="middle">XS_2.fq.gz</text>
<rect x="376" y="347.6" width="261.4" height="142.8" fill="none" stroke="#4d4d4d" stroke-width="0.9"/>
<line x1="382.5" y1="490.4" x2="382.5" y2="492" stroke="#444" stroke-width="0.6"/>
<text x="382.5" y="497.6" font-size="5.3" fill="#555" text-anchor="middle">0</text>
<line x1="442.26" y1="490.4" x2="442.26" y2="492" stroke="#444" stroke-width="0.6"/>
<text x="442.26" y="497.6" font-size="5.3" fill="#555" text-anchor="middle">25</text>
<line x1="502.02" y1="490.4" x2="502.02" y2="492" stroke="#444" stroke-width="0.6"/>
<text x="502.02" y="497.6" font-size="5.3" fill="#555" text-anchor="middle">50</text>
<line x1="561.79" y1="490.4" x2="561.79" y2="492" stroke="#444" stroke-width="0.6"/>
<text x="561.79" y="497.6" font-size="5.3" fill="#555" text-anchor="middle">75</text>
<line x1="621.55" y1="490.4" x2="621.55" y2="492" stroke="#444" stroke-width="0.6"/>
<text x="621.55" y="497.6" font-size="5.3" fill="#555" text-anchor="middle">100</text>
<text x="647.8" y="361.9" font-size="6.8" fill="#000" text-anchor="start" stroke="#000" stroke-width="0.12">Isotype</text>
<rect x="648.1" y="366.25" width="9.8" height="9.5" fill="#a6cee3" fill-opacity="0.8"/>
<text x="661.9" y="372.94" font-size="5.4" fill="#000" text-anchor="start" stroke="#000" stroke-width="0.1">Asn</text>
<rect x="648.1" y="376.85" width="9.8" height="9.5" fill="#69a7ce" fill-opacity="0.8"/>
<text x="661.9" y="383.54" font-size="5.4" fill="#000" text-anchor="start" stroke="#000" stroke-width="0.1">Ile</text>
<rect x="648.1" y="387.45" width="9.8" height="9.5" fill="#2c81b9" fill-opacity="0.8"/>
<text x="661.9" y="394.14" font-size="5.4" fill="#000" text-anchor="start" stroke="#000" stroke-width="0.1">Asp</text>
<rect x="648.1" y="398.05" width="9.8" height="9.5" fill="#529ca5" fill-opacity="0.8"/>
<text x="661.9" y="404.74" font-size="5.4" fill="#000" text-anchor="start" stroke="#000" stroke-width="0.1">Arg</text>
<rect x="648.1" y="408.65" width="9.8" height="9.5" fill="#95ca92" fill-opacity="0.8"/>
<text x="661.9" y="415.34" font-size="5.4" fill="#000" text-anchor="start" stroke="#000" stroke-width="0.1">Glu</text>
<rect x="648.1" y="419.25" width="9.8" height="9.5" fill="#92cf72" fill-opacity="0.8"/>
<text x="661.9" y="425.94" font-size="5.4" fill="#000" text-anchor="start" stroke="#000" stroke-width="0.1">Phe</text>
<rect x="648.1" y="429.85" width="9.8" height="9.5" fill="#59b348" fill-opacity="0.8"/>
<text x="661.9" y="436.54" font-size="5.4" fill="#000" text-anchor="start" stroke="#000" stroke-width="0.1">Thr</text>
<rect x="648.1" y="440.45" width="9.8" height="9.5" fill="#519f3c" fill-opacity="0.8"/>
<text x="661.9" y="447.14" font-size="5.4" fill="#000" text-anchor="start" stroke="#000" stroke-width="0.1">Leu</text>
<rect x="648.1" y="451.05" width="9.8" height="9.5" fill="#ab9c6d" fill-opacity="0.8"/>
<text x="661.9" y="457.74" font-size="5.4" fill="#000" text-anchor="start" stroke="#000" stroke-width="0.1">Gln</text>
<rect x="648.1" y="461.65" width="9.8" height="9.5" fill="#fa9493" fill-opacity="0.8"/>
<text x="661.9" y="468.34" font-size="5.4" fill="#000" text-anchor="start" stroke="#000" stroke-width="0.1">Met</text>
<rect x="648.1" y="472.25" width="9.8" height="9.5" fill="#ef5a5a" fill-opacity="0.8"/>
<text x="661.9" y="478.94" font-size="5.4" fill="#000" text-anchor="start" stroke="#000" stroke-width="0.1">SeC</text>
<rect x="676.2" y="366.25" width="9.8" height="9.5" fill="#e42022" fill-opacity="0.8"/>
<text x="690" y="372.94" font-size="5.4" fill="#000" text-anchor="start" stroke="#000" stroke-width="0.1">Ser</text>
<rect x="676.2" y="376.85" width="9.8" height="9.5" fill="#ed5c3d" fill-opacity="0.8"/>
<text x="690" y="383.54" font-size="5.4" fill="#000" text-anchor="start" stroke="#000" stroke-width="0.1">His</text>
<rect x="676.2" y="387.45" width="9.8" height="9.5" fill="#f9a663" fill-opacity="0.8"/>
<text x="690" y="394.14" font-size="5.4" fill="#000" text-anchor="start" stroke="#000" stroke-width="0.1">Tyr</text>
<rect x="676.2" y="398.05" width="9.8" height="9.5" fill="#feac4e" fill-opacity="0.8"/>
<text x="690" y="404.74" font-size="5.4" fill="#000" text-anchor="start" stroke="#000" stroke-width="0.1">iMet</text>
<rect x="676.2" y="408.65" width="9.8" height="9.5" fill="#fe8f1c" fill-opacity="0.8"/>
<text x="690" y="415.34" font-size="5.4" fill="#000" text-anchor="start" stroke="#000" stroke-width="0.1">Ala</text>
<rect x="676.2" y="419.25" width="9.8" height="9.5" fill="#f4892b" fill-opacity="0.8"/>
<text x="690" y="425.94" font-size="5.4" fill="#000" text-anchor="start" stroke="#000" stroke-width="0.1">Trp</text>
<rect x="676.2" y="429.85" width="9.8" height="9.5" fill="#dda08b" fill-opacity="0.8"/>
<text x="690" y="436.54" font-size="5.4" fill="#000" text-anchor="start" stroke="#000" stroke-width="0.1">Gly</text>
<rect x="676.2" y="440.45" width="9.8" height="9.5" fill="#c0a6d0" fill-opacity="0.8"/>
<text x="690" y="447.14" font-size="5.4" fill="#000" text-anchor="start" stroke="#000" stroke-width="0.1">Val</text>
<rect x="676.2" y="451.05" width="9.8" height="9.5" fill="#9572b5" fill-opacity="0.8"/>
<text x="690" y="457.74" font-size="5.4" fill="#000" text-anchor="start" stroke="#000" stroke-width="0.1">Lys</text>
<rect x="676.2" y="461.65" width="9.8" height="9.5" fill="#6a3d9a" fill-opacity="0.8"/>
<text x="690" y="468.34" font-size="5.4" fill="#000" text-anchor="start" stroke="#000" stroke-width="0.1">Pro</text>
<rect x="729.7" y="348.3" width="262.5" height="143.7" fill="#ffffff"/>
<line x1="766.23" y1="348.3" x2="766.23" y2="492" stroke="#f1f1f1" stroke-width="0.4"/>
<line x1="826.28" y1="348.3" x2="826.28" y2="492" stroke="#f1f1f1" stroke-width="0.4"/>
<line x1="886.33" y1="348.3" x2="886.33" y2="492" stroke="#f1f1f1" stroke-width="0.4"/>
<line x1="946.38" y1="348.3" x2="946.38" y2="492" stroke="#f1f1f1" stroke-width="0.4"/>
<line x1="729.7" y1="472" x2="992.2" y2="472" stroke="#f1f1f1" stroke-width="0.4"/>
<line x1="729.7" y1="444.6" x2="992.2" y2="444.6" stroke="#f1f1f1" stroke-width="0.4"/>
<line x1="729.7" y1="417.2" x2="992.2" y2="417.2" stroke="#f1f1f1" stroke-width="0.4"/>
<line x1="729.7" y1="389.8" x2="992.2" y2="389.8" stroke="#f1f1f1" stroke-width="0.4"/>
<line x1="729.7" y1="362.4" x2="992.2" y2="362.4" stroke="#f1f1f1" stroke-width="0.4"/>
<line x1="736.2" y1="348.3" x2="736.2" y2="492" stroke="#e9e9e9" stroke-width="0.7"/>
<line x1="796.25" y1="348.3" x2="796.25" y2="492" stroke="#e9e9e9" stroke-width="0.7"/>
<line x1="856.3" y1="348.3" x2="856.3" y2="492" stroke="#e9e9e9" stroke-width="0.7"/>
<line x1="916.35" y1="348.3" x2="916.35" y2="492" stroke="#e9e9e9" stroke-width="0.7"/>
<line x1="976.4" y1="348.3" x2="976.4" y2="492" stroke="#e9e9e9" stroke-width="0.7"/>
<line x1="729.7" y1="485.7" x2="992.2" y2="485.7" stroke="#e9e9e9" stroke-width="0.7"/>
<line x1="729.7" y1="458.3" x2="992.2" y2="458.3" stroke="#e9e9e9" stroke-width="0.7"/>
<line x1="729.7" y1="430.9" x2="992.2" y2="430.9" stroke="#e9e9e9" stroke-width="0.7"/>
<line x1="729.7" y1="403.5" x2="992.2" y2="403.5" stroke="#e9e9e9" stroke-width="0.7"/>
<line x1="729.7" y1="376.1" x2="992.2" y2="376.1" stroke="#e9e9e9" stroke-width="0.7"/>
<line x1="729.7" y1="348.7" x2="992.2" y2="348.7" stroke="#e9e9e9" stroke-width="0.7"/>
<rect x="741.51" y="461.5" width="8.6" height="0.3" fill="#47aa3b" fill-opacity="0.8"/>
<rect x="741.51" y="461.8" width="8.6" height="0.29" fill="#729e4e" fill-opacity="0.8"/>
<rect x="741.51" y="462.09" width="8.6" height="0.01" fill="#d19b82" fill-opacity="0.8"/>
<rect x="741.51" y="462.1" width="8.6" height="0.25" fill="#e93c3d" fill-opacity="0.8"/>
<rect x="741.51" y="462.35" width="8.6" height="0.25" fill="#e83d2d" fill-opacity="0.8"/>
<rect x="741.51" y="462.6" width="8.6" height="1.4" fill="#fdb55d" fill-opacity="0.8"/>
<rect x="741.51" y="464" width="8.6" height="4.1" fill="#fe9729" fill-opacity="0.8"/>
<rect x="741.51" y="468.1" width="8.6" height="2.3" fill="#f98417" fill-opacity="0.8"/>
<rect x="741.51" y="470.4" width="8.6" height="1.3" fill="#e09d7c" fill-opacity="0.8"/>
<rect x="741.51" y="471.7" width="8.6" height="11.2" fill="#c5acd3" fill-opacity="0.8"/>
<rect x="741.51" y="482.9" width="8.6" height="2.43" fill="#9774b6" fill-opacity="0.8"/>
<rect x="741.51" y="485.33" width="8.6" height="0.27" fill="#6a3d9a" fill-opacity="0.8"/>
<rect x="751.12" y="458.3" width="8.6" height="0.3" fill="#47aa3b" fill-opacity="0.8"/>
<rect x="751.12" y="458.6" width="8.6" height="0.29" fill="#729e4e" fill-opacity="0.8"/>
<rect x="751.12" y="458.89" width="8.6" height="0.01" fill="#d19b82" fill-opacity="0.8"/>
<rect x="751.12" y="458.9" width="8.6" height="0.25" fill="#e93c3d" fill-opacity="0.8"/>
<rect x="751.12" y="459.15" width="8.6" height="0.25" fill="#e83d2d" fill-opacity="0.8"/>
<rect x="751.12" y="459.4" width="8.6" height="3" fill="#fdb55d" fill-opacity="0.8"/>
<rect x="751.12" y="462.4" width="8.6" height="3.71" fill="#fe9729" fill-opacity="0.8"/>
<rect x="751.12" y="466.11" width="8.6" height="2.09" fill="#f98417" fill-opacity="0.8"/>
<rect x="751.12" y="468.2" width="8.6" height="1.7" fill="#e09d7c" fill-opacity="0.8"/>
<rect x="751.12" y="469.9" width="8.6" height="13" fill="#c5acd3" fill-opacity="0.8"/>
<rect x="751.12" y="482.9" width="8.6" height="2.43" fill="#9774b6" fill-opacity="0.8"/>
<rect x="751.12" y="485.33" width="8.6" height="0.27" fill="#6a3d9a" fill-opacity="0.8"/>
<rect x="760.72" y="452" width="8.6" height="0.4" fill="#47aa3b" fill-opacity="0.8"/>
<rect x="760.72" y="452.4" width="8.6" height="0.29" fill="#729e4e" fill-opacity="0.8"/>
<rect x="760.72" y="452.69" width="8.6" height="0.01" fill="#d19b82" fill-opacity="0.8"/>
<rect x="760.72" y="452.7" width="8.6" height="0.3" fill="#e93c3d" fill-opacity="0.8"/>
<rect x="760.72" y="453" width="8.6" height="0.3" fill="#e83d2d" fill-opacity="0.8"/>
<rect x="760.72" y="453.3" width="8.6" height="4.6" fill="#fdb55d" fill-opacity="0.8"/>
<rect x="760.72" y="457.9" width="8.6" height="4.16" fill="#fe9729" fill-opacity="0.8"/>
<rect x="760.72" y="462.06" width="8.6" height="2.34" fill="#f98417" fill-opacity="0.8"/>
<rect x="760.72" y="464.4" width="8.6" height="1.9" fill="#e09d7c" fill-opacity="0.8"/>
<rect x="760.72" y="466.3" width="8.6" height="16.8" fill="#c5acd3" fill-opacity="0.8"/>
<rect x="760.72" y="483.1" width="8.6" height="2.25" fill="#9774b6" fill-opacity="0.8"/>
<rect x="760.72" y="485.35" width="8.6" height="0.25" fill="#6a3d9a" fill-opacity="0.8"/>
<rect x="770.33" y="440" width="8.6" height="0.06" fill="#a3d48e" fill-opacity="0.8"/>
<rect x="770.33" y="440.06" width="8.6" height="0.05" fill="#83c867" fill-opacity="0.8"/>
<rect x="770.33" y="440.1" width="8.6" height="1.4" fill="#47aa3b" fill-opacity="0.8"/>
<rect x="770.33" y="441.5" width="8.6" height="1.08" fill="#729e4e" fill-opacity="0.8"/>
<rect x="770.33" y="442.58" width="8.6" height="0.02" fill="#d19b82" fill-opacity="0.8"/>
<rect x="770.33" y="442.6" width="8.6" height="0.2" fill="#f57878" fill-opacity="0.8"/>
<rect x="770.33" y="442.8" width="8.6" height="0.45" fill="#e93c3d" fill-opacity="0.8"/>
<rect x="770.33" y="443.25" width="8.6" height="0.45" fill="#e83d2d" fill-opacity="0.8"/>
<rect x="770.33" y="443.7" width="8.6" height="0.2" fill="#f58b55" fill-opacity="0.8"/>
<rect x="770.33" y="443.9" width="8.6" height="8.8" fill="#fdb55d" fill-opacity="0.8"/>
<rect x="770.33" y="452.7" width="8.6" height="4.99" fill="#fe9729" fill-opacity="0.8"/>
<rect x="770.33" y="457.69" width="8.6" height="2.81" fill="#f98417" fill-opacity="0.8"/>
<rect x="770.33" y="460.5" width="8.6" height="1.9" fill="#e09d7c" fill-opacity="0.8"/>
<rect x="770.33" y="462.4" width="8.6" height="20.7" fill="#c5acd3" fill-opacity="0.8"/>
<rect x="770.33" y="483.1" width="8.6" height="2.25" fill="#9774b6" fill-opacity="0.8"/>
<rect x="770.33" y="485.35" width="8.6" height="0.25" fill="#6a3d9a" fill-opacity="0.8"/>
<rect x="779.94" y="427" width="8.6" height="0.11" fill="#a3d48e" fill-opacity="0.8"/>
<rect x="779.94" y="427.11" width="8.6" height="0.09" fill="#83c867" fill-opacity="0.8"/>
<rect x="779.94" y="427.2" width="8.6" height="2.8" fill="#47aa3b" fill-opacity="0.8"/>
<rect x="779.94" y="430" width="8.6" height="3.82" fill="#729e4e" fill-opacity="0.8"/>
<rect x="779.94" y="433.82" width="8.6" height="0.08" fill="#d19b82" fill-opacity="0.8"/>
<rect x="779.94" y="433.9" width="8.6" height="0.2" fill="#f57878" fill-opacity="0.8"/>
<rect x="779.94" y="434.1" width="8.6" height="0.45" fill="#e93c3d" fill-opacity="0.8"/>
<rect x="779.94" y="434.55" width="8.6" height="0.45" fill="#e83d2d" fill-opacity="0.8"/>
<rect x="779.94" y="435" width="8.6" height="0.2" fill="#f58b55" fill-opacity="0.8"/>
<rect x="779.94" y="435.2" width="8.6" height="12.9" fill="#fdb55d" fill-opacity="0.8"/>
<rect x="779.94" y="448.1" width="8.6" height="6.27" fill="#fe9729" fill-opacity="0.8"/>
<rect x="779.94" y="454.37" width="8.6" height="3.53" fill="#f98417" fill-opacity="0.8"/>
<rect x="779.94" y="457.9" width="8.6" height="2.2" fill="#e09d7c" fill-opacity="0.8"/>
<rect x="779.94" y="460.1" width="8.6" height="22.8" fill="#c5acd3" fill-opacity="0.8"/>
<rect x="779.94" y="482.9" width="8.6" height="2.43" fill="#9774b6" fill-opacity="0.8"/>
<rect x="779.94" y="485.33" width="8.6" height="0.27" fill="#6a3d9a" fill-opacity="0.8"/>
<rect x="789.55" y="415.2" width="8.6" height="0.17" fill="#a3d48e" fill-opacity="0.8"/>
<rect x="789.55" y="415.37" width="8.6" height="0.14" fill="#83c867" fill-opacity="0.8"/>
<rect x="789.55" y="415.5" width="8.6" height="3.7" fill="#47aa3b" fill-opacity="0.8"/>
<rect x="789.55" y="419.2" width="8.6" height="6.76" fill="#729e4e" fill-opacity="0.8"/>
<rect x="789.55" y="425.96" width="8.6" height="0.14" fill="#d19b82" fill-opacity="0.8"/>
<rect x="789.55" y="426.1" width="8.6" height="0.3" fill="#f57878" fill-opacity="0.8"/>
<rect x="789.55" y="426.4" width="8.6" height="0.65" fill="#e93c3d" fill-opacity="0.8"/>
<rect x="789.55" y="427.05" width="8.6" height="0.65" fill="#e83d2d" fill-opacity="0.8"/>
<rect x="789.55" y="427.7" width="8.6" height="0.3" fill="#f58b55" fill-opacity="0.8"/>
<rect x="789.55" y="428" width="8.6" height="14.2" fill="#fdb55d" fill-opacity="0.8"/>
<rect x="789.55" y="442.2" width="8.6" height="9.22" fill="#fe9729" fill-opacity="0.8"/>
<rect x="789.55" y="451.42" width="8.6" height="5.18" fill="#f98417" fill-opacity="0.8"/>
<rect x="789.55" y="456.6" width="8.6" height="1.9" fill="#e09d7c" fill-opacity="0.8"/>
<rect x="789.55" y="458.5" width="8.6" height="24.4" fill="#c5acd3" fill-opacity="0.8"/>
<rect x="789.55" y="482.9" width="8.6" height="2.43" fill="#9774b6" fill-opacity="0.8"/>
<rect x="789.55" y="485.33" width="8.6" height="0.27" fill="#6a3d9a" fill-opacity="0.8"/>
<rect x="799.16" y="406.1" width="8.6" height="0.01" fill="#a6cee3" fill-opacity="0.8"/>
<rect x="799.16" y="406.11" width="8.6" height="0.03" fill="#66a5cd" fill-opacity="0.8"/>
<rect x="799.16" y="406.14" width="8.6" height="0.04" fill="#267db6" fill-opacity="0.8"/>
<rect x="799.16" y="406.18" width="8.6" height="0.02" fill="#5da3a2" fill-opacity="0.8"/>
<rect x="799.16" y="406.2" width="8.6" height="0.22" fill="#a3d48e" fill-opacity="0.8"/>
<rect x="799.16" y="406.42" width="8.6" height="0.18" fill="#83c867" fill-opacity="0.8"/>
<rect x="799.16" y="406.6" width="8.6" height="6" fill="#47aa3b" fill-opacity="0.8"/>
<rect x="799.16" y="412.6" width="8.6" height="9.11" fill="#729e4e" fill-opacity="0.8"/>
<rect x="799.16" y="421.71" width="8.6" height="0.19" fill="#d19b82" fill-opacity="0.8"/>
<rect x="799.16" y="421.9" width="8.6" height="0.4" fill="#f57878" fill-opacity="0.8"/>
<rect x="799.16" y="422.3" width="8.6" height="0.6" fill="#e93c3d" fill-opacity="0.8"/>
<rect x="799.16" y="422.9" width="8.6" height="0.6" fill="#e83d2d" fill-opacity="0.8"/>
<rect x="799.16" y="423.5" width="8.6" height="0.4" fill="#f58b55" fill-opacity="0.8"/>
<rect x="799.16" y="423.9" width="8.6" height="15.3" fill="#fdb55d" fill-opacity="0.8"/>
<rect x="799.16" y="439.2" width="8.6" height="10.3" fill="#fe9729" fill-opacity="0.8"/>
<rect x="799.16" y="449.5" width="8.6" height="5.8" fill="#f98417" fill-opacity="0.8"/>
<rect x="799.16" y="455.3" width="8.6" height="2.6" fill="#e09d7c" fill-opacity="0.8"/>
<rect x="799.16" y="457.9" width="8.6" height="25.2" fill="#c5acd3" fill-opacity="0.8"/>
<rect x="799.16" y="483.1" width="8.6" height="2.25" fill="#9774b6" fill-opacity="0.8"/>
<rect x="799.16" y="485.35" width="8.6" height="0.25" fill="#6a3d9a" fill-opacity="0.8"/>
<rect x="808.76" y="398.1" width="8.6" height="0.02" fill="#a6cee3" fill-opacity="0.8"/>
<rect x="808.76" y="398.12" width="8.6" height="0.06" fill="#66a5cd" fill-opacity="0.8"/>
<rect x="808.76" y="398.18" width="8.6" height="0.08" fill="#267db6" fill-opacity="0.8"/>
<rect x="808.76" y="398.26" width="8.6" height="0.04" fill="#5da3a2" fill-opacity="0.8"/>
<rect x="808.76" y="398.3" width="8.6" height="0.28" fill="#a3d48e" fill-opacity="0.8"/>
<rect x="808.76" y="398.57" width="8.6" height="0.23" fill="#83c867" fill-opacity="0.8"/>
<rect x="808.76" y="398.8" width="8.6" height="7.1" fill="#47aa3b" fill-opacity="0.8"/>
<rect x="808.76" y="405.9" width="8.6" height="13.52" fill="#729e4e" fill-opacity="0.8"/>
<rect x="808.76" y="419.42" width="8.6" height="0.28" fill="#d19b82" fill-opacity="0.8"/>
<rect x="808.76" y="419.7" width="8.6" height="0.5" fill="#f57878" fill-opacity="0.8"/>
<rect x="808.76" y="420.2" width="8.6" height="0.7" fill="#e93c3d" fill-opacity="0.8"/>
<rect x="808.76" y="420.9" width="8.6" height="0.7" fill="#e83d2d" fill-opacity="0.8"/>
<rect x="808.76" y="421.6" width="8.6" height="0.4" fill="#f58b55" fill-opacity="0.8"/>
<rect x="808.76" y="422" width="8.6" height="16.1" fill="#fdb55d" fill-opacity="0.8"/>
<rect x="808.76" y="438.1" width="8.6" height="11.39" fill="#fe9729" fill-opacity="0.8"/>
<rect x="808.76" y="449.49" width="8.6" height="6.41" fill="#f98417" fill-opacity="0.8"/>
<rect x="808.76" y="455.9" width="8.6" height="2.4" fill="#e09d7c" fill-opacity="0.8"/>
<rect x="808.76" y="458.3" width="8.6" height="25.1" fill="#c5acd3" fill-opacity="0.8"/>
<rect x="808.76" y="483.4" width="8.6" height="1.98" fill="#9774b6" fill-opacity="0.8"/>
<rect x="808.76" y="485.38" width="8.6" height="0.22" fill="#6a3d9a" fill-opacity="0.8"/>
<rect x="818.37" y="391.1" width="8.6" height="0.03" fill="#a6cee3" fill-opacity="0.8"/>
<rect x="818.37" y="391.13" width="8.6" height="0.09" fill="#66a5cd" fill-opacity="0.8"/>
<rect x="818.37" y="391.22" width="8.6" height="0.12" fill="#267db6" fill-opacity="0.8"/>
<rect x="818.37" y="391.34" width="8.6" height="0.06" fill="#5da3a2" fill-opacity="0.8"/>
<rect x="818.37" y="391.4" width="8.6" height="0.33" fill="#a3d48e" fill-opacity="0.8"/>
<rect x="818.37" y="391.73" width="8.6" height="0.27" fill="#83c867" fill-opacity="0.8"/>
<rect x="818.37" y="392" width="8.6" height="8" fill="#47aa3b" fill-opacity="0.8"/>
<rect x="818.37" y="400" width="8.6" height="18.23" fill="#729e4e" fill-opacity="0.8"/>
<rect x="818.37" y="418.23" width="8.6" height="0.37" fill="#d19b82" fill-opacity="0.8"/>
<rect x="818.37" y="418.6" width="8.6" height="0.6" fill="#f57878" fill-opacity="0.8"/>
<rect x="818.37" y="419.2" width="8.6" height="0.7" fill="#e93c3d" fill-opacity="0.8"/>
<rect x="818.37" y="419.9" width="8.6" height="0.7" fill="#e83d2d" fill-opacity="0.8"/>
<rect x="818.37" y="420.6" width="8.6" height="0.5" fill="#f58b55" fill-opacity="0.8"/>
<rect x="818.37" y="421.1" width="8.6" height="16.7" fill="#fdb55d" fill-opacity="0.8"/>
<rect x="818.37" y="437.8" width="8.6" height="12.03" fill="#fe9729" fill-opacity="0.8"/>
<rect x="818.37" y="449.83" width="8.6" height="6.77" fill="#f98417" fill-opacity="0.8"/>
<rect x="818.37" y="456.6" width="8.6" height="2.6" fill="#e09d7c" fill-opacity="0.8"/>
<rect x="818.37" y="459.2" width="8.6" height="24.6" fill="#c5acd3" fill-opacity="0.8"/>
<rect x="818.37" y="483.8" width="8.6" height="1.62" fill="#9774b6" fill-opacity="0.8"/>
<rect x="818.37" y="485.42" width="8.6" height="0.18" fill="#6a3d9a" fill-opacity="0.8"/>
<rect x="827.98" y="383.7" width="8.6" height="0.05" fill="#a6cee3" fill-opacity="0.8"/>
<rect x="827.98" y="383.75" width="8.6" height="0.15" fill="#66a5cd" fill-opacity="0.8"/>
<rect x="827.98" y="383.9" width="8.6" height="0.2" fill="#267db6" fill-opacity="0.8"/>
<rect x="827.98" y="384.1" width="8.6" height="0.1" fill="#5da3a2" fill-opacity="0.8"/>
<rect x="827.98" y="384.2" width="8.6" height="0.38" fill="#a3d48e" fill-opacity="0.8"/>
<rect x="827.98" y="384.58" width="8.6" height="0.31" fill="#83c867" fill-opacity="0.8"/>
<rect x="827.98" y="384.9" width="8.6" height="11.2" fill="#47aa3b" fill-opacity="0.8"/>
<rect x="827.98" y="396.1" width="8.6" height="20.68" fill="#729e4e" fill-opacity="0.8"/>
<rect x="827.98" y="416.78" width="8.6" height="0.42" fill="#d19b82" fill-opacity="0.8"/>
<rect x="827.98" y="417.2" width="8.6" height="0.7" fill="#f57878" fill-opacity="0.8"/>
<rect x="827.98" y="417.9" width="8.6" height="0.85" fill="#e93c3d" fill-opacity="0.8"/>
<rect x="827.98" y="418.75" width="8.6" height="0.85" fill="#e83d2d" fill-opacity="0.8"/>
<rect x="827.98" y="419.6" width="8.6" height="0.7" fill="#f58b55" fill-opacity="0.8"/>
<rect x="827.98" y="420.3" width="8.6" height="17.1" fill="#fdb55d" fill-opacity="0.8"/>
<rect x="827.98" y="437.4" width="8.6" height="12.54" fill="#fe9729" fill-opacity="0.8"/>
<rect x="827.98" y="449.94" width="8.6" height="7.06" fill="#f98417" fill-opacity="0.8"/>
<rect x="827.98" y="457" width="8.6" height="2.6" fill="#e09d7c" fill-opacity="0.8"/>
<rect x="827.98" y="459.6" width="8.6" height="24.6" fill="#c5acd3" fill-opacity="0.8"/>
<rect x="827.98" y="484.2" width="8.6" height="1.26" fill="#9774b6" fill-opacity="0.8"/>
<rect x="827.98" y="485.46" width="8.6" height="0.14" fill="#6a3d9a" fill-opacity="0.8"/>
<rect x="837.59" y="379.2" width="8.6" height="0.08" fill="#a6cee3" fill-opacity="0.8"/>
<rect x="837.59" y="379.28" width="8.6" height="0.24" fill="#66a5cd" fill-opacity="0.8"/>
<rect x="837.59" y="379.52" width="8.6" height="0.32" fill="#267db6" fill-opacity="0.8"/>
<rect x="837.59" y="379.84" width="8.6" height="0.16" fill="#5da3a2" fill-opacity="0.8"/>
<rect x="837.59" y="380" width="8.6" height="0.44" fill="#a3d48e" fill-opacity="0.8"/>
<rect x="837.59" y="380.44" width="8.6" height="0.36" fill="#83c867" fill-opacity="0.8"/>
<rect x="837.59" y="380.8" width="8.6" height="13.3" fill="#47aa3b" fill-opacity="0.8"/>
<rect x="837.59" y="394.1" width="8.6" height="20.68" fill="#729e4e" fill-opacity="0.8"/>
<rect x="837.59" y="414.78" width="8.6" height="0.42" fill="#d19b82" fill-opacity="0.8"/>
<rect x="837.59" y="415.2" width="8.6" height="1.4" fill="#f57878" fill-opacity="0.8"/>
<rect x="837.59" y="416.6" width="8.6" height="0.95" fill="#e93c3d" fill-opacity="0.8"/>
<rect x="837.59" y="417.55" width="8.6" height="0.95" fill="#e83d2d" fill-opacity="0.8"/>
<rect x="837.59" y="418.5" width="8.6" height="0.9" fill="#f58b55" fill-opacity="0.8"/>
<rect x="837.59" y="419.4" width="8.6" height="18" fill="#fdb55d" fill-opacity="0.8"/>
<rect x="837.59" y="437.4" width="8.6" height="12.86" fill="#fe9729" fill-opacity="0.8"/>
<rect x="837.59" y="450.26" width="8.6" height="7.24" fill="#f98417" fill-opacity="0.8"/>
<rect x="837.59" y="457.5" width="8.6" height="2.6" fill="#e09d7c" fill-opacity="0.8"/>
<rect x="837.59" y="460.1" width="8.6" height="24.3" fill="#c5acd3" fill-opacity="0.8"/>
<rect x="837.59" y="484.4" width="8.6" height="1.08" fill="#9774b6" fill-opacity="0.8"/>
<rect x="837.59" y="485.48" width="8.6" height="0.12" fill="#6a3d9a" fill-opacity="0.8"/>
<rect x="847.2" y="373.3" width="8.6" height="0.15" fill="#a6cee3" fill-opacity="0.8"/>
<rect x="847.2" y="373.45" width="8.6" height="0.45" fill="#66a5cd" fill-opacity="0.8"/>
<rect x="847.2" y="373.9" width="8.6" height="0.6" fill="#267db6" fill-opacity="0.8"/>
<rect x="847.2" y="374.5" width="8.6" height="0.3" fill="#5da3a2" fill-opacity="0.8"/>
<rect x="847.2" y="374.8" width="8.6" height="0.72" fill="#a3d48e" fill-opacity="0.8"/>
<rect x="847.2" y="375.52" width="8.6" height="0.59" fill="#83c867" fill-opacity="0.8"/>
<rect x="847.2" y="376.1" width="8.6" height="14.7" fill="#47aa3b" fill-opacity="0.8"/>
<rect x="847.2" y="390.8" width="8.6" height="20.97" fill="#729e4e" fill-opacity="0.8"/>
<rect x="847.2" y="411.77" width="8.6" height="0.43" fill="#d19b82" fill-opacity="0.8"/>
<rect x="847.2" y="412.2" width="8.6" height="2.8" fill="#f57878" fill-opacity="0.8"/>
<rect x="847.2" y="415" width="8.6" height="1.4" fill="#e93c3d" fill-opacity="0.8"/>
<rect x="847.2" y="416.4" width="8.6" height="1.4" fill="#e83d2d" fill-opacity="0.8"/>
<rect x="847.2" y="417.8" width="8.6" height="1.6" fill="#f58b55" fill-opacity="0.8"/>
<rect x="847.2" y="419.4" width="8.6" height="19.2" fill="#fdb55d" fill-opacity="0.8"/>
<rect x="847.2" y="438.6" width="8.6" height="12.35" fill="#fe9729" fill-opacity="0.8"/>
<rect x="847.2" y="450.95" width="8.6" height="6.95" fill="#f98417" fill-opacity="0.8"/>
<rect x="847.2" y="457.9" width="8.6" height="3" fill="#e09d7c" fill-opacity="0.8"/>
<rect x="847.2" y="460.9" width="8.6" height="23.5" fill="#c5acd3" fill-opacity="0.8"/>
<rect x="847.2" y="484.4" width="8.6" height="1.08" fill="#9774b6" fill-opacity="0.8"/>
<rect x="847.2" y="485.48" width="8.6" height="0.12" fill="#6a3d9a" fill-opacity="0.8"/>
<rect x="856.8" y="364.4" width="8.6" height="0.17" fill="#a6cee3" fill-opacity="0.8"/>
<rect x="856.8" y="364.57" width="8.6" height="0.51" fill="#66a5cd" fill-opacity="0.8"/>
<rect x="856.8" y="365.08" width="8.6" height="0.68" fill="#267db6" fill-opacity="0.8"/>
<rect x="856.8" y="365.76" width="8.6" height="0.34" fill="#5da3a2" fill-opacity="0.8"/>
<rect x="856.8" y="366.1" width="8.6" height="0.93" fill="#a3d48e" fill-opacity="0.8"/>
<rect x="856.8" y="367.04" width="8.6" height="0.76" fill="#83c867" fill-opacity="0.8"/>
<rect x="856.8" y="367.8" width="8.6" height="17.3" fill="#47aa3b" fill-opacity="0.8"/>
<rect x="856.8" y="385.1" width="8.6" height="20.68" fill="#729e4e" fill-opacity="0.8"/>
<rect x="856.8" y="405.78" width="8.6" height="0.42" fill="#d19b82" fill-opacity="0.8"/>
<rect x="856.8" y="406.2" width="8.6" height="3.8" fill="#f57878" fill-opacity="0.8"/>
<rect x="856.8" y="410" width="8.6" height="1.65" fill="#e93c3d" fill-opacity="0.8"/>
<rect x="856.8" y="411.65" width="8.6" height="1.65" fill="#e83d2d" fill-opacity="0.8"/>
<rect x="856.8" y="413.3" width="8.6" height="2.9" fill="#f58b55" fill-opacity="0.8"/>
<rect x="856.8" y="416.2" width="8.6" height="22.7" fill="#fdb55d" fill-opacity="0.8"/>
<rect x="856.8" y="438.9" width="8.6" height="12.42" fill="#fe9729" fill-opacity="0.8"/>
<rect x="856.8" y="451.32" width="8.6" height="6.98" fill="#f98417" fill-opacity="0.8"/>
<rect x="856.8" y="458.3" width="8.6" height="2.8" fill="#e09d7c" fill-opacity="0.8"/>
<rect x="856.8" y="461.1" width="8.6" height="23.3" fill="#c5acd3" fill-opacity="0.8"/>
<rect x="856.8" y="484.4" width="8.6" height="1.08" fill="#9774b6" fill-opacity="0.8"/>
<rect x="856.8" y="485.48" width="8.6" height="0.12" fill="#6a3d9a" fill-opacity="0.8"/>
<rect x="866.41" y="358.6" width="8.6" height="0.2" fill="#a6cee3" fill-opacity="0.8"/>
<rect x="866.41" y="358.8" width="8.6" height="0.6" fill="#66a5cd" fill-opacity="0.8"/>
<rect x="866.41" y="359.4" width="8.6" height="0.8" fill="#267db6" fill-opacity="0.8"/>
<rect x="866.41" y="360.2" width="8.6" height="0.4" fill="#5da3a2" fill-opacity="0.8"/>
<rect x="866.41" y="360.6" width="8.6" height="1.1" fill="#a3d48e" fill-opacity="0.8"/>
<rect x="866.41" y="361.7" width="8.6" height="0.9" fill="#83c867" fill-opacity="0.8"/>
<rect x="866.41" y="362.6" width="8.6" height="21.1" fill="#47aa3b" fill-opacity="0.8"/>
<rect x="866.41" y="383.7" width="8.6" height="21.07" fill="#729e4e" fill-opacity="0.8"/>
<rect x="866.41" y="404.77" width="8.6" height="0.43" fill="#d19b82" fill-opacity="0.8"/>
<rect x="866.41" y="405.2" width="8.6" height="4.2" fill="#f57878" fill-opacity="0.8"/>
<rect x="866.41" y="409.4" width="8.6" height="1.7" fill="#e93c3d" fill-opacity="0.8"/>
<rect x="866.41" y="411.1" width="8.6" height="1.7" fill="#e83d2d" fill-opacity="0.8"/>
<rect x="866.41" y="412.8" width="8.6" height="3.3" fill="#f58b55" fill-opacity="0.8"/>
<rect x="866.41" y="416.1" width="8.6" height="23.3" fill="#fdb55d" fill-opacity="0.8"/>
<rect x="866.41" y="439.4" width="8.6" height="12.48" fill="#fe9729" fill-opacity="0.8"/>
<rect x="866.41" y="451.88" width="8.6" height="7.02" fill="#f98417" fill-opacity="0.8"/>
<rect x="866.41" y="458.9" width="8.6" height="2.8" fill="#e09d7c" fill-opacity="0.8"/>
<rect x="866.41" y="461.7" width="8.6" height="22.8" fill="#c5acd3" fill-opacity="0.8"/>
<rect x="866.41" y="484.5" width="8.6" height="0.99" fill="#9774b6" fill-opacity="0.8"/>
<rect x="866.41" y="485.49" width="8.6" height="0.11" fill="#6a3d9a" fill-opacity="0.8"/>
<rect x="876.02" y="355.9" width="8.6" height="0.3" fill="#a6cee3" fill-opacity="0.8"/>
<rect x="876.02" y="356.2" width="8.6" height="0.9" fill="#66a5cd" fill-opacity="0.8"/>
<rect x="876.02" y="357.1" width="8.6" height="1.2" fill="#267db6" fill-opacity="0.8"/>
<rect x="876.02" y="358.3" width="8.6" height="0.6" fill="#5da3a2" fill-opacity="0.8"/>
<rect x="876.02" y="358.9" width="8.6" height="1.21" fill="#a3d48e" fill-opacity="0.8"/>
<rect x="876.02" y="360.11" width="8.6" height="0.99" fill="#83c867" fill-opacity="0.8"/>
<rect x="876.02" y="361.1" width="8.6" height="23.7" fill="#47aa3b" fill-opacity="0.8"/>
<rect x="876.02" y="384.8" width="8.6" height="20.78" fill="#729e4e" fill-opacity="0.8"/>
<rect x="876.02" y="405.58" width="8.6" height="0.42" fill="#d19b82" fill-opacity="0.8"/>
<rect x="876.02" y="406" width="8.6" height="4.8" fill="#f57878" fill-opacity="0.8"/>
<rect x="876.02" y="410.8" width="8.6" height="1.6" fill="#e93c3d" fill-opacity="0.8"/>
<rect x="876.02" y="412.4" width="8.6" height="1.6" fill="#e83d2d" fill-opacity="0.8"/>
<rect x="876.02" y="414" width="8.6" height="3.8" fill="#f58b55" fill-opacity="0.8"/>
<rect x="876.02" y="417.8" width="8.6" height="24.1" fill="#fdb55d" fill-opacity="0.8"/>
<rect x="876.02" y="441.9" width="8.6" height="12.48" fill="#fe9729" fill-opacity="0.8"/>
<rect x="876.02" y="454.38" width="8.6" height="7.02" fill="#f98417" fill-opacity="0.8"/>
<rect x="876.02" y="461.4" width="8.6" height="2.7" fill="#e09d7c" fill-opacity="0.8"/>
<rect x="876.02" y="464.1" width="8.6" height="20.5" fill="#c5acd3" fill-opacity="0.8"/>
<rect x="876.02" y="484.6" width="8.6" height="0.9" fill="#9774b6" fill-opacity="0.8"/>
<rect x="876.02" y="485.5" width="8.6" height="0.1" fill="#6a3d9a" fill-opacity="0.8"/>
<rect x="885.63" y="356.7" width="8.6" height="0.3" fill="#a6cee3" fill-opacity="0.8"/>
<rect x="885.63" y="357" width="8.6" height="0.9" fill="#66a5cd" fill-opacity="0.8"/>
<rect x="885.63" y="357.9" width="8.6" height="1.2" fill="#267db6" fill-opacity="0.8"/>
<rect x="885.63" y="359.1" width="8.6" height="0.6" fill="#5da3a2" fill-opacity="0.8"/>
<rect x="885.63" y="359.7" width="8.6" height="1.38" fill="#a3d48e" fill-opacity="0.8"/>
<rect x="885.63" y="361.07" width="8.6" height="1.12" fill="#83c867" fill-opacity="0.8"/>
<rect x="885.63" y="362.2" width="8.6" height="24.8" fill="#47aa3b" fill-opacity="0.8"/>
<rect x="885.63" y="387" width="8.6" height="20.87" fill="#729e4e" fill-opacity="0.8"/>
<rect x="885.63" y="407.87" width="8.6" height="0.43" fill="#d19b82" fill-opacity="0.8"/>
<rect x="885.63" y="408.3" width="8.6" height="5" fill="#f57878" fill-opacity="0.8"/>
<rect x="885.63" y="413.3" width="8.6" height="1.7" fill="#e93c3d" fill-opacity="0.8"/>
<rect x="885.63" y="415" width="8.6" height="1.7" fill="#e83d2d" fill-opacity="0.8"/>
<rect x="885.63" y="416.7" width="8.6" height="3.9" fill="#f58b55" fill-opacity="0.8"/>
<rect x="885.63" y="420.6" width="8.6" height="25.3" fill="#fdb55d" fill-opacity="0.8"/>
<rect x="885.63" y="445.9" width="8.6" height="12.8" fill="#fe9729" fill-opacity="0.8"/>
<rect x="885.63" y="458.7" width="8.6" height="7.2" fill="#f98417" fill-opacity="0.8"/>
<rect x="885.63" y="465.9" width="8.6" height="2.2" fill="#e09d7c" fill-opacity="0.8"/>
<rect x="885.63" y="468.1" width="8.6" height="16.6" fill="#c5acd3" fill-opacity="0.8"/>
<rect x="885.63" y="484.7" width="8.6" height="0.81" fill="#9774b6" fill-opacity="0.8"/>
<rect x="885.63" y="485.51" width="8.6" height="0.09" fill="#6a3d9a" fill-opacity="0.8"/>
<rect x="895.24" y="355.3" width="8.6" height="0.39" fill="#a6cee3" fill-opacity="0.8"/>
<rect x="895.24" y="355.69" width="8.6" height="1.17" fill="#66a5cd" fill-opacity="0.8"/>
<rect x="895.24" y="356.86" width="8.6" height="1.56" fill="#267db6" fill-opacity="0.8"/>
<rect x="895.24" y="358.42" width="8.6" height="0.78" fill="#5da3a2" fill-opacity="0.8"/>
<rect x="895.24" y="359.2" width="8.6" height="1.38" fill="#a3d48e" fill-opacity="0.8"/>
<rect x="895.24" y="360.57" width="8.6" height="1.12" fill="#83c867" fill-opacity="0.8"/>
<rect x="895.24" y="361.7" width="8.6" height="25.7" fill="#47aa3b" fill-opacity="0.8"/>
<rect x="895.24" y="387.4" width="8.6" height="21.07" fill="#729e4e" fill-opacity="0.8"/>
<rect x="895.24" y="408.47" width="8.6" height="0.43" fill="#d19b82" fill-opacity="0.8"/>
<rect x="895.24" y="408.9" width="8.6" height="5" fill="#f57878" fill-opacity="0.8"/>
<rect x="895.24" y="413.9" width="8.6" height="1.95" fill="#e93c3d" fill-opacity="0.8"/>
<rect x="895.24" y="415.85" width="8.6" height="1.95" fill="#e83d2d" fill-opacity="0.8"/>
<rect x="895.24" y="417.8" width="8.6" height="3.9" fill="#f58b55" fill-opacity="0.8"/>
<rect x="895.24" y="421.7" width="8.6" height="26.1" fill="#fdb55d" fill-opacity="0.8"/>
<rect x="895.24" y="447.8" width="8.6" height="12.8" fill="#fe9729" fill-opacity="0.8"/>
<rect x="895.24" y="460.6" width="8.6" height="7.2" fill="#f98417" fill-opacity="0.8"/>
<rect x="895.24" y="467.8" width="8.6" height="2.5" fill="#e09d7c" fill-opacity="0.8"/>
<rect x="895.24" y="470.3" width="8.6" height="14.4" fill="#c5acd3" fill-opacity="0.8"/>
<rect x="895.24" y="484.7" width="8.6" height="0.81" fill="#9774b6" fill-opacity="0.8"/>
<rect x="895.24" y="485.51" width="8.6" height="0.09" fill="#6a3d9a" fill-opacity="0.8"/>
<rect x="904.84" y="355.6" width="8.6" height="0.38" fill="#a6cee3" fill-opacity="0.8"/>
<rect x="904.84" y="355.98" width="8.6" height="1.14" fill="#66a5cd" fill-opacity="0.8"/>
<rect x="904.84" y="357.12" width="8.6" height="1.52" fill="#267db6" fill-opacity="0.8"/>
<rect x="904.84" y="358.64" width="8.6" height="0.76" fill="#5da3a2" fill-opacity="0.8"/>
<rect x="904.84" y="359.4" width="8.6" height="1.54" fill="#a3d48e" fill-opacity="0.8"/>
<rect x="904.84" y="360.94" width="8.6" height="1.26" fill="#83c867" fill-opacity="0.8"/>
<rect x="904.84" y="362.2" width="8.6" height="25.9" fill="#47aa3b" fill-opacity="0.8"/>
<rect x="904.84" y="388.1" width="8.6" height="21.17" fill="#729e4e" fill-opacity="0.8"/>
<rect x="904.84" y="409.27" width="8.6" height="0.43" fill="#d19b82" fill-opacity="0.8"/>
<rect x="904.84" y="409.7" width="8.6" height="5.3" fill="#f57878" fill-opacity="0.8"/>
<rect x="904.84" y="415" width="8.6" height="1.95" fill="#e93c3d" fill-opacity="0.8"/>
<rect x="904.84" y="416.95" width="8.6" height="1.95" fill="#e83d2d" fill-opacity="0.8"/>
<rect x="904.84" y="418.9" width="8.6" height="3.7" fill="#f58b55" fill-opacity="0.8"/>
<rect x="904.84" y="422.6" width="8.6" height="26.3" fill="#fdb55d" fill-opacity="0.8"/>
<rect x="904.84" y="448.9" width="8.6" height="12.8" fill="#fe9729" fill-opacity="0.8"/>
<rect x="904.84" y="461.7" width="8.6" height="7.2" fill="#f98417" fill-opacity="0.8"/>
<rect x="904.84" y="468.9" width="8.6" height="2.5" fill="#e09d7c" fill-opacity="0.8"/>
<rect x="904.84" y="471.4" width="8.6" height="13.4" fill="#c5acd3" fill-opacity="0.8"/>
<rect x="904.84" y="484.8" width="8.6" height="0.72" fill="#9774b6" fill-opacity="0.8"/>
<rect x="904.84" y="485.52" width="8.6" height="0.08" fill="#6a3d9a" fill-opacity="0.8"/>
<rect x="914.45" y="356.1" width="8.6" height="0.39" fill="#a6cee3" fill-opacity="0.8"/>
<rect x="914.45" y="356.49" width="8.6" height="1.17" fill="#66a5cd" fill-opacity="0.8"/>
<rect x="914.45" y="357.66" width="8.6" height="1.56" fill="#267db6" fill-opacity="0.8"/>
<rect x="914.45" y="359.22" width="8.6" height="0.78" fill="#5da3a2" fill-opacity="0.8"/>
<rect x="914.45" y="360" width="8.6" height="1.54" fill="#a3d48e" fill-opacity="0.8"/>
<rect x="914.45" y="361.54" width="8.6" height="1.26" fill="#83c867" fill-opacity="0.8"/>
<rect x="914.45" y="362.8" width="8.6" height="26.1" fill="#47aa3b" fill-opacity="0.8"/>
<rect x="914.45" y="388.9" width="8.6" height="21.27" fill="#729e4e" fill-opacity="0.8"/>
<rect x="914.45" y="410.17" width="8.6" height="0.43" fill="#d19b82" fill-opacity="0.8"/>
<rect x="914.45" y="410.6" width="8.6" height="5.3" fill="#f57878" fill-opacity="0.8"/>
<rect x="914.45" y="415.9" width="8.6" height="2.05" fill="#e93c3d" fill-opacity="0.8"/>
<rect x="914.45" y="417.95" width="8.6" height="2.05" fill="#e83d2d" fill-opacity="0.8"/>
<rect x="914.45" y="420" width="8.6" height="4.1" fill="#f58b55" fill-opacity="0.8"/>
<rect x="914.45" y="424.1" width="8.6" height="26.2" fill="#fdb55d" fill-opacity="0.8"/>
<rect x="914.45" y="450.3" width="8.6" height="12.61" fill="#fe9729" fill-opacity="0.8"/>
<rect x="914.45" y="462.91" width="8.6" height="7.09" fill="#f98417" fill-opacity="0.8"/>
<rect x="914.45" y="470" width="8.6" height="2.6" fill="#e09d7c" fill-opacity="0.8"/>
<rect x="914.45" y="472.6" width="8.6" height="12.2" fill="#c5acd3" fill-opacity="0.8"/>
<rect x="914.45" y="484.8" width="8.6" height="0.72" fill="#9774b6" fill-opacity="0.8"/>
<rect x="914.45" y="485.52" width="8.6" height="0.08" fill="#6a3d9a" fill-opacity="0.8"/>
<rect x="924.06" y="359.2" width="8.6" height="0.41" fill="#a6cee3" fill-opacity="0.8"/>
<rect x="924.06" y="359.61" width="8.6" height="1.23" fill="#66a5cd" fill-opacity="0.8"/>
<rect x="924.06" y="360.84" width="8.6" height="1.64" fill="#267db6" fill-opacity="0.8"/>
<rect x="924.06" y="362.48" width="8.6" height="0.82" fill="#5da3a2" fill-opacity="0.8"/>
<rect x="924.06" y="363.3" width="8.6" height="1.54" fill="#a3d48e" fill-opacity="0.8"/>
<rect x="924.06" y="364.84" width="8.6" height="1.26" fill="#83c867" fill-opacity="0.8"/>
<rect x="924.06" y="366.1" width="8.6" height="26.1" fill="#47aa3b" fill-opacity="0.8"/>
<rect x="924.06" y="392.2" width="8.6" height="20.68" fill="#729e4e" fill-opacity="0.8"/>
<rect x="924.06" y="412.88" width="8.6" height="0.42" fill="#d19b82" fill-opacity="0.8"/>
<rect x="924.06" y="413.3" width="8.6" height="5.3" fill="#f57878" fill-opacity="0.8"/>
<rect x="924.06" y="418.6" width="8.6" height="2.1" fill="#e93c3d" fill-opacity="0.8"/>
<rect x="924.06" y="420.7" width="8.6" height="2.1" fill="#e83d2d" fill-opacity="0.8"/>
<rect x="924.06" y="422.8" width="8.6" height="3.9" fill="#f58b55" fill-opacity="0.8"/>
<rect x="924.06" y="426.7" width="8.6" height="25.5" fill="#fdb55d" fill-opacity="0.8"/>
<rect x="924.06" y="452.2" width="8.6" height="12.1" fill="#fe9729" fill-opacity="0.8"/>
<rect x="924.06" y="464.3" width="8.6" height="6.8" fill="#f98417" fill-opacity="0.8"/>
<rect x="924.06" y="471.1" width="8.6" height="2.2" fill="#e09d7c" fill-opacity="0.8"/>
<rect x="924.06" y="473.3" width="8.6" height="11.6" fill="#c5acd3" fill-opacity="0.8"/>
<rect x="924.06" y="484.9" width="8.6" height="0.63" fill="#9774b6" fill-opacity="0.8"/>
<rect x="924.06" y="485.53" width="8.6" height="0.07" fill="#6a3d9a" fill-opacity="0.8"/>
<rect x="933.67" y="363.9" width="8.6" height="0.39" fill="#a6cee3" fill-opacity="0.8"/>
<rect x="933.67" y="364.29" width="8.6" height="1.17" fill="#66a5cd" fill-opacity="0.8"/>
<rect x="933.67" y="365.46" width="8.6" height="1.56" fill="#267db6" fill-opacity="0.8"/>
<rect x="933.67" y="367.02" width="8.6" height="0.78" fill="#5da3a2" fill-opacity="0.8"/>
<rect x="933.67" y="367.8" width="8.6" height="1.54" fill="#a3d48e" fill-opacity="0.8"/>
<rect x="933.67" y="369.34" width="8.6" height="1.26" fill="#83c867" fill-opacity="0.8"/>
<rect x="933.67" y="370.6" width="8.6" height="25.5" fill="#47aa3b" fill-opacity="0.8"/>
<rect x="933.67" y="396.1" width="8.6" height="20.48" fill="#729e4e" fill-opacity="0.8"/>
<rect x="933.67" y="416.58" width="8.6" height="0.42" fill="#d19b82" fill-opacity="0.8"/>
<rect x="933.67" y="417" width="8.6" height="5.2" fill="#f57878" fill-opacity="0.8"/>
<rect x="933.67" y="422.2" width="8.6" height="2.25" fill="#e93c3d" fill-opacity="0.8"/>
<rect x="933.67" y="424.45" width="8.6" height="2.25" fill="#e83d2d" fill-opacity="0.8"/>
<rect x="933.67" y="426.7" width="8.6" height="3.9" fill="#f58b55" fill-opacity="0.8"/>
<rect x="933.67" y="430.6" width="8.6" height="23.6" fill="#fdb55d" fill-opacity="0.8"/>
<rect x="933.67" y="454.2" width="8.6" height="11.52" fill="#fe9729" fill-opacity="0.8"/>
<rect x="933.67" y="465.72" width="8.6" height="6.48" fill="#f98417" fill-opacity="0.8"/>
<rect x="933.67" y="472.2" width="8.6" height="1.7" fill="#e09d7c" fill-opacity="0.8"/>
<rect x="933.67" y="473.9" width="8.6" height="11" fill="#c5acd3" fill-opacity="0.8"/>
<rect x="933.67" y="484.9" width="8.6" height="0.63" fill="#9774b6" fill-opacity="0.8"/>
<rect x="933.67" y="485.53" width="8.6" height="0.07" fill="#6a3d9a" fill-opacity="0.8"/>
<rect x="943.28" y="367.2" width="8.6" height="0.39" fill="#a6cee3" fill-opacity="0.8"/>
<rect x="943.28" y="367.59" width="8.6" height="1.17" fill="#66a5cd" fill-opacity="0.8"/>
<rect x="943.28" y="368.76" width="8.6" height="1.56" fill="#267db6" fill-opacity="0.8"/>
<rect x="943.28" y="370.32" width="8.6" height="0.78" fill="#5da3a2" fill-opacity="0.8"/>
<rect x="943.28" y="371.1" width="8.6" height="1.43" fill="#a3d48e" fill-opacity="0.8"/>
<rect x="943.28" y="372.53" width="8.6" height="1.17" fill="#83c867" fill-opacity="0.8"/>
<rect x="943.28" y="373.7" width="8.6" height="25.2" fill="#47aa3b" fill-opacity="0.8"/>
<rect x="943.28" y="398.9" width="8.6" height="20.38" fill="#729e4e" fill-opacity="0.8"/>
<rect x="943.28" y="419.28" width="8.6" height="0.42" fill="#d19b82" fill-opacity="0.8"/>
<rect x="943.28" y="419.7" width="8.6" height="4.7" fill="#f57878" fill-opacity="0.8"/>
<rect x="943.28" y="424.4" width="8.6" height="2.1" fill="#e93c3d" fill-opacity="0.8"/>
<rect x="943.28" y="426.5" width="8.6" height="2.1" fill="#e83d2d" fill-opacity="0.8"/>
<rect x="943.28" y="428.6" width="8.6" height="3.6" fill="#f58b55" fill-opacity="0.8"/>
<rect x="943.28" y="432.2" width="8.6" height="22.8" fill="#fdb55d" fill-opacity="0.8"/>
<rect x="943.28" y="455" width="8.6" height="11.39" fill="#fe9729" fill-opacity="0.8"/>
<rect x="943.28" y="466.39" width="8.6" height="6.41" fill="#f98417" fill-opacity="0.8"/>
<rect x="943.28" y="472.8" width="8.6" height="1.6" fill="#e09d7c" fill-opacity="0.8"/>
<rect x="943.28" y="474.4" width="8.6" height="10.5" fill="#c5acd3" fill-opacity="0.8"/>
<rect x="943.28" y="484.9" width="8.6" height="0.63" fill="#9774b6" fill-opacity="0.8"/>
<rect x="943.28" y="485.53" width="8.6" height="0.07" fill="#6a3d9a" fill-opacity="0.8"/>
<rect x="952.88" y="368.9" width="8.6" height="0.39" fill="#a6cee3" fill-opacity="0.8"/>
<rect x="952.88" y="369.29" width="8.6" height="1.17" fill="#66a5cd" fill-opacity="0.8"/>
<rect x="952.88" y="370.46" width="8.6" height="1.56" fill="#267db6" fill-opacity="0.8"/>
<rect x="952.88" y="372.02" width="8.6" height="0.78" fill="#5da3a2" fill-opacity="0.8"/>
<rect x="952.88" y="372.8" width="8.6" height="1.54" fill="#a3d48e" fill-opacity="0.8"/>
<rect x="952.88" y="374.34" width="8.6" height="1.26" fill="#83c867" fill-opacity="0.8"/>
<rect x="952.88" y="375.6" width="8.6" height="24.4" fill="#47aa3b" fill-opacity="0.8"/>
<rect x="952.88" y="400" width="8.6" height="20.68" fill="#729e4e" fill-opacity="0.8"/>
<rect x="952.88" y="420.68" width="8.6" height="0.42" fill="#d19b82" fill-opacity="0.8"/>
<rect x="952.88" y="421.1" width="8.6" height="4.5" fill="#f57878" fill-opacity="0.8"/>
<rect x="952.88" y="425.6" width="8.6" height="2.05" fill="#e93c3d" fill-opacity="0.8"/>
<rect x="952.88" y="427.65" width="8.6" height="2.05" fill="#e83d2d" fill-opacity="0.8"/>
<rect x="952.88" y="429.7" width="8.6" height="3.6" fill="#f58b55" fill-opacity="0.8"/>
<rect x="952.88" y="433.3" width="8.6" height="22.3" fill="#fdb55d" fill-opacity="0.8"/>
<rect x="952.88" y="455.6" width="8.6" height="11.2" fill="#fe9729" fill-opacity="0.8"/>
<rect x="952.88" y="466.8" width="8.6" height="6.3" fill="#f98417" fill-opacity="0.8"/>
<rect x="952.88" y="473.1" width="8.6" height="1.7" fill="#e09d7c" fill-opacity="0.8"/>
<rect x="952.88" y="474.8" width="8.6" height="10.1" fill="#c5acd3" fill-opacity="0.8"/>
<rect x="952.88" y="484.9" width="8.6" height="0.63" fill="#9774b6" fill-opacity="0.8"/>
<rect x="952.88" y="485.53" width="8.6" height="0.07" fill="#6a3d9a" fill-opacity="0.8"/>
<rect x="962.49" y="370.8" width="8.6" height="0.4" fill="#a6cee3" fill-opacity="0.8"/>
<rect x="962.49" y="371.2" width="8.6" height="1.2" fill="#66a5cd" fill-opacity="0.8"/>
<rect x="962.49" y="372.4" width="8.6" height="1.6" fill="#267db6" fill-opacity="0.8"/>
<rect x="962.49" y="374" width="8.6" height="0.8" fill="#5da3a2" fill-opacity="0.8"/>
<rect x="962.49" y="374.8" width="8.6" height="1.43" fill="#a3d48e" fill-opacity="0.8"/>
<rect x="962.49" y="376.23" width="8.6" height="1.17" fill="#83c867" fill-opacity="0.8"/>
<rect x="962.49" y="377.4" width="8.6" height="24.3" fill="#47aa3b" fill-opacity="0.8"/>
<rect x="962.49" y="401.7" width="8.6" height="20.09" fill="#729e4e" fill-opacity="0.8"/>
<rect x="962.49" y="421.79" width="8.6" height="0.41" fill="#d19b82" fill-opacity="0.8"/>
<rect x="962.49" y="422.2" width="8.6" height="4.5" fill="#f57878" fill-opacity="0.8"/>
<rect x="962.49" y="426.7" width="8.6" height="2.05" fill="#e93c3d" fill-opacity="0.8"/>
<rect x="962.49" y="428.75" width="8.6" height="2.05" fill="#e83d2d" fill-opacity="0.8"/>
<rect x="962.49" y="430.8" width="8.6" height="3.6" fill="#f58b55" fill-opacity="0.8"/>
<rect x="962.49" y="434.4" width="8.6" height="21.7" fill="#fdb55d" fill-opacity="0.8"/>
<rect x="962.49" y="456.1" width="8.6" height="11.01" fill="#fe9729" fill-opacity="0.8"/>
<rect x="962.49" y="467.11" width="8.6" height="6.19" fill="#f98417" fill-opacity="0.8"/>
<rect x="962.49" y="473.3" width="8.6" height="1.7" fill="#e09d7c" fill-opacity="0.8"/>
<rect x="962.49" y="475" width="8.6" height="9.9" fill="#c5acd3" fill-opacity="0.8"/>
<rect x="962.49" y="484.9" width="8.6" height="0.63" fill="#9774b6" fill-opacity="0.8"/>
<rect x="962.49" y="485.53" width="8.6" height="0.07" fill="#6a3d9a" fill-opacity="0.8"/>
<rect x="972.1" y="380.6" width="8.6" height="0.33" fill="#a6cee3" fill-opacity="0.8"/>
<rect x="972.1" y="380.93" width="8.6" height="0.99" fill="#66a5cd" fill-opacity="0.8"/>
<rect x="972.1" y="381.92" width="8.6" height="1.32" fill="#267db6" fill-opacity="0.8"/>
<rect x="972.1" y="383.24" width="8.6" height="0.66" fill="#5da3a2" fill-opacity="0.8"/>
<rect x="972.1" y="383.9" width="8.6" height="1.1" fill="#a3d48e" fill-opacity="0.8"/>
<rect x="972.1" y="385" width="8.6" height="0.9" fill="#83c867" fill-opacity="0.8"/>
<rect x="972.1" y="385.9" width="8.6" height="22.4" fill="#47aa3b" fill-opacity="0.8"/>
<rect x="972.1" y="408.3" width="8.6" height="19.4" fill="#729e4e" fill-opacity="0.8"/>
<rect x="972.1" y="427.7" width="8.6" height="0.4" fill="#d19b82" fill-opacity="0.8"/>
<rect x="972.1" y="428.1" width="8.6" height="4.1" fill="#f57878" fill-opacity="0.8"/>
<rect x="972.1" y="432.2" width="8.6" height="1.85" fill="#e93c3d" fill-opacity="0.8"/>
<rect x="972.1" y="434.05" width="8.6" height="1.85" fill="#e83d2d" fill-opacity="0.8"/>
<rect x="972.1" y="435.9" width="8.6" height="2.7" fill="#f58b55" fill-opacity="0.8"/>
<rect x="972.1" y="438.6" width="8.6" height="19.2" fill="#fdb55d" fill-opacity="0.8"/>
<rect x="972.1" y="457.8" width="8.6" height="10.62" fill="#fe9729" fill-opacity="0.8"/>
<rect x="972.1" y="468.42" width="8.6" height="5.98" fill="#f98417" fill-opacity="0.8"/>
<rect x="972.1" y="474.4" width="8.6" height="1.7" fill="#e09d7c" fill-opacity="0.8"/>
<rect x="972.1" y="476.1" width="8.6" height="8.9" fill="#c5acd3" fill-opacity="0.8"/>
<rect x="972.1" y="485" width="8.6" height="0.54" fill="#9774b6" fill-opacity="0.8"/>
<rect x="972.1" y="485.54" width="8.6" height="0.06" fill="#6a3d9a" fill-opacity="0.8"/>
<rect x="729.7" y="338" width="262.5" height="10.3" fill="#d9d9d9" stroke="#7c7c7c" stroke-width="1.05"/>
<text x="860.95" y="345.54" font-size="5.4" fill="#262626" text-anchor="middle">AB_2.fq.gz</text>
<rect x="729.7" y="348.3" width="262.5" height="143.7" fill="none" stroke="#7c7c7c" stroke-width="1.05"/>
<line x1="736.2" y1="492" x2="736.2" y2="493.6" stroke="#555" stroke-width="0.6"/>
<text x="736.2" y="499.2" font-size="5.3" fill="#555" text-anchor="middle">0</text>
<line x1="796.25" y1="492" x2="796.25" y2="493.6" stroke="#555" stroke-width="0.6"/>
<text x="796.25" y="499.2" font-size="5.3" fill="#555" text-anchor="middle">25</text>
<line x1="856.3" y1="492" x2="856.3" y2="493.6" stroke="#555" stroke-width="0.6"/>
<text x="856.3" y="499.2" font-size="5.3" fill="#555" text-anchor="middle">50</text>
<line x1="916.35" y1="492" x2="916.35" y2="493.6" stroke="#555" stroke-width="0.6"/>
<text x="916.35" y="499.2" font-size="5.3" fill="#555" text-anchor="middle">75</text>
<line x1="976.4" y1="492" x2="976.4" y2="493.6" stroke="#555" stroke-width="0.6"/>
<text x="976.4" y="499.2" font-size="5.3" fill="#555" text-anchor="middle">100</text>
<text x="1002.8" y="368.2" font-size="6.8" fill="#000" text-anchor="start" stroke="#000" stroke-width="0.12">Isotype</text>
<rect x="1002.9" y="372.55" width="9.8" height="9.5" fill="#a6cee3" fill-opacity="0.8"/>
<text x="1016.5" y="379.24" font-size="5.4" fill="#000" text-anchor="start" stroke="#000" stroke-width="0.1">Tyr</text>
<rect x="1002.9" y="383.17" width="9.8" height="9.5" fill="#66a5cd" fill-opacity="0.8"/>
<text x="1016.5" y="389.86" font-size="5.4" fill="#000" text-anchor="start" stroke="#000" stroke-width="0.1">Ser</text>
<rect x="1002.9" y="393.79" width="9.8" height="9.5" fill="#267db6" fill-opacity="0.8"/>
<text x="1016.5" y="400.48" font-size="5.4" fill="#000" text-anchor="start" stroke="#000" stroke-width="0.1">Trp</text>
<rect x="1002.9" y="404.41" width="9.8" height="9.5" fill="#5da3a2" fill-opacity="0.8"/>
<text x="1016.5" y="411.1" font-size="5.4" fill="#000" text-anchor="start" stroke="#000" stroke-width="0.1">Ile</text>
<rect x="1002.9" y="415.03" width="9.8" height="9.5" fill="#a3d48e" fill-opacity="0.8"/>
<text x="1016.5" y="421.72" font-size="5.4" fill="#000" text-anchor="start" stroke="#000" stroke-width="0.1">Thr</text>
<rect x="1002.9" y="425.65" width="9.8" height="9.5" fill="#83c867" fill-opacity="0.8"/>
<text x="1016.5" y="432.34" font-size="5.4" fill="#000" text-anchor="start" stroke="#000" stroke-width="0.1">Phe</text>
<rect x="1002.9" y="436.27" width="9.8" height="9.5" fill="#47aa3b" fill-opacity="0.8"/>
<text x="1016.5" y="442.96" font-size="5.4" fill="#000" text-anchor="start" stroke="#000" stroke-width="0.1">Arg</text>
<rect x="1002.9" y="446.89" width="9.8" height="9.5" fill="#729e4e" fill-opacity="0.8"/>
<text x="1016.5" y="453.58" font-size="5.4" fill="#000" text-anchor="start" stroke="#000" stroke-width="0.1">His</text>
<rect x="1002.9" y="457.51" width="9.8" height="9.5" fill="#d19b82" fill-opacity="0.8"/>
<text x="1016.5" y="464.2" font-size="5.4" fill="#000" text-anchor="start" stroke="#000" stroke-width="0.1">Ala</text>
<rect x="1002.9" y="468.13" width="9.8" height="9.5" fill="#f57878" fill-opacity="0.8"/>
<text x="1016.5" y="474.82" font-size="5.4" fill="#000" text-anchor="start" stroke="#000" stroke-width="0.1">Met</text>
<rect x="1030.1" y="372.55" width="9.8" height="9.5" fill="#e93c3d" fill-opacity="0.8"/>
<text x="1043.5" y="379.24" font-size="5.4" fill="#000" text-anchor="start" stroke="#000" stroke-width="0.1">Gln</text>
<rect x="1030.1" y="383.17" width="9.8" height="9.5" fill="#e83d2d" fill-opacity="0.8"/>
<text x="1043.5" y="389.86" font-size="5.4" fill="#000" text-anchor="start" stroke="#000" stroke-width="0.1">iMet</text>
<rect x="1030.1" y="393.79" width="9.8" height="9.5" fill="#f58b55" fill-opacity="0.8"/>
<text x="1043.5" y="400.48" font-size="5.4" fill="#000" text-anchor="start" stroke="#000" stroke-width="0.1">Leu</text>
<rect x="1030.1" y="404.41" width="9.8" height="9.5" fill="#fdb55d" fill-opacity="0.8"/>
<text x="1043.5" y="411.1" font-size="5.4" fill="#000" text-anchor="start" stroke="#000" stroke-width="0.1">Asp</text>
<rect x="1030.1" y="415.03" width="9.8" height="9.5" fill="#fe9729" fill-opacity="0.8"/>
<text x="1043.5" y="421.72" font-size="5.4" fill="#000" text-anchor="start" stroke="#000" stroke-width="0.1">Glu</text>
<rect x="1030.1" y="425.65" width="9.8" height="9.5" fill="#f98417" fill-opacity="0.8"/>
<text x="1043.5" y="432.34" font-size="5.4" fill="#000" text-anchor="start" stroke="#000" stroke-width="0.1">Lys</text>
<rect x="1030.1" y="436.27" width="9.8" height="9.5" fill="#e09d7c" fill-opacity="0.8"/>
<text x="1043.5" y="442.96" font-size="5.4" fill="#000" text-anchor="start" stroke="#000" stroke-width="0.1">SeC</text>
<rect x="1030.1" y="446.89" width="9.8" height="9.5" fill="#c5acd3" fill-opacity="0.8"/>
<text x="1043.5" y="453.58" font-size="5.4" fill="#000" text-anchor="start" stroke="#000" stroke-width="0.1">Gly</text>
<rect x="1030.1" y="457.51" width="9.8" height="9.5" fill="#9774b6" fill-opacity="0.8"/>
<text x="1043.5" y="464.2" font-size="5.4" fill="#000" text-anchor="start" stroke="#000" stroke-width="0.1">Val</text>
<rect x="1030.1" y="468.13" width="9.8" height="9.5" fill="#6a3d9a" fill-opacity="0.8"/>
<text x="1043.5" y="474.82" font-size="5.4" fill="#000" text-anchor="start" stroke="#000" stroke-width="0.1">Cys</text>
</svg>
<span class="cj" style="left:397.7px;top:291.6px;font-size:23.28px;letter-spacing:0.72px">新使生物</span>
<span class="la" style="left:499.2px;top:291.6px;font-size:24px"><i style="width:12.15px;transform:scaleX(1.15)">t</i><i style="width:12.15px;transform:scaleX(0.72)">R</i><i style="width:12.15px;transform:scaleX(0.72)">N</i><i style="width:12.15px;transform:scaleX(0.72)">A</i><i style="width:12.15px;transform:scaleX(1.5)">-</i><i style="width:12.15px;transform:scaleX(1.04)">s</i><i style="width:12.15px;transform:scaleX(1.04)">e</i><i style="width:12.15px;transform:scaleX(1.04)">q</i></span>
<span class="cj" style="left:603.6px;top:291.6px;font-size:23.28px;letter-spacing:0.72px">方法</span>
<span class="cj" style="left:47.6px;top:500.6px;font-size:19.79px;letter-spacing:0.61px">国外</span>
<span class="la" style="left:92.6px;top:500.6px;font-size:20.4px"><i style="width:9.9px;transform:scaleX(1.04)">s</i><i style="width:9.9px;transform:scaleX(0.72)">m</i><i style="width:9.9px;transform:scaleX(1.04)">a</i><i style="width:9.9px;transform:scaleX(1.15)">l</i><i style="width:9.9px;transform:scaleX(1.15)">l</i></span>
<span class="la" style="left:155.6px;top:500.6px;font-size:20.4px"><i style="width:9.9px;transform:scaleX(0.72)">R</i><i style="width:9.9px;transform:scaleX(0.72)">N</i><i style="width:9.9px;transform:scaleX(0.72)">A</i></span>
<span class="la" style="left:197.6px;top:500.6px;font-size:20.4px"><i style="width:9.9px;transform:scaleX(0.95)">k</i><i style="width:9.9px;transform:scaleX(1.15)">i</i><i style="width:9.9px;transform:scaleX(1.15)">t</i></span>
<span class="cj" style="left:233.4px;top:500.6px;font-size:19.79px;letter-spacing:0.61px">方法</span>
<span class="cj" style="left:420.3px;top:501.3px;font-size:19.59px;letter-spacing:0.61px">传统</span>
<span class="la" style="left:466.6px;top:501.3px;font-size:20.2px"><i style="width:10.35px;transform:scaleX(1.15)">t</i><i style="width:10.35px;transform:scaleX(0.72)">R</i><i style="width:10.35px;transform:scaleX(0.72)">N</i><i style="width:10.35px;transform:scaleX(0.72)">A</i><i style="width:10.35px;transform:scaleX(1.5)">-</i><i style="width:10.35px;transform:scaleX(1.04)">s</i><i style="width:10.35px;transform:scaleX(1.04)">e</i><i style="width:10.35px;transform:scaleX(1.04)">q</i></span>
<span class="cj" style="left:555.2px;top:501.3px;font-size:19.59px;letter-spacing:0.61px">方法</span>
<span class="cj" style="left:743px;top:498.7px;font-size:19.79px;letter-spacing:0.61px">国产</span>
<span class="la" style="left:788.6px;top:498.7px;font-size:20.4px"><i style="width:9.75px;transform:scaleX(1.04)">s</i><i style="width:9.75px;transform:scaleX(0.72)">m</i><i style="width:9.75px;transform:scaleX(1.04)">a</i><i style="width:9.75px;transform:scaleX(1.15)">l</i><i style="width:9.75px;transform:scaleX(1.15)">l</i></span>
<span class="la" style="left:850.4px;top:498.7px;font-size:20.4px"><i style="width:9.75px;transform:scaleX(0.72)">R</i><i style="width:9.75px;transform:scaleX(0.72)">N</i><i style="width:9.75px;transform:scaleX(0.72)">A</i></span>
<span class="la" style="left:893px;top:498.7px;font-size:20.4px"><i style="width:9.75px;transform:scaleX(0.95)">k</i><i style="width:9.75px;transform:scaleX(1.15)">i</i><i style="width:9.75px;transform:scaleX(1.15)">t</i></span>
<span class="cj" style="left:929.5px;top:498.7px;font-size:19.79px;letter-spacing:0.61px">方法</span>
<div class="wm" style="left:33px;top:-88px"><div class="w1">新使生物</div><div class="w2">NeoRibo</div></div>
<div class="wm" style="left:33px;top:452px"><div class="w1">新使生物</div><div class="w2">NeoRibo</div></div>
<div class="wm" style="left:414px;top:-88px"><div class="w1">新使生物</div><div class="w2">NeoRibo</div></div>
<div class="wm" style="left:414px;top:452px"><div class="w1">新使生物</div><div class="w2">NeoRibo</div></div>
<div class="wm" style="left:795px;top:-88px"><div class="w1">新使生物</div><div class="w2">NeoRibo</div></div>
<div class="wm" style="left:795px;top:452px"><div class="w1">新使生物</div><div class="w2">NeoRibo</div></div>
<div class="wm" style="left:-130px;top:181.75px"><div class="w1">新使生物</div><div class="w2">NeoRibo</div></div>
<div class="wm" style="left:251px;top:181.75px"><div class="w1">新使生物</div><div class="w2">NeoRibo</div></div>
<div class="wm" style="left:632px;top:181.75px"><div class="w1">新使生物</div><div class="w2">NeoRibo</div></div>
<div id="gz">
<svg width="48" height="42" viewBox="0 0 48 42">
<ellipse cx="17.8" cy="15.9" rx="14" ry="10.6" fill="#7a7a7a"/>
<path fill="#7a7a7a" d="M8.200 22.800L6.100 29.400L14 25.600Z"/>
<ellipse cx="31" cy="26.400" rx="13" ry="10.200" fill="#fff"/>
<ellipse cx="31" cy="26.400" rx="12.200" ry="9.400" fill="#7a7a7a"/>
<path fill="#7a7a7a" d="M35.500 34.200L40 38.400L39.200 32.600Z"/>
<circle cx="13.250" cy="13.700" r="1.500" fill="#fff"/><circle cx="22.800" cy="13.700" r="1.500" fill="#fff"/>
<circle cx="27.700" cy="23" r="1.350" fill="#fff"/><circle cx="35.600" cy="23" r="1.350" fill="#fff"/>
</svg>
<span class="t" style="left:55.200px">公众号</span><span class="t" style="left:152.300px">·</span><span class="t" style="left:176px">新使生物</span>
</div>
</div>
</body>
</html>
